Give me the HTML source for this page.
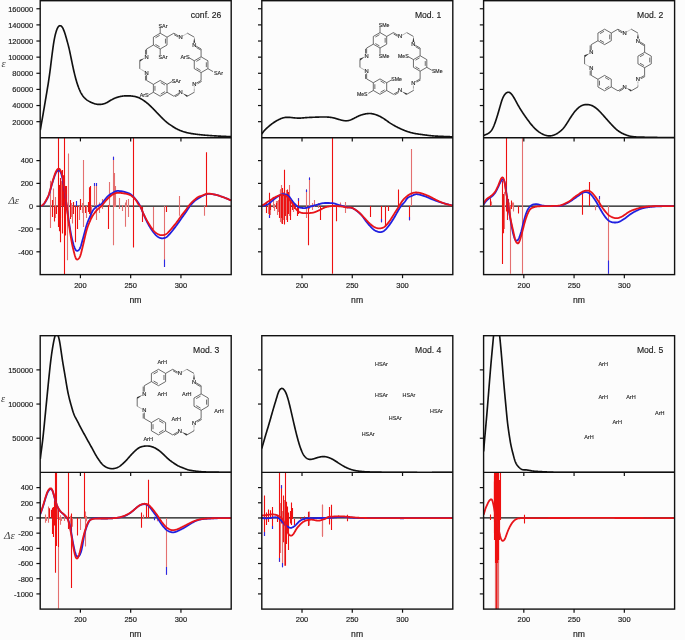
<!DOCTYPE html><html><head><meta charset="utf-8"><style>html,body{margin:0;padding:0;background:#fff;width:685px;height:640px;overflow:hidden}svg{display:block;will-change:transform}</style></head><body><svg width="685" height="640" viewBox="0 0 685 640">
<rect width="685" height="640" fill="#fcfcfc"/>
<style>.tl{font-family:"Liberation Sans", sans-serif;font-size:7.5px;fill:#222;stroke:#222;stroke-width:0.18px} .nm{font-size:8.6px} .ti{font-family:"Liberation Sans", sans-serif;font-size:8.6px;fill:#222;stroke:#222;stroke-width:0.15px} .lab{font-family:"Liberation Sans", sans-serif;font-size:5.6px;fill:#333} .gr{font-family:"Liberation Serif",serif;font-style:italic;fill:#444}</style>
<line x1="40.20" y1="206.20" x2="231.20" y2="206.20" stroke="#111" stroke-width="1.3"/>
<line x1="261.80" y1="206.20" x2="452.80" y2="206.20" stroke="#111" stroke-width="1.3"/>
<line x1="483.60" y1="206.20" x2="674.60" y2="206.20" stroke="#111" stroke-width="1.3"/>
<line x1="40.20" y1="517.97" x2="231.20" y2="517.97" stroke="#111" stroke-width="1.3"/>
<line x1="261.80" y1="517.97" x2="452.80" y2="517.97" stroke="#111" stroke-width="1.3"/>
<line x1="483.60" y1="517.97" x2="674.60" y2="517.97" stroke="#111" stroke-width="1.3"/>
<defs>
<clipPath id="cu00"><rect x="40.20" y="0.70" width="191.00" height="137.10"/></clipPath>
<clipPath id="cl00"><rect x="40.20" y="137.80" width="191.00" height="136.80"/></clipPath>
<clipPath id="cu01"><rect x="261.80" y="0.70" width="191.00" height="137.10"/></clipPath>
<clipPath id="cl01"><rect x="261.80" y="137.80" width="191.00" height="136.80"/></clipPath>
<clipPath id="cu02"><rect x="483.60" y="0.70" width="191.00" height="137.10"/></clipPath>
<clipPath id="cl02"><rect x="483.60" y="137.80" width="191.00" height="136.80"/></clipPath>
<clipPath id="cu10"><rect x="40.20" y="335.70" width="191.00" height="136.70"/></clipPath>
<clipPath id="cl10"><rect x="40.20" y="472.40" width="191.00" height="136.70"/></clipPath>
<clipPath id="cu11"><rect x="261.80" y="335.70" width="191.00" height="136.70"/></clipPath>
<clipPath id="cl11"><rect x="261.80" y="472.40" width="191.00" height="136.70"/></clipPath>
<clipPath id="cu12"><rect x="483.60" y="335.70" width="191.00" height="136.70"/></clipPath>
<clipPath id="cl12"><rect x="483.60" y="472.40" width="191.00" height="136.70"/></clipPath>
</defs>
<g clip-path="url(#cl00)">
<line x1="50.50" y1="180.80" x2="50.50" y2="228.00" stroke="#e47070" stroke-width="1.1"/>
<line x1="52.50" y1="200.00" x2="52.50" y2="217.00" stroke="#ee1010" stroke-width="1.1"/>
<line x1="53.50" y1="188.40" x2="53.50" y2="206.00" stroke="#e47070" stroke-width="1.1"/>
<line x1="54.50" y1="206.00" x2="54.50" y2="221.40" stroke="#ee1010" stroke-width="1.1"/>
<line x1="55.50" y1="197.00" x2="55.50" y2="218.00" stroke="#e47070" stroke-width="1.1"/>
<line x1="56.50" y1="206.00" x2="56.50" y2="214.00" stroke="#ee1010" stroke-width="1.1"/>
<line x1="58.50" y1="138.00" x2="58.50" y2="227.00" stroke="#ee1010" stroke-width="1.1"/>
<line x1="59.50" y1="200.00" x2="59.50" y2="231.30" stroke="#ee1010" stroke-width="1.1"/>
<line x1="60.50" y1="184.00" x2="60.50" y2="242.20" stroke="#ee1010" stroke-width="1.1"/>
<line x1="61.50" y1="180.80" x2="61.50" y2="206.00" stroke="#e47070" stroke-width="1.1"/>
<line x1="62.50" y1="206.00" x2="62.50" y2="233.40" stroke="#ee1010" stroke-width="1.1"/>
<line x1="62.50" y1="200.00" x2="62.50" y2="218.00" stroke="#ee1010" stroke-width="1.1"/>
<line x1="63.50" y1="175.30" x2="63.50" y2="206.00" stroke="#ee1010" stroke-width="1.1"/>
<line x1="64.50" y1="138.00" x2="64.50" y2="275.00" stroke="#ee1010" stroke-width="1.1"/>
<line x1="65.50" y1="190.00" x2="65.50" y2="235.60" stroke="#ee1010" stroke-width="1.1"/>
<line x1="66.50" y1="186.00" x2="66.50" y2="210.00" stroke="#ee1010" stroke-width="1.1"/>
<line x1="67.50" y1="206.00" x2="67.50" y2="260.20" stroke="#e47070" stroke-width="1.1"/>
<line x1="68.50" y1="153.40" x2="68.50" y2="206.00" stroke="#e47070" stroke-width="1.1"/>
<line x1="70.50" y1="200.00" x2="70.50" y2="219.00" stroke="#ee1010" stroke-width="1.1"/>
<line x1="71.50" y1="203.00" x2="71.50" y2="217.00" stroke="#e47070" stroke-width="1.1"/>
<line x1="72.50" y1="206.00" x2="72.50" y2="223.60" stroke="#e47070" stroke-width="1.1"/>
<line x1="73.50" y1="202.00" x2="73.50" y2="214.00" stroke="#ee1010" stroke-width="1.1"/>
<line x1="75.50" y1="206.00" x2="75.50" y2="242.20" stroke="#ee1010" stroke-width="1.1"/>
<line x1="76.50" y1="201.00" x2="76.50" y2="206.00" stroke="#2a2ae6" stroke-width="1.1"/>
<line x1="77.50" y1="206.00" x2="77.50" y2="229.00" stroke="#ee1010" stroke-width="1.1"/>
<line x1="79.50" y1="206.00" x2="79.50" y2="220.00" stroke="#e47070" stroke-width="1.1"/>
<line x1="80.50" y1="199.00" x2="80.50" y2="210.00" stroke="#ee1010" stroke-width="1.1"/>
<line x1="82.50" y1="203.00" x2="82.50" y2="213.00" stroke="#e47070" stroke-width="1.1"/>
<line x1="83.50" y1="160.00" x2="83.50" y2="227.00" stroke="#e47070" stroke-width="1.1"/>
<line x1="85.50" y1="206.00" x2="85.50" y2="213.00" stroke="#ee1010" stroke-width="1.1"/>
<line x1="86.50" y1="206.00" x2="86.50" y2="218.00" stroke="#e47070" stroke-width="1.1"/>
<line x1="88.50" y1="202.00" x2="88.50" y2="212.00" stroke="#ee1010" stroke-width="1.1"/>
<line x1="89.50" y1="187.30" x2="89.50" y2="214.00" stroke="#ee1010" stroke-width="1.1"/>
<line x1="90.50" y1="186.00" x2="90.50" y2="219.20" stroke="#ee1010" stroke-width="1.1"/>
<line x1="91.50" y1="206.00" x2="91.50" y2="219.00" stroke="#e47070" stroke-width="1.1"/>
<line x1="94.50" y1="183.00" x2="94.50" y2="206.00" stroke="#e47070" stroke-width="1.1"/>
<line x1="94.50" y1="183.00" x2="94.50" y2="186.00" stroke="#2a2ae6" stroke-width="1.1"/>
<line x1="59.50" y1="185.00" x2="59.50" y2="206.00" stroke="#ee1010" stroke-width="1.1"/>
<line x1="60.50" y1="178.00" x2="60.50" y2="206.00" stroke="#ee1010" stroke-width="1.1"/>
<line x1="62.50" y1="182.00" x2="62.50" y2="206.00" stroke="#ee1010" stroke-width="1.1"/>
<line x1="62.50" y1="170.00" x2="62.50" y2="206.00" stroke="#ee1010" stroke-width="1.1"/>
<line x1="64.50" y1="176.00" x2="64.50" y2="206.00" stroke="#ee1010" stroke-width="1.1"/>
<line x1="65.50" y1="186.00" x2="65.50" y2="206.00" stroke="#ee1010" stroke-width="1.1"/>
<line x1="66.50" y1="190.00" x2="66.50" y2="206.00" stroke="#ee1010" stroke-width="1.1"/>
<line x1="68.50" y1="206.00" x2="68.50" y2="226.00" stroke="#e47070" stroke-width="1.1"/>
<line x1="96.50" y1="183.00" x2="96.50" y2="220.00" stroke="#e47070" stroke-width="1.1"/>
<line x1="96.50" y1="183.00" x2="96.50" y2="186.00" stroke="#2a2ae6" stroke-width="1.1"/>
<line x1="99.50" y1="202.60" x2="99.50" y2="213.00" stroke="#e47070" stroke-width="1.1"/>
<line x1="102.50" y1="199.00" x2="102.50" y2="209.00" stroke="#e47070" stroke-width="1.1"/>
<line x1="108.50" y1="205.00" x2="108.50" y2="229.00" stroke="#ee1010" stroke-width="1.1"/>
<line x1="109.50" y1="182.00" x2="109.50" y2="207.00" stroke="#e47070" stroke-width="1.1"/>
<line x1="113.50" y1="156.70" x2="113.50" y2="245.30" stroke="#e47070" stroke-width="1.1"/>
<line x1="113.50" y1="156.70" x2="113.50" y2="160.00" stroke="#2a2ae6" stroke-width="1.1"/>
<line x1="114.50" y1="173.00" x2="114.50" y2="207.00" stroke="#e47070" stroke-width="1.1"/>
<line x1="115.50" y1="186.00" x2="115.50" y2="207.00" stroke="#e47070" stroke-width="1.1"/>
<line x1="119.50" y1="198.00" x2="119.50" y2="209.00" stroke="#e47070" stroke-width="1.1"/>
<line x1="122.50" y1="205.00" x2="122.50" y2="211.00" stroke="#e47070" stroke-width="1.1"/>
<line x1="125.50" y1="202.60" x2="125.50" y2="226.70" stroke="#e47070" stroke-width="1.1"/>
<line x1="126.50" y1="200.00" x2="126.50" y2="207.00" stroke="#e47070" stroke-width="1.1"/>
<line x1="128.50" y1="199.00" x2="128.50" y2="217.00" stroke="#e47070" stroke-width="1.1"/>
<line x1="133.50" y1="138.00" x2="133.50" y2="247.50" stroke="#ee1010" stroke-width="1.1"/>
<line x1="142.50" y1="207.00" x2="142.50" y2="222.00" stroke="#ee1010" stroke-width="1.1"/>
<line x1="153.50" y1="207.00" x2="153.50" y2="229.00" stroke="#e47070" stroke-width="1.1"/>
<line x1="164.50" y1="206.00" x2="164.50" y2="267.00" stroke="#e47070" stroke-width="1.1"/>
<line x1="164.50" y1="259.50" x2="164.50" y2="267.00" stroke="#2a2ae6" stroke-width="1.1"/>
<line x1="166.50" y1="206.00" x2="166.50" y2="212.00" stroke="#ee1010" stroke-width="1.1"/>
<line x1="179.50" y1="196.00" x2="179.50" y2="215.80" stroke="#e47070" stroke-width="1.1"/>
<line x1="204.50" y1="206.00" x2="204.50" y2="215.80" stroke="#e47070" stroke-width="1.1"/>
<line x1="206.50" y1="152.30" x2="206.50" y2="207.00" stroke="#ee1010" stroke-width="1.1"/>
<path d="M40.20,206.10 L40.60,206.03 L41.00,205.95 L41.40,205.84 L41.80,205.69 L42.20,205.50 L42.60,205.25 L43.00,204.94 L43.40,204.57 L43.80,204.14 L44.20,203.66 L44.60,203.13 L45.00,202.55 L45.40,201.93 L45.80,201.28 L46.20,200.60 L46.60,199.90 L47.00,199.16 L47.40,198.37 L47.80,197.52 L48.20,196.60 L48.60,195.59 L49.00,194.49 L49.40,193.30 L49.80,192.00 L50.20,190.61 L50.60,189.16 L51.00,187.69 L51.40,186.24 L51.80,184.85 L52.20,183.49 L52.60,182.17 L53.00,180.88 L53.40,179.60 L53.80,178.36 L54.20,177.17 L54.60,176.05 L55.00,175.00 L55.40,174.04 L55.80,173.18 L56.20,172.44 L56.60,171.81 L57.00,171.29 L57.40,170.90 L57.80,170.62 L58.20,170.43 L58.60,170.34 L59.00,170.36 L59.40,170.53 L59.80,170.87 L60.20,171.41 L60.60,172.15 L61.00,173.11 L61.40,174.28 L61.80,175.66 L62.20,177.22 L62.60,178.95 L63.00,180.83 L63.40,182.90 L63.80,185.16 L64.20,187.64 L64.60,190.34 L65.00,193.21 L65.40,196.18 L65.80,199.22 L66.20,202.25 L66.60,205.23 L67.00,208.15 L67.40,211.02 L67.80,213.84 L68.20,216.62 L68.60,219.37 L69.00,222.09 L69.40,224.73 L69.80,227.28 L70.20,229.69 L70.60,231.96 L71.00,234.09 L71.40,236.09 L71.80,237.95 L72.20,239.70 L72.60,241.32 L73.00,242.82 L73.40,244.22 L73.80,245.50 L74.20,246.68 L74.60,247.74 L75.00,248.66 L75.40,249.44 L75.80,250.05 L76.20,250.49 L76.60,250.75 L77.00,250.86 L77.40,250.83 L77.80,250.70 L78.20,250.48 L78.60,250.19 L79.00,249.79 L79.40,249.26 L79.80,248.59 L80.20,247.75 L80.60,246.72 L81.00,245.50 L81.40,244.15 L81.80,242.72 L82.20,241.28 L82.60,239.84 L83.00,238.41 L83.40,236.96 L83.80,235.50 L84.20,234.01 L84.60,232.50 L85.00,231.00 L85.40,229.50 L85.80,228.03 L86.20,226.61 L86.60,225.26 L87.00,224.00 L87.40,222.85 L87.80,221.80 L88.20,220.81 L88.60,219.87 L89.00,218.96 L89.40,218.04 L89.80,217.12 L90.20,216.20 L90.60,215.28 L91.00,214.38 L91.40,213.50 L91.80,212.65 L92.20,211.83 L92.60,211.07 L93.00,210.38 L93.40,209.77 L93.80,209.25 L94.20,208.82 L94.60,208.45 L95.00,208.10 L95.40,207.76 L95.80,207.42 L96.20,207.09 L96.60,206.77 L97.00,206.46 L97.40,206.17 L97.80,205.90 L98.20,205.66 L98.60,205.44 L99.00,205.24 L99.40,205.04 L99.80,204.85 L100.20,204.65 L100.60,204.42 L101.00,204.17 L101.40,203.87 L101.80,203.52 L102.20,203.11 L102.60,202.67 L103.00,202.18 L103.40,201.67 L103.80,201.14 L104.20,200.61 L104.60,200.07 L105.00,199.54 L105.40,199.02 L105.80,198.51 L106.20,198.03 L106.60,197.56 L107.00,197.11 L107.40,196.69 L107.80,196.28 L108.20,195.91 L108.60,195.56 L109.00,195.24 L109.40,194.93 L109.80,194.65 L110.20,194.38 L110.60,194.12 L111.00,193.88 L111.40,193.64 L111.80,193.40 L112.20,193.17 L112.60,192.94 L113.00,192.71 L113.40,192.48 L113.80,192.25 L114.20,192.03 L114.60,191.82 L115.00,191.63 L115.40,191.45 L115.80,191.30 L116.20,191.17 L116.60,191.06 L117.00,190.98 L117.40,190.94 L117.80,190.92 L118.20,190.93 L118.60,190.95 L119.00,190.98 L119.40,191.03 L119.80,191.08 L120.20,191.12 L120.60,191.17 L121.00,191.22 L121.40,191.26 L121.80,191.32 L122.20,191.37 L122.60,191.44 L123.00,191.51 L123.40,191.60 L123.80,191.70 L124.20,191.81 L124.60,191.92 L125.00,192.05 L125.40,192.18 L125.80,192.31 L126.20,192.44 L126.60,192.57 L127.00,192.69 L127.40,192.82 L127.80,192.95 L128.20,193.08 L128.60,193.23 L129.00,193.39 L129.40,193.58 L129.80,193.79 L130.20,194.02 L130.60,194.29 L131.00,194.58 L131.40,194.90 L131.80,195.25 L132.20,195.61 L132.60,195.99 L133.00,196.39 L133.40,196.80 L133.80,197.23 L134.20,197.66 L134.60,198.11 L135.00,198.57 L135.40,199.04 L135.80,199.51 L136.20,200.00 L136.60,200.50 L137.00,201.01 L137.40,201.53 L137.80,202.08 L138.20,202.66 L138.60,203.27 L139.00,203.93 L139.40,204.63 L139.80,205.40 L140.20,206.23 L140.60,207.11 L141.00,208.03 L141.40,208.97 L141.80,209.94 L142.20,210.91 L142.60,211.88 L143.00,212.84 L143.40,213.79 L143.80,214.72 L144.20,215.65 L144.60,216.57 L145.00,217.48 L145.40,218.38 L145.80,219.27 L146.20,220.14 L146.60,220.98 L147.00,221.80 L147.40,222.59 L147.80,223.36 L148.20,224.10 L148.60,224.82 L149.00,225.52 L149.40,226.20 L149.80,226.87 L150.20,227.53 L150.60,228.17 L151.00,228.79 L151.40,229.41 L151.80,230.00 L152.20,230.58 L152.60,231.14 L153.00,231.69 L153.40,232.21 L153.80,232.73 L154.20,233.22 L154.60,233.70 L155.00,234.16 L155.40,234.60 L155.80,235.02 L156.20,235.41 L156.60,235.78 L157.00,236.12 L157.40,236.44 L157.80,236.73 L158.20,237.00 L158.60,237.24 L159.00,237.46 L159.40,237.66 L159.80,237.83 L160.20,237.98 L160.60,238.10 L161.00,238.19 L161.40,238.26 L161.80,238.29 L162.20,238.31 L162.60,238.29 L163.00,238.26 L163.40,238.20 L163.80,238.13 L164.20,238.05 L164.60,237.95 L165.00,237.84 L165.40,237.70 L165.80,237.52 L166.20,237.30 L166.60,237.02 L167.00,236.69 L167.40,236.32 L167.80,235.93 L168.20,235.51 L168.60,235.10 L169.00,234.68 L169.40,234.26 L169.80,233.83 L170.20,233.40 L170.60,232.95 L171.00,232.48 L171.40,232.00 L171.80,231.50 L172.20,230.99 L172.60,230.48 L173.00,229.96 L173.40,229.44 L173.80,228.93 L174.20,228.42 L174.60,227.90 L175.00,227.39 L175.40,226.86 L175.80,226.33 L176.20,225.80 L176.60,225.25 L177.00,224.70 L177.40,224.14 L177.80,223.58 L178.20,223.02 L178.60,222.45 L179.00,221.88 L179.40,221.30 L179.80,220.72 L180.20,220.15 L180.60,219.56 L181.00,218.98 L181.40,218.40 L181.80,217.83 L182.20,217.26 L182.60,216.70 L183.00,216.15 L183.40,215.60 L183.80,215.06 L184.20,214.52 L184.60,213.96 L185.00,213.40 L185.40,212.82 L185.80,212.23 L186.20,211.63 L186.60,211.03 L187.00,210.41 L187.40,209.80 L187.80,209.19 L188.20,208.58 L188.60,207.98 L189.00,207.39 L189.40,206.82 L189.80,206.26 L190.20,205.74 L190.60,205.23 L191.00,204.74 L191.40,204.28 L191.80,203.82 L192.20,203.38 L192.60,202.95 L193.00,202.54 L193.40,202.14 L193.80,201.75 L194.20,201.38 L194.60,201.02 L195.00,200.68 L195.40,200.35 L195.80,200.04 L196.20,199.75 L196.60,199.47 L197.00,199.20 L197.40,198.95 L197.80,198.71 L198.20,198.47 L198.60,198.24 L199.00,198.00 L199.40,197.76 L199.80,197.51 L200.20,197.26 L200.60,197.01 L201.00,196.76 L201.40,196.52 L201.80,196.28 L202.20,196.06 L202.60,195.84 L203.00,195.63 L203.40,195.43 L203.80,195.24 L204.20,195.06 L204.60,194.89 L205.00,194.73 L205.40,194.59 L205.80,194.46 L206.20,194.34 L206.60,194.24 L207.00,194.15 L207.40,194.07 L207.80,194.01 L208.20,193.96 L208.60,193.93 L209.00,193.91 L209.40,193.90 L209.80,193.91 L210.20,193.93 L210.60,193.96 L211.00,193.99 L211.40,194.04 L211.80,194.10 L212.20,194.15 L212.60,194.22 L213.00,194.28 L213.40,194.35 L213.80,194.42 L214.20,194.49 L214.60,194.57 L215.00,194.65 L215.40,194.74 L215.80,194.83 L216.20,194.92 L216.60,195.02 L217.00,195.13 L217.40,195.24 L217.80,195.35 L218.20,195.47 L218.60,195.60 L219.00,195.72 L219.40,195.85 L219.80,195.99 L220.20,196.12 L220.60,196.26 L221.00,196.40 L221.40,196.53 L221.80,196.67 L222.20,196.81 L222.60,196.95 L223.00,197.09 L223.40,197.24 L223.80,197.38 L224.20,197.53 L224.60,197.67 L225.00,197.83 L225.40,197.98 L225.80,198.14 L226.20,198.30 L226.60,198.47 L227.00,198.63 L227.40,198.81 L227.80,198.98 L228.20,199.16 L228.60,199.34 L229.00,199.52 L229.40,199.71 L229.80,199.89 L230.20,200.08 L230.60,200.27 L231.00,200.45 L231.10,200.50" fill="none" stroke="#2020e0" stroke-width="1.8" stroke-linejoin="round"/>
<path d="M40.20,206.10 L40.60,205.99 L41.00,205.86 L41.40,205.71 L41.80,205.53 L42.20,205.30 L42.60,205.01 L43.00,204.66 L43.40,204.26 L43.80,203.79 L44.20,203.27 L44.60,202.69 L45.00,202.06 L45.40,201.40 L45.80,200.71 L46.20,200.00 L46.60,199.29 L47.00,198.55 L47.40,197.77 L47.80,196.92 L48.20,196.00 L48.60,194.98 L49.00,193.86 L49.40,192.63 L49.80,191.30 L50.20,189.87 L50.60,188.39 L51.00,186.90 L51.40,185.44 L51.80,184.05 L52.20,182.70 L52.60,181.38 L53.00,180.07 L53.40,178.76 L53.80,177.46 L54.20,176.21 L54.60,175.01 L55.00,173.90 L55.40,172.88 L55.80,171.95 L56.20,171.13 L56.60,170.43 L57.00,169.85 L57.40,169.40 L57.80,169.06 L58.20,168.84 L58.60,168.73 L59.00,168.75 L59.40,168.93 L59.80,169.29 L60.20,169.84 L60.60,170.57 L61.00,171.48 L61.40,172.56 L61.80,173.83 L62.20,175.28 L62.60,176.93 L63.00,178.79 L63.40,180.86 L63.80,183.19 L64.20,185.77 L64.60,188.62 L65.00,191.69 L65.40,194.93 L65.80,198.29 L66.20,201.73 L66.60,205.20 L67.00,208.67 L67.40,212.08 L67.80,215.42 L68.20,218.64 L68.60,221.72 L69.00,224.64 L69.40,227.45 L69.80,230.16 L70.20,232.83 L70.60,235.43 L71.00,237.94 L71.40,240.32 L71.80,242.54 L72.20,244.57 L72.60,246.44 L73.00,248.20 L73.40,249.88 L73.80,251.50 L74.20,253.09 L74.60,254.61 L75.00,256.01 L75.40,257.24 L75.80,258.23 L76.20,258.95 L76.60,259.36 L77.00,259.53 L77.40,259.50 L77.80,259.32 L78.20,259.06 L78.60,258.73 L79.00,258.29 L79.40,257.72 L79.80,256.98 L80.20,256.05 L80.60,254.89 L81.00,253.50 L81.40,251.96 L81.80,250.33 L82.20,248.67 L82.60,247.03 L83.00,245.38 L83.40,243.71 L83.80,242.00 L84.20,240.25 L84.60,238.48 L85.00,236.72 L85.40,235.00 L85.80,233.34 L86.20,231.76 L86.60,230.27 L87.00,228.90 L87.40,227.65 L87.80,226.51 L88.20,225.45 L88.60,224.45 L89.00,223.48 L89.40,222.52 L89.80,221.57 L90.20,220.62 L90.60,219.71 L91.00,218.83 L91.40,218.00 L91.80,217.23 L92.20,216.51 L92.60,215.83 L93.00,215.20 L93.40,214.59 L93.80,214.01 L94.20,213.46 L94.60,212.92 L95.00,212.40 L95.40,211.89 L95.80,211.40 L96.20,210.92 L96.60,210.46 L97.00,210.01 L97.40,209.59 L97.80,209.19 L98.20,208.82 L98.60,208.47 L99.00,208.13 L99.40,207.81 L99.80,207.49 L100.20,207.17 L100.60,206.83 L101.00,206.48 L101.40,206.10 L101.80,205.69 L102.20,205.25 L102.60,204.78 L103.00,204.29 L103.40,203.79 L103.80,203.28 L104.20,202.76 L104.60,202.25 L105.00,201.75 L105.40,201.26 L105.80,200.79 L106.20,200.33 L106.60,199.88 L107.00,199.44 L107.40,199.02 L107.80,198.60 L108.20,198.20 L108.60,197.81 L109.00,197.43 L109.40,197.07 L109.80,196.71 L110.20,196.37 L110.60,196.04 L111.00,195.73 L111.40,195.43 L111.80,195.14 L112.20,194.86 L112.60,194.60 L113.00,194.35 L113.40,194.12 L113.80,193.91 L114.20,193.72 L114.60,193.54 L115.00,193.39 L115.40,193.25 L115.80,193.13 L116.20,193.04 L116.60,192.96 L117.00,192.89 L117.40,192.84 L117.80,192.81 L118.20,192.79 L118.60,192.79 L119.00,192.80 L119.40,192.81 L119.80,192.84 L120.20,192.87 L120.60,192.92 L121.00,192.96 L121.40,193.01 L121.80,193.07 L122.20,193.12 L122.60,193.18 L123.00,193.24 L123.40,193.30 L123.80,193.37 L124.20,193.43 L124.60,193.50 L125.00,193.57 L125.40,193.64 L125.80,193.72 L126.20,193.80 L126.60,193.88 L127.00,193.96 L127.40,194.06 L127.80,194.16 L128.20,194.28 L128.60,194.41 L129.00,194.56 L129.40,194.72 L129.80,194.90 L130.20,195.10 L130.60,195.33 L131.00,195.57 L131.40,195.83 L131.80,196.11 L132.20,196.40 L132.60,196.70 L133.00,197.02 L133.40,197.36 L133.80,197.72 L134.20,198.10 L134.60,198.51 L135.00,198.95 L135.40,199.44 L135.80,199.97 L136.20,200.55 L136.60,201.20 L137.00,201.91 L137.40,202.64 L137.80,203.35 L138.20,204.01 L138.60,204.57 L139.00,204.99 L139.40,205.32 L139.80,205.67 L140.20,206.18 L140.60,206.88 L141.00,207.72 L141.40,208.67 L141.80,209.68 L142.20,210.70 L142.60,211.69 L143.00,212.62 L143.40,213.51 L143.80,214.37 L144.20,215.19 L144.60,216.00 L145.00,216.80 L145.40,217.58 L145.80,218.35 L146.20,219.12 L146.60,219.87 L147.00,220.60 L147.40,221.32 L147.80,222.02 L148.20,222.72 L148.60,223.39 L149.00,224.05 L149.40,224.70 L149.80,225.33 L150.20,225.95 L150.60,226.56 L151.00,227.15 L151.40,227.73 L151.80,228.30 L152.20,228.85 L152.60,229.39 L153.00,229.91 L153.40,230.40 L153.80,230.87 L154.20,231.31 L154.60,231.71 L155.00,232.09 L155.40,232.43 L155.80,232.76 L156.20,233.06 L156.60,233.34 L157.00,233.60 L157.40,233.84 L157.80,234.06 L158.20,234.27 L158.60,234.46 L159.00,234.62 L159.40,234.77 L159.80,234.90 L160.20,235.01 L160.60,235.10 L161.00,235.16 L161.40,235.21 L161.80,235.22 L162.20,235.22 L162.60,235.19 L163.00,235.14 L163.40,235.06 L163.80,234.97 L164.20,234.86 L164.60,234.74 L165.00,234.59 L165.40,234.43 L165.80,234.23 L166.20,234.00 L166.60,233.72 L167.00,233.41 L167.40,233.06 L167.80,232.69 L168.20,232.30 L168.60,231.90 L169.00,231.49 L169.40,231.07 L169.80,230.64 L170.20,230.20 L170.60,229.75 L171.00,229.28 L171.40,228.81 L171.80,228.32 L172.20,227.83 L172.60,227.34 L173.00,226.84 L173.40,226.36 L173.80,225.88 L174.20,225.40 L174.60,224.92 L175.00,224.44 L175.40,223.95 L175.80,223.45 L176.20,222.94 L176.60,222.41 L177.00,221.88 L177.40,221.34 L177.80,220.78 L178.20,220.22 L178.60,219.64 L179.00,219.07 L179.40,218.49 L179.80,217.91 L180.20,217.34 L180.60,216.78 L181.00,216.22 L181.40,215.68 L181.80,215.14 L182.20,214.61 L182.60,214.10 L183.00,213.60 L183.40,213.10 L183.80,212.60 L184.20,212.11 L184.60,211.61 L185.00,211.10 L185.40,210.58 L185.80,210.04 L186.20,209.49 L186.60,208.93 L187.00,208.35 L187.40,207.77 L187.80,207.18 L188.20,206.60 L188.60,206.04 L189.00,205.51 L189.40,205.00 L189.80,204.53 L190.20,204.07 L190.60,203.63 L191.00,203.20 L191.40,202.77 L191.80,202.36 L192.20,201.95 L192.60,201.55 L193.00,201.17 L193.40,200.80 L193.80,200.45 L194.20,200.11 L194.60,199.78 L195.00,199.46 L195.40,199.13 L195.80,198.80 L196.20,198.46 L196.60,198.12 L197.00,197.79 L197.40,197.48 L197.80,197.19 L198.20,196.94 L198.60,196.74 L199.00,196.56 L199.40,196.42 L199.80,196.30 L200.20,196.19 L200.60,196.09 L201.00,195.98 L201.40,195.86 L201.80,195.73 L202.20,195.58 L202.60,195.42 L203.00,195.24 L203.40,195.06 L203.80,194.88 L204.20,194.69 L204.60,194.52 L205.00,194.35 L205.40,194.20 L205.80,194.06 L206.20,193.95 L206.60,193.85 L207.00,193.78 L207.40,193.73 L207.80,193.70 L208.20,193.68 L208.60,193.68 L209.00,193.69 L209.40,193.71 L209.80,193.73 L210.20,193.77 L210.60,193.81 L211.00,193.86 L211.40,193.92 L211.80,193.98 L212.20,194.05 L212.60,194.12 L213.00,194.19 L213.40,194.27 L213.80,194.35 L214.20,194.43 L214.60,194.52 L215.00,194.61 L215.40,194.71 L215.80,194.81 L216.20,194.91 L216.60,195.02 L217.00,195.13 L217.40,195.24 L217.80,195.36 L218.20,195.48 L218.60,195.61 L219.00,195.73 L219.40,195.86 L219.80,195.99 L220.20,196.13 L220.60,196.26 L221.00,196.40 L221.40,196.53 L221.80,196.67 L222.20,196.81 L222.60,196.95 L223.00,197.09 L223.40,197.23 L223.80,197.38 L224.20,197.52 L224.60,197.67 L225.00,197.82 L225.40,197.98 L225.80,198.14 L226.20,198.30 L226.60,198.47 L227.00,198.64 L227.40,198.81 L227.80,198.98 L228.20,199.16 L228.60,199.34 L229.00,199.52 L229.40,199.71 L229.80,199.89 L230.20,200.08 L230.60,200.27 L231.00,200.45 L231.10,200.50" fill="none" stroke="#e8141a" stroke-width="1.8" stroke-linejoin="round"/>
</g>
<g clip-path="url(#cu00)"><path d="M40.30,130.00 L40.70,127.74 L41.10,125.47 L41.50,123.20 L41.90,120.93 L42.30,118.65 L42.70,116.35 L43.10,114.05 L43.50,111.73 L43.90,109.40 L44.30,107.06 L44.70,104.71 L45.10,102.35 L45.50,99.97 L45.90,97.59 L46.30,95.20 L46.70,92.80 L47.10,90.40 L47.50,87.98 L47.90,85.53 L48.30,83.02 L48.70,80.42 L49.10,77.70 L49.50,74.85 L49.90,71.86 L50.30,68.78 L50.70,65.62 L51.10,62.42 L51.50,59.19 L51.90,55.98 L52.30,52.82 L52.70,49.77 L53.10,46.86 L53.50,44.14 L53.90,41.66 L54.30,39.41 L54.70,37.38 L55.10,35.56 L55.50,33.92 L55.90,32.45 L56.30,31.13 L56.70,29.97 L57.10,28.95 L57.50,28.08 L57.90,27.36 L58.30,26.77 L58.70,26.32 L59.10,25.99 L59.50,25.79 L59.90,25.69 L60.30,25.70 L60.70,25.81 L61.10,26.01 L61.50,26.33 L61.90,26.75 L62.30,27.29 L62.70,27.94 L63.10,28.71 L63.50,29.59 L63.90,30.57 L64.30,31.64 L64.70,32.80 L65.10,34.03 L65.50,35.33 L65.90,36.67 L66.30,38.06 L66.70,39.48 L67.10,40.92 L67.50,42.38 L67.90,43.87 L68.30,45.40 L68.70,47.00 L69.10,48.67 L69.50,50.42 L69.90,52.25 L70.30,54.14 L70.70,56.08 L71.10,58.03 L71.50,59.99 L71.90,61.94 L72.30,63.87 L72.70,65.77 L73.10,67.64 L73.50,69.45 L73.90,71.22 L74.30,72.92 L74.70,74.57 L75.10,76.16 L75.50,77.69 L75.90,79.16 L76.30,80.57 L76.70,81.93 L77.10,83.22 L77.50,84.46 L77.90,85.63 L78.30,86.75 L78.70,87.82 L79.10,88.82 L79.50,89.78 L79.90,90.68 L80.30,91.53 L80.70,92.33 L81.10,93.08 L81.50,93.79 L81.90,94.45 L82.30,95.07 L82.70,95.65 L83.10,96.19 L83.50,96.70 L83.90,97.17 L84.30,97.62 L84.70,98.03 L85.10,98.43 L85.50,98.80 L85.90,99.15 L86.30,99.48 L86.70,99.80 L87.10,100.10 L87.50,100.38 L87.90,100.65 L88.30,100.90 L88.70,101.14 L89.10,101.37 L89.50,101.59 L89.90,101.79 L90.30,101.99 L90.70,102.18 L91.10,102.37 L91.50,102.54 L91.90,102.72 L92.30,102.88 L92.70,103.04 L93.10,103.19 L93.50,103.34 L93.90,103.48 L94.30,103.61 L94.70,103.73 L95.10,103.85 L95.50,103.95 L95.90,104.05 L96.30,104.13 L96.70,104.21 L97.10,104.27 L97.50,104.33 L97.90,104.37 L98.30,104.40 L98.70,104.42 L99.10,104.43 L99.50,104.43 L99.90,104.42 L100.30,104.41 L100.70,104.38 L101.10,104.34 L101.50,104.29 L101.90,104.24 L102.30,104.17 L102.70,104.09 L103.10,104.00 L103.50,103.90 L103.90,103.79 L104.30,103.66 L104.70,103.53 L105.10,103.38 L105.50,103.22 L105.90,103.05 L106.30,102.86 L106.70,102.66 L107.10,102.45 L107.50,102.23 L107.90,102.00 L108.30,101.77 L108.70,101.53 L109.10,101.29 L109.50,101.05 L109.90,100.81 L110.30,100.56 L110.70,100.32 L111.10,100.09 L111.50,99.86 L111.90,99.63 L112.30,99.42 L112.70,99.21 L113.10,99.01 L113.50,98.81 L113.90,98.62 L114.30,98.44 L114.70,98.27 L115.10,98.10 L115.50,97.94 L115.90,97.78 L116.30,97.63 L116.70,97.49 L117.10,97.36 L117.50,97.23 L117.90,97.11 L118.30,96.99 L118.70,96.88 L119.10,96.77 L119.50,96.68 L119.90,96.58 L120.30,96.50 L120.70,96.41 L121.10,96.34 L121.50,96.27 L121.90,96.20 L122.30,96.14 L122.70,96.09 L123.10,96.04 L123.50,95.99 L123.90,95.95 L124.30,95.92 L124.70,95.89 L125.10,95.86 L125.50,95.84 L125.90,95.82 L126.30,95.81 L126.70,95.80 L127.10,95.80 L127.50,95.80 L127.90,95.80 L128.30,95.81 L128.70,95.82 L129.10,95.84 L129.50,95.86 L129.90,95.88 L130.30,95.91 L130.70,95.94 L131.10,95.98 L131.50,96.02 L131.90,96.06 L132.30,96.11 L132.70,96.16 L133.10,96.21 L133.50,96.27 L133.90,96.34 L134.30,96.41 L134.70,96.48 L135.10,96.57 L135.50,96.66 L135.90,96.75 L136.30,96.86 L136.70,96.97 L137.10,97.09 L137.50,97.22 L137.90,97.37 L138.30,97.52 L138.70,97.68 L139.10,97.86 L139.50,98.05 L139.90,98.24 L140.30,98.45 L140.70,98.67 L141.10,98.89 L141.50,99.13 L141.90,99.37 L142.30,99.62 L142.70,99.87 L143.10,100.13 L143.50,100.40 L143.90,100.67 L144.30,100.95 L144.70,101.24 L145.10,101.53 L145.50,101.82 L145.90,102.13 L146.30,102.43 L146.70,102.75 L147.10,103.07 L147.50,103.40 L147.90,103.74 L148.30,104.09 L148.70,104.44 L149.10,104.80 L149.50,105.17 L149.90,105.54 L150.30,105.92 L150.70,106.30 L151.10,106.69 L151.50,107.09 L151.90,107.49 L152.30,107.89 L152.70,108.29 L153.10,108.70 L153.50,109.11 L153.90,109.52 L154.30,109.94 L154.70,110.35 L155.10,110.77 L155.50,111.19 L155.90,111.61 L156.30,112.03 L156.70,112.45 L157.10,112.87 L157.50,113.29 L157.90,113.70 L158.30,114.12 L158.70,114.54 L159.10,114.95 L159.50,115.37 L159.90,115.78 L160.30,116.19 L160.70,116.60 L161.10,117.00 L161.50,117.41 L161.90,117.81 L162.30,118.20 L162.70,118.60 L163.10,118.99 L163.50,119.37 L163.90,119.75 L164.30,120.12 L164.70,120.49 L165.10,120.86 L165.50,121.21 L165.90,121.56 L166.30,121.90 L166.70,122.24 L167.10,122.56 L167.50,122.88 L167.90,123.19 L168.30,123.48 L168.70,123.78 L169.10,124.06 L169.50,124.34 L169.90,124.61 L170.30,124.88 L170.70,125.15 L171.10,125.41 L171.50,125.67 L171.90,125.93 L172.30,126.20 L172.70,126.46 L173.10,126.71 L173.50,126.97 L173.90,127.23 L174.30,127.48 L174.70,127.73 L175.10,127.97 L175.50,128.21 L175.90,128.44 L176.30,128.67 L176.70,128.89 L177.10,129.10 L177.50,129.30 L177.90,129.50 L178.30,129.69 L178.70,129.87 L179.10,130.05 L179.50,130.22 L179.90,130.39 L180.30,130.55 L180.70,130.70 L181.10,130.85 L181.50,131.00 L181.90,131.14 L182.30,131.28 L182.70,131.42 L183.10,131.56 L183.50,131.69 L183.90,131.81 L184.30,131.94 L184.70,132.06 L185.10,132.17 L185.50,132.28 L185.90,132.39 L186.30,132.50 L186.70,132.60 L187.10,132.70 L187.50,132.79 L187.90,132.88 L188.30,132.97 L188.70,133.05 L189.10,133.13 L189.50,133.21 L189.90,133.29 L190.30,133.36 L190.70,133.43 L191.10,133.50 L191.50,133.57 L191.90,133.63 L192.30,133.69 L192.70,133.75 L193.10,133.81 L193.50,133.87 L193.90,133.93 L194.30,133.99 L194.70,134.04 L195.10,134.10 L195.50,134.15 L195.90,134.20 L196.30,134.25 L196.70,134.30 L197.10,134.35 L197.50,134.40 L197.90,134.45 L198.30,134.49 L198.70,134.54 L199.10,134.58 L199.50,134.63 L199.90,134.67 L200.30,134.71 L200.70,134.75 L201.10,134.79 L201.50,134.83 L201.90,134.87 L202.30,134.91 L202.70,134.95 L203.10,134.99 L203.50,135.02 L203.90,135.06 L204.30,135.10 L204.70,135.13 L205.10,135.17 L205.50,135.20 L205.90,135.23 L206.30,135.27 L206.70,135.30 L207.10,135.33 L207.50,135.36 L207.90,135.39 L208.30,135.42 L208.70,135.45 L209.10,135.48 L209.50,135.51 L209.90,135.54 L210.30,135.56 L210.70,135.59 L211.10,135.62 L211.50,135.65 L211.90,135.67 L212.30,135.70 L212.70,135.72 L213.10,135.75 L213.50,135.77 L213.90,135.80 L214.30,135.82 L214.70,135.85 L215.10,135.87 L215.50,135.89 L215.90,135.92 L216.30,135.94 L216.70,135.97 L217.10,135.99 L217.50,136.01 L217.90,136.03 L218.30,136.06 L218.70,136.08 L219.10,136.10 L219.50,136.12 L219.90,136.15 L220.30,136.17 L220.70,136.19 L221.10,136.21 L221.50,136.23 L221.90,136.25 L222.30,136.27 L222.70,136.29 L223.10,136.30 L223.50,136.32 L223.90,136.34 L224.30,136.36 L224.70,136.37 L225.10,136.39 L225.50,136.41 L225.90,136.42 L226.30,136.44 L226.70,136.45 L227.10,136.47 L227.50,136.48 L227.90,136.49 L228.30,136.51 L228.70,136.52 L229.10,136.54 L229.50,136.55 L229.90,136.56 L230.30,136.58 L230.70,136.59 L231.00,136.60" fill="none" stroke="#111" stroke-width="1.65" stroke-linejoin="round"/></g>
<g clip-path="url(#cl01)">
<line x1="269.50" y1="192.80" x2="269.50" y2="218.00" stroke="#ee1010" stroke-width="1.1"/>
<line x1="269.50" y1="215.00" x2="269.50" y2="218.00" stroke="#2a2ae6" stroke-width="1.1"/>
<line x1="270.50" y1="200.00" x2="270.50" y2="215.00" stroke="#e47070" stroke-width="1.1"/>
<line x1="273.50" y1="199.00" x2="273.50" y2="208.00" stroke="#e47070" stroke-width="1.1"/>
<line x1="276.50" y1="201.00" x2="276.50" y2="206.00" stroke="#e47070" stroke-width="1.1"/>
<line x1="278.50" y1="200.00" x2="278.50" y2="212.00" stroke="#e47070" stroke-width="1.1"/>
<line x1="280.50" y1="189.50" x2="280.50" y2="215.80" stroke="#ee1010" stroke-width="1.1"/>
<line x1="281.50" y1="185.00" x2="281.50" y2="223.40" stroke="#e47070" stroke-width="1.1"/>
<line x1="283.50" y1="193.00" x2="283.50" y2="217.00" stroke="#ee1010" stroke-width="1.1"/>
<line x1="284.50" y1="169.80" x2="284.50" y2="224.50" stroke="#ee1010" stroke-width="1.1"/>
<line x1="285.50" y1="195.00" x2="285.50" y2="216.00" stroke="#ee1010" stroke-width="1.1"/>
<line x1="287.50" y1="189.50" x2="287.50" y2="220.00" stroke="#ee1010" stroke-width="1.1"/>
<line x1="289.50" y1="185.00" x2="289.50" y2="207.00" stroke="#e47070" stroke-width="1.1"/>
<line x1="290.50" y1="202.00" x2="290.50" y2="220.00" stroke="#ee1010" stroke-width="1.1"/>
<line x1="292.50" y1="200.00" x2="292.50" y2="210.00" stroke="#ee1010" stroke-width="1.1"/>
<line x1="297.50" y1="206.00" x2="297.50" y2="216.00" stroke="#ee1010" stroke-width="1.1"/>
<line x1="298.50" y1="198.30" x2="298.50" y2="214.00" stroke="#ee1010" stroke-width="1.1"/>
<line x1="298.50" y1="198.30" x2="298.50" y2="201.00" stroke="#2a2ae6" stroke-width="1.1"/>
<line x1="306.50" y1="189.50" x2="306.50" y2="218.00" stroke="#e47070" stroke-width="1.1"/>
<line x1="306.50" y1="189.50" x2="306.50" y2="192.00" stroke="#2a2ae6" stroke-width="1.1"/>
<line x1="308.50" y1="206.00" x2="308.50" y2="245.30" stroke="#ee1010" stroke-width="1.1"/>
<line x1="309.50" y1="177.50" x2="309.50" y2="209.00" stroke="#e47070" stroke-width="1.1"/>
<line x1="309.50" y1="177.50" x2="309.50" y2="180.00" stroke="#2a2ae6" stroke-width="1.1"/>
<line x1="312.50" y1="203.00" x2="312.50" y2="210.00" stroke="#e47070" stroke-width="1.1"/>
<line x1="314.50" y1="200.00" x2="314.50" y2="207.00" stroke="#e47070" stroke-width="1.1"/>
<line x1="318.50" y1="203.00" x2="318.50" y2="208.00" stroke="#e47070" stroke-width="1.1"/>
<line x1="320.50" y1="206.00" x2="320.50" y2="220.00" stroke="#ee1010" stroke-width="1.1"/>
<line x1="266.50" y1="203.00" x2="266.50" y2="213.00" stroke="#ee1010" stroke-width="1.1"/>
<line x1="268.50" y1="204.00" x2="268.50" y2="214.00" stroke="#e47070" stroke-width="1.1"/>
<line x1="270.50" y1="202.00" x2="270.50" y2="210.00" stroke="#ee1010" stroke-width="1.1"/>
<line x1="274.50" y1="204.00" x2="274.50" y2="211.00" stroke="#e47070" stroke-width="1.1"/>
<line x1="276.50" y1="203.00" x2="276.50" y2="209.00" stroke="#ee1010" stroke-width="1.1"/>
<line x1="277.50" y1="201.00" x2="277.50" y2="215.00" stroke="#e47070" stroke-width="1.1"/>
<line x1="290.50" y1="201.00" x2="290.50" y2="216.00" stroke="#ee1010" stroke-width="1.1"/>
<line x1="293.50" y1="203.00" x2="293.50" y2="212.00" stroke="#e47070" stroke-width="1.1"/>
<line x1="294.50" y1="204.00" x2="294.50" y2="209.00" stroke="#ee1010" stroke-width="1.1"/>
<line x1="279.50" y1="196.00" x2="279.50" y2="218.00" stroke="#ee1010" stroke-width="1.1"/>
<line x1="280.50" y1="190.00" x2="280.50" y2="222.00" stroke="#e47070" stroke-width="1.1"/>
<line x1="281.50" y1="194.00" x2="281.50" y2="218.00" stroke="#ee1010" stroke-width="1.1"/>
<line x1="282.50" y1="188.00" x2="282.50" y2="224.00" stroke="#ee1010" stroke-width="1.1"/>
<line x1="283.50" y1="192.00" x2="283.50" y2="220.00" stroke="#e47070" stroke-width="1.1"/>
<line x1="285.50" y1="196.00" x2="285.50" y2="216.00" stroke="#ee1010" stroke-width="1.1"/>
<line x1="286.50" y1="190.00" x2="286.50" y2="220.00" stroke="#e47070" stroke-width="1.1"/>
<line x1="287.50" y1="194.00" x2="287.50" y2="222.00" stroke="#ee1010" stroke-width="1.1"/>
<line x1="288.50" y1="192.00" x2="288.50" y2="214.00" stroke="#ee1010" stroke-width="1.1"/>
<line x1="289.50" y1="198.00" x2="289.50" y2="216.00" stroke="#e47070" stroke-width="1.1"/>
<line x1="290.50" y1="200.00" x2="290.50" y2="212.00" stroke="#ee1010" stroke-width="1.1"/>
<line x1="332.50" y1="138.00" x2="332.50" y2="273.80" stroke="#ee1010" stroke-width="1.1"/>
<line x1="336.50" y1="206.00" x2="336.50" y2="221.20" stroke="#ee1010" stroke-width="1.1"/>
<line x1="340.50" y1="202.50" x2="340.50" y2="206.00" stroke="#e47070" stroke-width="1.1"/>
<line x1="345.50" y1="202.00" x2="345.50" y2="213.00" stroke="#e47070" stroke-width="1.1"/>
<line x1="370.50" y1="206.00" x2="370.50" y2="216.90" stroke="#ee1010" stroke-width="1.1"/>
<line x1="381.50" y1="206.00" x2="381.50" y2="222.30" stroke="#ee1010" stroke-width="1.1"/>
<line x1="381.50" y1="219.00" x2="381.50" y2="222.30" stroke="#2a2ae6" stroke-width="1.1"/>
<line x1="385.50" y1="206.00" x2="385.50" y2="227.00" stroke="#ee1010" stroke-width="1.1"/>
<line x1="388.50" y1="206.00" x2="388.50" y2="211.00" stroke="#ee1010" stroke-width="1.1"/>
<line x1="398.50" y1="189.50" x2="398.50" y2="206.00" stroke="#ee1010" stroke-width="1.1"/>
<line x1="409.50" y1="206.00" x2="409.50" y2="220.20" stroke="#ee1010" stroke-width="1.1"/>
<line x1="409.50" y1="217.00" x2="409.50" y2="220.20" stroke="#2a2ae6" stroke-width="1.1"/>
<line x1="411.50" y1="149.00" x2="411.50" y2="206.00" stroke="#e47070" stroke-width="1.1"/>
<path d="M261.80,206.10 L262.20,206.00 L262.60,205.91 L263.00,205.81 L263.40,205.71 L263.80,205.61 L264.20,205.50 L264.60,205.40 L265.00,205.29 L265.40,205.17 L265.80,205.05 L266.20,204.93 L266.60,204.79 L267.00,204.64 L267.40,204.47 L267.80,204.28 L268.20,204.07 L268.60,203.83 L269.00,203.56 L269.40,203.27 L269.80,202.95 L270.20,202.61 L270.60,202.26 L271.00,201.91 L271.40,201.54 L271.80,201.18 L272.20,200.82 L272.60,200.47 L273.00,200.13 L273.40,199.79 L273.80,199.47 L274.20,199.15 L274.60,198.83 L275.00,198.53 L275.40,198.23 L275.80,197.93 L276.20,197.64 L276.60,197.36 L277.00,197.08 L277.40,196.81 L277.80,196.54 L278.20,196.27 L278.60,196.00 L279.00,195.73 L279.40,195.48 L279.80,195.23 L280.20,194.99 L280.60,194.78 L281.00,194.60 L281.40,194.44 L281.80,194.32 L282.20,194.24 L282.60,194.20 L283.00,194.19 L283.40,194.20 L283.80,194.23 L284.20,194.26 L284.60,194.30 L285.00,194.34 L285.40,194.38 L285.80,194.43 L286.20,194.51 L286.60,194.63 L287.00,194.79 L287.40,195.00 L287.80,195.27 L288.20,195.61 L288.60,195.99 L289.00,196.42 L289.40,196.89 L289.80,197.40 L290.20,197.94 L290.60,198.50 L291.00,199.07 L291.40,199.65 L291.80,200.22 L292.20,200.79 L292.60,201.34 L293.00,201.86 L293.40,202.34 L293.80,202.81 L294.20,203.25 L294.60,203.68 L295.00,204.09 L295.40,204.50 L295.80,204.90 L296.20,205.30 L296.60,205.68 L297.00,206.04 L297.40,206.38 L297.80,206.68 L298.20,206.94 L298.60,207.16 L299.00,207.33 L299.40,207.47 L299.80,207.58 L300.20,207.66 L300.60,207.74 L301.00,207.80 L301.40,207.86 L301.80,207.92 L302.20,207.98 L302.60,208.02 L303.00,208.06 L303.40,208.09 L303.80,208.10 L304.20,208.10 L304.60,208.08 L305.00,208.05 L305.40,208.00 L305.80,207.94 L306.20,207.86 L306.60,207.78 L307.00,207.68 L307.40,207.57 L307.80,207.45 L308.20,207.33 L308.60,207.20 L309.00,207.07 L309.40,206.93 L309.80,206.80 L310.20,206.67 L310.60,206.54 L311.00,206.40 L311.40,206.28 L311.80,206.15 L312.20,206.03 L312.60,205.91 L313.00,205.80 L313.40,205.69 L313.80,205.59 L314.20,205.49 L314.60,205.39 L315.00,205.29 L315.40,205.19 L315.80,205.09 L316.20,204.99 L316.60,204.88 L317.00,204.77 L317.40,204.66 L317.80,204.53 L318.20,204.41 L318.60,204.29 L319.00,204.16 L319.40,204.04 L319.80,203.92 L320.20,203.80 L320.60,203.69 L321.00,203.58 L321.40,203.48 L321.80,203.39 L322.20,203.30 L322.60,203.23 L323.00,203.17 L323.40,203.11 L323.80,203.07 L324.20,203.04 L324.60,203.02 L325.00,203.00 L325.40,203.00 L325.80,202.99 L326.20,202.99 L326.60,203.00 L327.00,203.00 L327.40,203.00 L327.80,203.00 L328.20,203.01 L328.60,203.01 L329.00,203.01 L329.40,203.02 L329.80,203.03 L330.20,203.04 L330.60,203.05 L331.00,203.07 L331.40,203.09 L331.80,203.11 L332.20,203.15 L332.60,203.19 L333.00,203.23 L333.40,203.29 L333.80,203.36 L334.20,203.45 L334.60,203.54 L335.00,203.66 L335.40,203.79 L335.80,203.93 L336.20,204.08 L336.60,204.24 L337.00,204.39 L337.40,204.55 L337.80,204.69 L338.20,204.83 L338.60,204.96 L339.00,205.08 L339.40,205.19 L339.80,205.30 L340.20,205.40 L340.60,205.50 L341.00,205.60 L341.40,205.70 L341.80,205.80 L342.20,205.91 L342.60,206.03 L343.00,206.16 L343.40,206.29 L343.80,206.42 L344.20,206.56 L344.60,206.69 L345.00,206.82 L345.40,206.94 L345.80,207.05 L346.20,207.16 L346.60,207.24 L347.00,207.32 L347.40,207.37 L347.80,207.41 L348.20,207.45 L348.60,207.47 L349.00,207.50 L349.40,207.52 L349.80,207.56 L350.20,207.60 L350.60,207.66 L351.00,207.73 L351.40,207.83 L351.80,207.95 L352.20,208.09 L352.60,208.25 L353.00,208.43 L353.40,208.63 L353.80,208.85 L354.20,209.09 L354.60,209.34 L355.00,209.60 L355.40,209.87 L355.80,210.16 L356.20,210.46 L356.60,210.76 L357.00,211.07 L357.40,211.40 L357.80,211.73 L358.20,212.06 L358.60,212.40 L359.00,212.75 L359.40,213.10 L359.80,213.46 L360.20,213.83 L360.60,214.22 L361.00,214.63 L361.40,215.06 L361.80,215.50 L362.20,215.98 L362.60,216.48 L363.00,217.00 L363.40,217.55 L363.80,218.11 L364.20,218.67 L364.60,219.24 L365.00,219.81 L365.40,220.38 L365.80,220.93 L366.20,221.47 L366.60,221.98 L367.00,222.48 L367.40,222.97 L367.80,223.45 L368.20,223.91 L368.60,224.37 L369.00,224.83 L369.40,225.28 L369.80,225.72 L370.20,226.17 L370.60,226.61 L371.00,227.05 L371.40,227.48 L371.80,227.89 L372.20,228.29 L372.60,228.67 L373.00,229.03 L373.40,229.36 L373.80,229.68 L374.20,229.96 L374.60,230.23 L375.00,230.48 L375.40,230.70 L375.80,230.91 L376.20,231.10 L376.60,231.28 L377.00,231.44 L377.40,231.59 L377.80,231.72 L378.20,231.83 L378.60,231.93 L379.00,232.01 L379.40,232.06 L379.80,232.10 L380.20,232.11 L380.60,232.09 L381.00,232.05 L381.40,231.99 L381.80,231.89 L382.20,231.77 L382.60,231.62 L383.00,231.43 L383.40,231.22 L383.80,230.98 L384.20,230.70 L384.60,230.39 L385.00,230.05 L385.40,229.68 L385.80,229.29 L386.20,228.87 L386.60,228.43 L387.00,227.97 L387.40,227.49 L387.80,227.00 L388.20,226.49 L388.60,225.98 L389.00,225.45 L389.40,224.91 L389.80,224.36 L390.20,223.79 L390.60,223.22 L391.00,222.64 L391.40,222.05 L391.80,221.45 L392.20,220.84 L392.60,220.22 L393.00,219.59 L393.40,218.95 L393.80,218.30 L394.20,217.64 L394.60,216.96 L395.00,216.27 L395.40,215.57 L395.80,214.86 L396.20,214.13 L396.60,213.41 L397.00,212.68 L397.40,211.95 L397.80,211.24 L398.20,210.53 L398.60,209.84 L399.00,209.17 L399.40,208.51 L399.80,207.88 L400.20,207.27 L400.60,206.69 L401.00,206.13 L401.40,205.60 L401.80,205.10 L402.20,204.63 L402.60,204.18 L403.00,203.76 L403.40,203.35 L403.80,202.93 L404.20,202.50 L404.60,202.02 L405.00,201.50 L405.40,200.92 L405.80,200.31 L406.20,199.69 L406.60,199.10 L407.00,198.58 L407.40,198.13 L407.80,197.75 L408.20,197.43 L408.60,197.17 L409.00,196.95 L409.40,196.77 L409.80,196.61 L410.20,196.46 L410.60,196.32 L411.00,196.18 L411.40,196.02 L411.80,195.85 L412.20,195.66 L412.60,195.47 L413.00,195.28 L413.40,195.09 L413.80,194.91 L414.20,194.73 L414.60,194.58 L415.00,194.45 L415.40,194.34 L415.80,194.27 L416.20,194.22 L416.60,194.21 L417.00,194.21 L417.40,194.25 L417.80,194.30 L418.20,194.37 L418.60,194.45 L419.00,194.54 L419.40,194.64 L419.80,194.75 L420.20,194.85 L420.60,194.96 L421.00,195.07 L421.40,195.18 L421.80,195.29 L422.20,195.40 L422.60,195.52 L423.00,195.64 L423.40,195.77 L423.80,195.90 L424.20,196.03 L424.60,196.17 L425.00,196.32 L425.40,196.47 L425.80,196.62 L426.20,196.78 L426.60,196.94 L427.00,197.11 L427.40,197.27 L427.80,197.44 L428.20,197.61 L428.60,197.79 L429.00,197.96 L429.40,198.13 L429.80,198.30 L430.20,198.47 L430.60,198.64 L431.00,198.80 L431.40,198.97 L431.80,199.13 L432.20,199.30 L432.60,199.46 L433.00,199.62 L433.40,199.77 L433.80,199.93 L434.20,200.09 L434.60,200.24 L435.00,200.39 L435.40,200.54 L435.80,200.68 L436.20,200.83 L436.60,200.97 L437.00,201.11 L437.40,201.25 L437.80,201.39 L438.20,201.53 L438.60,201.66 L439.00,201.79 L439.40,201.92 L439.80,202.05 L440.20,202.18 L440.60,202.31 L441.00,202.43 L441.40,202.55 L441.80,202.67 L442.20,202.79 L442.60,202.91 L443.00,203.03 L443.40,203.14 L443.80,203.26 L444.20,203.37 L444.60,203.48 L445.00,203.59 L445.40,203.70 L445.80,203.81 L446.20,203.92 L446.60,204.03 L447.00,204.13 L447.40,204.24 L447.80,204.34 L448.20,204.44 L448.60,204.55 L449.00,204.65 L449.40,204.75 L449.80,204.85 L450.20,204.95 L450.60,205.05 L451.00,205.15 L451.40,205.25 L451.80,205.35 L452.20,205.45 L452.60,205.55 L452.80,205.60" fill="none" stroke="#2020e0" stroke-width="1.8" stroke-linejoin="round"/>
<path d="M261.80,205.60 L262.20,205.38 L262.60,205.15 L263.00,204.92 L263.40,204.69 L263.80,204.45 L264.20,204.20 L264.60,203.94 L265.00,203.68 L265.40,203.41 L265.80,203.14 L266.20,202.87 L266.60,202.60 L267.00,202.34 L267.40,202.09 L267.80,201.84 L268.20,201.59 L268.60,201.34 L269.00,201.09 L269.40,200.83 L269.80,200.57 L270.20,200.30 L270.60,200.02 L271.00,199.73 L271.40,199.45 L271.80,199.17 L272.20,198.89 L272.60,198.62 L273.00,198.36 L273.40,198.12 L273.80,197.88 L274.20,197.66 L274.60,197.45 L275.00,197.24 L275.40,197.05 L275.80,196.86 L276.20,196.67 L276.60,196.48 L277.00,196.30 L277.40,196.12 L277.80,195.94 L278.20,195.76 L278.60,195.60 L279.00,195.44 L279.40,195.31 L279.80,195.19 L280.20,195.09 L280.60,195.02 L281.00,194.98 L281.40,194.97 L281.80,194.98 L282.20,195.02 L282.60,195.06 L283.00,195.12 L283.40,195.18 L283.80,195.25 L284.20,195.32 L284.60,195.41 L285.00,195.51 L285.40,195.65 L285.80,195.82 L286.20,196.04 L286.60,196.30 L287.00,196.62 L287.40,196.98 L287.80,197.39 L288.20,197.83 L288.60,198.30 L289.00,198.80 L289.40,199.33 L289.80,199.87 L290.20,200.43 L290.60,201.00 L291.00,201.58 L291.40,202.16 L291.80,202.74 L292.20,203.32 L292.60,203.90 L293.00,204.48 L293.40,205.08 L293.80,205.69 L294.20,206.32 L294.60,206.96 L295.00,207.60 L295.40,208.22 L295.80,208.80 L296.20,209.32 L296.60,209.78 L297.00,210.17 L297.40,210.52 L297.80,210.84 L298.20,211.13 L298.60,211.41 L299.00,211.68 L299.40,211.93 L299.80,212.16 L300.20,212.37 L300.60,212.54 L301.00,212.68 L301.40,212.80 L301.80,212.89 L302.20,212.96 L302.60,213.01 L303.00,213.05 L303.40,213.08 L303.80,213.10 L304.20,213.12 L304.60,213.14 L305.00,213.16 L305.40,213.18 L305.80,213.19 L306.20,213.20 L306.60,213.20 L307.00,213.20 L307.40,213.19 L307.80,213.18 L308.20,213.16 L308.60,213.13 L309.00,213.11 L309.40,213.08 L309.80,213.04 L310.20,213.01 L310.60,212.97 L311.00,212.93 L311.40,212.89 L311.80,212.84 L312.20,212.78 L312.60,212.72 L313.00,212.64 L313.40,212.55 L313.80,212.45 L314.20,212.33 L314.60,212.20 L315.00,212.05 L315.40,211.90 L315.80,211.75 L316.20,211.58 L316.60,211.42 L317.00,211.25 L317.40,211.08 L317.80,210.90 L318.20,210.72 L318.60,210.54 L319.00,210.35 L319.40,210.15 L319.80,209.95 L320.20,209.75 L320.60,209.54 L321.00,209.33 L321.40,209.12 L321.80,208.91 L322.20,208.70 L322.60,208.50 L323.00,208.30 L323.40,208.11 L323.80,207.92 L324.20,207.74 L324.60,207.57 L325.00,207.42 L325.40,207.27 L325.80,207.13 L326.20,207.01 L326.60,206.90 L327.00,206.80 L327.40,206.72 L327.80,206.63 L328.20,206.56 L328.60,206.50 L329.00,206.43 L329.40,206.38 L329.80,206.33 L330.20,206.28 L330.60,206.23 L331.00,206.18 L331.40,206.14 L331.80,206.10 L332.20,206.07 L332.60,206.04 L333.00,206.02 L333.40,206.01 L333.80,206.00 L334.20,206.00 L334.60,206.01 L335.00,206.02 L335.40,206.04 L335.80,206.06 L336.20,206.08 L336.60,206.11 L337.00,206.14 L337.40,206.16 L337.80,206.19 L338.20,206.21 L338.60,206.23 L339.00,206.25 L339.40,206.27 L339.80,206.30 L340.20,206.32 L340.60,206.35 L341.00,206.39 L341.40,206.43 L341.80,206.49 L342.20,206.55 L342.60,206.62 L343.00,206.70 L343.40,206.79 L343.80,206.89 L344.20,206.99 L344.60,207.09 L345.00,207.18 L345.40,207.27 L345.80,207.35 L346.20,207.42 L346.60,207.47 L347.00,207.50 L347.40,207.51 L347.80,207.51 L348.20,207.49 L348.60,207.47 L349.00,207.45 L349.40,207.44 L349.80,207.43 L350.20,207.44 L350.60,207.48 L351.00,207.54 L351.40,207.63 L351.80,207.75 L352.20,207.90 L352.60,208.09 L353.00,208.29 L353.40,208.51 L353.80,208.75 L354.20,208.99 L354.60,209.25 L355.00,209.50 L355.40,209.75 L355.80,210.01 L356.20,210.26 L356.60,210.52 L357.00,210.79 L357.40,211.07 L357.80,211.37 L358.20,211.67 L358.60,212.00 L359.00,212.35 L359.40,212.71 L359.80,213.09 L360.20,213.49 L360.60,213.89 L361.00,214.31 L361.40,214.73 L361.80,215.16 L362.20,215.59 L362.60,216.02 L363.00,216.46 L363.40,216.89 L363.80,217.32 L364.20,217.76 L364.60,218.19 L365.00,218.62 L365.40,219.05 L365.80,219.48 L366.20,219.92 L366.60,220.34 L367.00,220.77 L367.40,221.19 L367.80,221.61 L368.20,222.02 L368.60,222.43 L369.00,222.82 L369.40,223.21 L369.80,223.59 L370.20,223.95 L370.60,224.30 L371.00,224.64 L371.40,224.97 L371.80,225.29 L372.20,225.59 L372.60,225.88 L373.00,226.16 L373.40,226.43 L373.80,226.69 L374.20,226.93 L374.60,227.15 L375.00,227.36 L375.40,227.55 L375.80,227.73 L376.20,227.88 L376.60,228.01 L377.00,228.13 L377.40,228.22 L377.80,228.29 L378.20,228.34 L378.60,228.37 L379.00,228.38 L379.40,228.38 L379.80,228.36 L380.20,228.33 L380.60,228.29 L381.00,228.23 L381.40,228.16 L381.80,228.07 L382.20,227.95 L382.60,227.82 L383.00,227.66 L383.40,227.47 L383.80,227.25 L384.20,227.00 L384.60,226.71 L385.00,226.39 L385.40,226.04 L385.80,225.66 L386.20,225.25 L386.60,224.82 L387.00,224.36 L387.40,223.89 L387.80,223.40 L388.20,222.89 L388.60,222.37 L389.00,221.84 L389.40,221.29 L389.80,220.73 L390.20,220.16 L390.60,219.57 L391.00,218.97 L391.40,218.36 L391.80,217.73 L392.20,217.09 L392.60,216.45 L393.00,215.80 L393.40,215.15 L393.80,214.50 L394.20,213.85 L394.60,213.20 L395.00,212.56 L395.40,211.93 L395.80,211.30 L396.20,210.68 L396.60,210.07 L397.00,209.45 L397.40,208.83 L397.80,208.21 L398.20,207.57 L398.60,206.93 L399.00,206.27 L399.40,205.60 L399.80,204.92 L400.20,204.25 L400.60,203.58 L401.00,202.93 L401.40,202.30 L401.80,201.69 L402.20,201.12 L402.60,200.58 L403.00,200.07 L403.40,199.59 L403.80,199.14 L404.20,198.72 L404.60,198.31 L405.00,197.93 L405.40,197.56 L405.80,197.20 L406.20,196.86 L406.60,196.52 L407.00,196.20 L407.40,195.89 L407.80,195.59 L408.20,195.30 L408.60,195.03 L409.00,194.77 L409.40,194.52 L409.80,194.28 L410.20,194.06 L410.60,193.85 L411.00,193.66 L411.40,193.47 L411.80,193.31 L412.20,193.16 L412.60,193.02 L413.00,192.90 L413.40,192.80 L413.80,192.71 L414.20,192.64 L414.60,192.59 L415.00,192.55 L415.40,192.52 L415.80,192.50 L416.20,192.49 L416.60,192.50 L417.00,192.51 L417.40,192.53 L417.80,192.56 L418.20,192.60 L418.60,192.65 L419.00,192.71 L419.40,192.78 L419.80,192.86 L420.20,192.95 L420.60,193.04 L421.00,193.15 L421.40,193.27 L421.80,193.39 L422.20,193.52 L422.60,193.65 L423.00,193.79 L423.40,193.93 L423.80,194.08 L424.20,194.23 L424.60,194.37 L425.00,194.53 L425.40,194.68 L425.80,194.83 L426.20,194.99 L426.60,195.15 L427.00,195.31 L427.40,195.48 L427.80,195.65 L428.20,195.83 L428.60,196.01 L429.00,196.19 L429.40,196.39 L429.80,196.58 L430.20,196.78 L430.60,196.99 L431.00,197.19 L431.40,197.40 L431.80,197.62 L432.20,197.83 L432.60,198.04 L433.00,198.26 L433.40,198.47 L433.80,198.69 L434.20,198.90 L434.60,199.11 L435.00,199.32 L435.40,199.53 L435.80,199.73 L436.20,199.93 L436.60,200.13 L437.00,200.33 L437.40,200.53 L437.80,200.72 L438.20,200.91 L438.60,201.10 L439.00,201.28 L439.40,201.47 L439.80,201.64 L440.20,201.82 L440.60,201.99 L441.00,202.17 L441.40,202.33 L441.80,202.50 L442.20,202.66 L442.60,202.81 L443.00,202.97 L443.40,203.11 L443.80,203.26 L444.20,203.40 L444.60,203.54 L445.00,203.67 L445.40,203.79 L445.80,203.92 L446.20,204.04 L446.60,204.15 L447.00,204.26 L447.40,204.37 L447.80,204.47 L448.20,204.57 L448.60,204.67 L449.00,204.77 L449.40,204.86 L449.80,204.95 L450.20,205.04 L450.60,205.13 L451.00,205.22 L451.40,205.30 L451.80,205.39 L452.20,205.47 L452.60,205.56 L452.80,205.60" fill="none" stroke="#e8141a" stroke-width="1.8" stroke-linejoin="round"/>
</g>
<g clip-path="url(#cu01)"><path d="M261.80,134.20 L262.20,133.50 L262.60,132.85 L263.00,132.26 L263.40,131.71 L263.80,131.21 L264.20,130.74 L264.60,130.30 L265.00,129.89 L265.40,129.49 L265.80,129.10 L266.20,128.72 L266.60,128.34 L267.00,127.97 L267.40,127.60 L267.80,127.24 L268.20,126.88 L268.60,126.53 L269.00,126.18 L269.40,125.84 L269.80,125.50 L270.20,125.17 L270.60,124.85 L271.00,124.54 L271.40,124.23 L271.80,123.93 L272.20,123.63 L272.60,123.34 L273.00,123.06 L273.40,122.79 L273.80,122.52 L274.20,122.26 L274.60,122.00 L275.00,121.75 L275.40,121.51 L275.80,121.27 L276.20,121.03 L276.60,120.80 L277.00,120.58 L277.40,120.35 L277.80,120.14 L278.20,119.92 L278.60,119.72 L279.00,119.51 L279.40,119.32 L279.80,119.13 L280.20,118.95 L280.60,118.77 L281.00,118.60 L281.40,118.45 L281.80,118.30 L282.20,118.16 L282.60,118.03 L283.00,117.91 L283.40,117.80 L283.80,117.70 L284.20,117.62 L284.60,117.54 L285.00,117.48 L285.40,117.43 L285.80,117.38 L286.20,117.35 L286.60,117.33 L287.00,117.31 L287.40,117.30 L287.80,117.30 L288.20,117.31 L288.60,117.32 L289.00,117.34 L289.40,117.37 L289.80,117.40 L290.20,117.43 L290.60,117.47 L291.00,117.51 L291.40,117.55 L291.80,117.60 L292.20,117.64 L292.60,117.69 L293.00,117.73 L293.40,117.78 L293.80,117.82 L294.20,117.86 L294.60,117.90 L295.00,117.93 L295.40,117.97 L295.80,118.00 L296.20,118.02 L296.60,118.05 L297.00,118.07 L297.40,118.08 L297.80,118.09 L298.20,118.10 L298.60,118.11 L299.00,118.11 L299.40,118.10 L299.80,118.09 L300.20,118.08 L300.60,118.06 L301.00,118.04 L301.40,118.01 L301.80,117.98 L302.20,117.96 L302.60,117.92 L303.00,117.89 L303.40,117.86 L303.80,117.82 L304.20,117.79 L304.60,117.76 L305.00,117.72 L305.40,117.69 L305.80,117.66 L306.20,117.63 L306.60,117.61 L307.00,117.58 L307.40,117.55 L307.80,117.53 L308.20,117.51 L308.60,117.49 L309.00,117.46 L309.40,117.44 L309.80,117.43 L310.20,117.41 L310.60,117.39 L311.00,117.37 L311.40,117.35 L311.80,117.33 L312.20,117.32 L312.60,117.30 L313.00,117.28 L313.40,117.27 L313.80,117.25 L314.20,117.23 L314.60,117.22 L315.00,117.20 L315.40,117.18 L315.80,117.17 L316.20,117.15 L316.60,117.14 L317.00,117.12 L317.40,117.11 L317.80,117.09 L318.20,117.08 L318.60,117.07 L319.00,117.06 L319.40,117.04 L319.80,117.03 L320.20,117.02 L320.60,117.01 L321.00,117.01 L321.40,117.00 L321.80,116.99 L322.20,116.99 L322.60,116.98 L323.00,116.98 L323.40,116.98 L323.80,116.98 L324.20,116.98 L324.60,116.98 L325.00,116.99 L325.40,117.00 L325.80,117.01 L326.20,117.02 L326.60,117.03 L327.00,117.05 L327.40,117.07 L327.80,117.10 L328.20,117.13 L328.60,117.16 L329.00,117.19 L329.40,117.23 L329.80,117.28 L330.20,117.32 L330.60,117.38 L331.00,117.43 L331.40,117.49 L331.80,117.56 L332.20,117.63 L332.60,117.70 L333.00,117.78 L333.40,117.86 L333.80,117.95 L334.20,118.05 L334.60,118.15 L335.00,118.26 L335.40,118.37 L335.80,118.48 L336.20,118.60 L336.60,118.72 L337.00,118.84 L337.40,118.97 L337.80,119.09 L338.20,119.22 L338.60,119.34 L339.00,119.46 L339.40,119.58 L339.80,119.70 L340.20,119.81 L340.60,119.92 L341.00,120.02 L341.40,120.13 L341.80,120.22 L342.20,120.31 L342.60,120.40 L343.00,120.48 L343.40,120.55 L343.80,120.62 L344.20,120.68 L344.60,120.73 L345.00,120.77 L345.40,120.79 L345.80,120.81 L346.20,120.81 L346.60,120.80 L347.00,120.77 L347.40,120.73 L347.80,120.68 L348.20,120.61 L348.60,120.52 L349.00,120.43 L349.40,120.32 L349.80,120.20 L350.20,120.07 L350.60,119.92 L351.00,119.77 L351.40,119.60 L351.80,119.43 L352.20,119.25 L352.60,119.06 L353.00,118.86 L353.40,118.67 L353.80,118.46 L354.20,118.26 L354.60,118.05 L355.00,117.84 L355.40,117.63 L355.80,117.42 L356.20,117.21 L356.60,117.00 L357.00,116.80 L357.40,116.60 L357.80,116.41 L358.20,116.22 L358.60,116.03 L359.00,115.86 L359.40,115.69 L359.80,115.53 L360.20,115.37 L360.60,115.23 L361.00,115.09 L361.40,114.95 L361.80,114.83 L362.20,114.71 L362.60,114.59 L363.00,114.48 L363.40,114.37 L363.80,114.27 L364.20,114.18 L364.60,114.09 L365.00,114.01 L365.40,113.93 L365.80,113.85 L366.20,113.79 L366.60,113.73 L367.00,113.68 L367.40,113.63 L367.80,113.59 L368.20,113.56 L368.60,113.53 L369.00,113.52 L369.40,113.51 L369.80,113.51 L370.20,113.53 L370.60,113.55 L371.00,113.58 L371.40,113.62 L371.80,113.68 L372.20,113.74 L372.60,113.82 L373.00,113.90 L373.40,113.99 L373.80,114.09 L374.20,114.20 L374.60,114.32 L375.00,114.44 L375.40,114.57 L375.80,114.70 L376.20,114.84 L376.60,114.98 L377.00,115.13 L377.40,115.29 L377.80,115.45 L378.20,115.61 L378.60,115.79 L379.00,115.97 L379.40,116.16 L379.80,116.35 L380.20,116.55 L380.60,116.76 L381.00,116.98 L381.40,117.20 L381.80,117.43 L382.20,117.66 L382.60,117.91 L383.00,118.16 L383.40,118.41 L383.80,118.67 L384.20,118.93 L384.60,119.20 L385.00,119.48 L385.40,119.76 L385.80,120.04 L386.20,120.32 L386.60,120.61 L387.00,120.89 L387.40,121.18 L387.80,121.47 L388.20,121.75 L388.60,122.03 L389.00,122.32 L389.40,122.59 L389.80,122.87 L390.20,123.13 L390.60,123.40 L391.00,123.65 L391.40,123.91 L391.80,124.16 L392.20,124.40 L392.60,124.64 L393.00,124.88 L393.40,125.11 L393.80,125.34 L394.20,125.56 L394.60,125.78 L395.00,126.00 L395.40,126.21 L395.80,126.43 L396.20,126.64 L396.60,126.84 L397.00,127.05 L397.40,127.25 L397.80,127.45 L398.20,127.65 L398.60,127.85 L399.00,128.04 L399.40,128.23 L399.80,128.42 L400.20,128.61 L400.60,128.79 L401.00,128.98 L401.40,129.16 L401.80,129.33 L402.20,129.51 L402.60,129.68 L403.00,129.85 L403.40,130.02 L403.80,130.18 L404.20,130.34 L404.60,130.50 L405.00,130.66 L405.40,130.81 L405.80,130.96 L406.20,131.10 L406.60,131.25 L407.00,131.39 L407.40,131.52 L407.80,131.66 L408.20,131.79 L408.60,131.92 L409.00,132.04 L409.40,132.16 L409.80,132.28 L410.20,132.40 L410.60,132.51 L411.00,132.62 L411.40,132.72 L411.80,132.82 L412.20,132.92 L412.60,133.02 L413.00,133.11 L413.40,133.20 L413.80,133.29 L414.20,133.37 L414.60,133.45 L415.00,133.52 L415.40,133.60 L415.80,133.67 L416.20,133.74 L416.60,133.80 L417.00,133.87 L417.40,133.93 L417.80,133.99 L418.20,134.05 L418.60,134.11 L419.00,134.17 L419.40,134.22 L419.80,134.28 L420.20,134.33 L420.60,134.39 L421.00,134.44 L421.40,134.49 L421.80,134.55 L422.20,134.60 L422.60,134.65 L423.00,134.71 L423.40,134.76 L423.80,134.82 L424.20,134.87 L424.60,134.93 L425.00,134.98 L425.40,135.03 L425.80,135.09 L426.20,135.14 L426.60,135.19 L427.00,135.25 L427.40,135.30 L427.80,135.35 L428.20,135.40 L428.60,135.45 L429.00,135.49 L429.40,135.54 L429.80,135.58 L430.20,135.63 L430.60,135.67 L431.00,135.71 L431.40,135.75 L431.80,135.79 L432.20,135.82 L432.60,135.86 L433.00,135.89 L433.40,135.92 L433.80,135.95 L434.20,135.98 L434.60,136.01 L435.00,136.03 L435.40,136.06 L435.80,136.08 L436.20,136.11 L436.60,136.13 L437.00,136.15 L437.40,136.17 L437.80,136.19 L438.20,136.21 L438.60,136.23 L439.00,136.25 L439.40,136.27 L439.80,136.29 L440.20,136.30 L440.60,136.32 L441.00,136.34 L441.40,136.35 L441.80,136.37 L442.20,136.38 L442.60,136.40 L443.00,136.42 L443.40,136.43 L443.80,136.45 L444.20,136.46 L444.60,136.48 L445.00,136.49 L445.40,136.51 L445.80,136.53 L446.20,136.54 L446.60,136.56 L447.00,136.57 L447.40,136.59 L447.80,136.60 L448.20,136.62 L448.60,136.64 L449.00,136.65 L449.40,136.67 L449.80,136.68 L450.20,136.70 L450.60,136.71 L451.00,136.73 L451.40,136.75 L451.80,136.76 L452.20,136.78 L452.60,136.79 L452.80,136.80" fill="none" stroke="#111" stroke-width="1.65" stroke-linejoin="round"/></g>
<g clip-path="url(#cl02)">
<line x1="490.50" y1="198.30" x2="490.50" y2="206.00" stroke="#ee1010" stroke-width="1.1"/>
<line x1="491.50" y1="201.50" x2="491.50" y2="206.00" stroke="#e47070" stroke-width="1.1"/>
<line x1="502.50" y1="180.80" x2="502.50" y2="264.00" stroke="#ee1010" stroke-width="1.1"/>
<line x1="503.50" y1="193.90" x2="503.50" y2="233.30" stroke="#ee1010" stroke-width="1.1"/>
<line x1="504.50" y1="191.70" x2="504.50" y2="229.00" stroke="#e47070" stroke-width="1.1"/>
<line x1="506.50" y1="138.00" x2="506.50" y2="211.40" stroke="#ee1010" stroke-width="1.1"/>
<line x1="507.50" y1="196.00" x2="507.50" y2="220.00" stroke="#ee1010" stroke-width="1.1"/>
<line x1="508.50" y1="199.00" x2="508.50" y2="212.50" stroke="#ee1010" stroke-width="1.1"/>
<line x1="509.50" y1="202.60" x2="509.50" y2="211.40" stroke="#e47070" stroke-width="1.1"/>
<line x1="510.50" y1="206.00" x2="510.50" y2="273.80" stroke="#e47070" stroke-width="1.1"/>
<line x1="511.50" y1="200.50" x2="511.50" y2="209.00" stroke="#ee1010" stroke-width="1.1"/>
<line x1="512.50" y1="202.60" x2="512.50" y2="207.00" stroke="#e47070" stroke-width="1.1"/>
<line x1="513.50" y1="202.60" x2="513.50" y2="211.40" stroke="#e47070" stroke-width="1.1"/>
<line x1="518.50" y1="206.00" x2="518.50" y2="213.60" stroke="#ee1010" stroke-width="1.1"/>
<line x1="522.50" y1="138.00" x2="522.50" y2="273.80" stroke="#e47070" stroke-width="1.1"/>
<line x1="582.50" y1="191.70" x2="582.50" y2="214.70" stroke="#ee1010" stroke-width="1.1"/>
<line x1="589.50" y1="181.90" x2="589.50" y2="206.00" stroke="#ee1010" stroke-width="1.1"/>
<line x1="595.50" y1="206.00" x2="595.50" y2="210.30" stroke="#e47070" stroke-width="1.1"/>
<line x1="599.50" y1="196.00" x2="599.50" y2="206.00" stroke="#e47070" stroke-width="1.1"/>
<line x1="599.50" y1="196.00" x2="599.50" y2="199.00" stroke="#2a2ae6" stroke-width="1.1"/>
<line x1="608.50" y1="206.00" x2="608.50" y2="273.80" stroke="#e47070" stroke-width="1.1"/>
<line x1="608.50" y1="260.60" x2="608.50" y2="273.80" stroke="#2a2ae6" stroke-width="1.1"/>
<path d="M483.60,204.50 L484.00,203.93 L484.40,203.37 L484.80,202.81 L485.20,202.27 L485.60,201.75 L486.00,201.26 L486.40,200.80 L486.80,200.37 L487.20,199.98 L487.60,199.61 L488.00,199.27 L488.40,198.94 L488.80,198.64 L489.20,198.34 L489.60,198.05 L490.00,197.77 L490.40,197.49 L490.80,197.20 L491.20,196.90 L491.60,196.60 L492.00,196.27 L492.40,195.93 L492.80,195.56 L493.20,195.17 L493.60,194.74 L494.00,194.28 L494.40,193.78 L494.80,193.24 L495.20,192.65 L495.60,192.01 L496.00,191.33 L496.40,190.60 L496.80,189.84 L497.20,189.05 L497.60,188.22 L498.00,187.37 L498.40,186.50 L498.80,185.61 L499.20,184.72 L499.60,183.85 L500.00,183.00 L500.40,182.19 L500.80,181.45 L501.20,180.78 L501.60,180.21 L502.00,179.77 L502.40,179.47 L502.80,179.35 L503.20,179.45 L503.60,179.82 L504.00,180.50 L504.40,181.55 L504.80,183.03 L505.20,185.00 L505.60,187.48 L506.00,190.28 L506.40,193.18 L506.80,195.98 L507.20,198.66 L507.60,201.31 L508.00,204.00 L508.40,206.79 L508.80,209.60 L509.20,212.31 L509.60,214.83 L510.00,217.12 L510.40,219.29 L510.80,221.42 L511.20,223.60 L511.60,225.82 L512.00,228.02 L512.40,230.12 L512.80,232.03 L513.20,233.73 L513.60,235.24 L514.00,236.60 L514.40,237.81 L514.80,238.84 L515.20,239.64 L515.60,240.17 L516.00,240.47 L516.40,240.59 L516.80,240.59 L517.20,240.52 L517.60,240.31 L518.00,239.93 L518.40,239.33 L518.80,238.53 L519.20,237.58 L519.60,236.54 L520.00,235.46 L520.40,234.34 L520.80,233.14 L521.20,231.82 L521.60,230.33 L522.00,228.70 L522.40,226.98 L522.80,225.25 L523.20,223.57 L523.60,221.99 L524.00,220.48 L524.40,219.04 L524.80,217.66 L525.20,216.32 L525.60,215.05 L526.00,213.85 L526.40,212.73 L526.80,211.71 L527.20,210.78 L527.60,209.94 L528.00,209.20 L528.40,208.55 L528.80,207.98 L529.20,207.47 L529.60,207.02 L530.00,206.60 L530.40,206.21 L530.80,205.84 L531.20,205.51 L531.60,205.21 L532.00,204.96 L532.40,204.75 L532.80,204.60 L533.20,204.49 L533.60,204.41 L534.00,204.35 L534.40,204.31 L534.80,204.27 L535.20,204.24 L535.60,204.21 L536.00,204.19 L536.40,204.19 L536.80,204.21 L537.20,204.24 L537.60,204.30 L538.00,204.37 L538.40,204.46 L538.80,204.57 L539.20,204.69 L539.60,204.82 L540.00,204.96 L540.40,205.09 L540.80,205.21 L541.20,205.33 L541.60,205.42 L542.00,205.50 L542.40,205.57 L542.80,205.63 L543.20,205.67 L543.60,205.72 L544.00,205.76 L544.40,205.80 L544.80,205.84 L545.20,205.88 L545.60,205.93 L546.00,205.97 L546.40,206.01 L546.80,206.04 L547.20,206.07 L547.60,206.10 L548.00,206.12 L548.40,206.13 L548.80,206.14 L549.20,206.15 L549.60,206.15 L550.00,206.14 L550.40,206.14 L550.80,206.13 L551.20,206.12 L551.60,206.10 L552.00,206.09 L552.40,206.07 L552.80,206.06 L553.20,206.04 L553.60,206.03 L554.00,206.02 L554.40,206.01 L554.80,206.00 L555.20,206.00 L555.60,206.00 L556.00,206.00 L556.40,206.00 L556.80,206.00 L557.20,205.99 L557.60,205.99 L558.00,205.98 L558.40,205.96 L558.80,205.94 L559.20,205.90 L559.60,205.86 L560.00,205.81 L560.40,205.75 L560.80,205.67 L561.20,205.58 L561.60,205.47 L562.00,205.35 L562.40,205.21 L562.80,205.07 L563.20,204.91 L563.60,204.75 L564.00,204.58 L564.40,204.40 L564.80,204.22 L565.20,204.04 L565.60,203.85 L566.00,203.67 L566.40,203.48 L566.80,203.29 L567.20,203.09 L567.60,202.89 L568.00,202.68 L568.40,202.47 L568.80,202.25 L569.20,202.02 L569.60,201.78 L570.00,201.54 L570.40,201.28 L570.80,201.01 L571.20,200.74 L571.60,200.46 L572.00,200.17 L572.40,199.89 L572.80,199.60 L573.20,199.31 L573.60,199.02 L574.00,198.74 L574.40,198.46 L574.80,198.19 L575.20,197.92 L575.60,197.65 L576.00,197.38 L576.40,197.12 L576.80,196.85 L577.20,196.58 L577.60,196.31 L578.00,196.03 L578.40,195.74 L578.80,195.45 L579.20,195.16 L579.60,194.86 L580.00,194.56 L580.40,194.27 L580.80,193.98 L581.20,193.71 L581.60,193.44 L582.00,193.20 L582.40,192.98 L582.80,192.77 L583.20,192.60 L583.60,192.44 L584.00,192.31 L584.40,192.21 L584.80,192.14 L585.20,192.10 L585.60,192.09 L586.00,192.11 L586.40,192.16 L586.80,192.23 L587.20,192.33 L587.60,192.46 L588.00,192.60 L588.40,192.77 L588.80,192.95 L589.20,193.17 L589.60,193.42 L590.00,193.70 L590.40,194.03 L590.80,194.40 L591.20,194.81 L591.60,195.26 L592.00,195.74 L592.40,196.25 L592.80,196.78 L593.20,197.32 L593.60,197.88 L594.00,198.44 L594.40,199.01 L594.80,199.59 L595.20,200.18 L595.60,200.80 L596.00,201.44 L596.40,202.10 L596.80,202.78 L597.20,203.49 L597.60,204.20 L598.00,204.93 L598.40,205.66 L598.80,206.40 L599.20,207.14 L599.60,207.87 L600.00,208.59 L600.40,209.31 L600.80,210.02 L601.20,210.72 L601.60,211.40 L602.00,212.07 L602.40,212.72 L602.80,213.36 L603.20,213.98 L603.60,214.58 L604.00,215.17 L604.40,215.74 L604.80,216.30 L605.20,216.84 L605.60,217.35 L606.00,217.85 L606.40,218.33 L606.80,218.78 L607.20,219.20 L607.60,219.60 L608.00,219.98 L608.40,220.32 L608.80,220.64 L609.20,220.92 L609.60,221.18 L610.00,221.41 L610.40,221.61 L610.80,221.78 L611.20,221.93 L611.60,222.06 L612.00,222.17 L612.40,222.26 L612.80,222.34 L613.20,222.40 L613.60,222.45 L614.00,222.48 L614.40,222.51 L614.80,222.52 L615.20,222.52 L615.60,222.51 L616.00,222.49 L616.40,222.45 L616.80,222.41 L617.20,222.35 L617.60,222.27 L618.00,222.18 L618.40,222.07 L618.80,221.94 L619.20,221.79 L619.60,221.62 L620.00,221.43 L620.40,221.23 L620.80,221.02 L621.20,220.79 L621.60,220.56 L622.00,220.32 L622.40,220.08 L622.80,219.83 L623.20,219.58 L623.60,219.32 L624.00,219.06 L624.40,218.79 L624.80,218.51 L625.20,218.22 L625.60,217.93 L626.00,217.62 L626.40,217.31 L626.80,216.99 L627.20,216.67 L627.60,216.35 L628.00,216.03 L628.40,215.71 L628.80,215.40 L629.20,215.09 L629.60,214.79 L630.00,214.50 L630.40,214.22 L630.80,213.94 L631.20,213.67 L631.60,213.41 L632.00,213.16 L632.40,212.92 L632.80,212.68 L633.20,212.46 L633.60,212.24 L634.00,212.02 L634.40,211.81 L634.80,211.60 L635.20,211.40 L635.60,211.20 L636.00,211.00 L636.40,210.80 L636.80,210.60 L637.20,210.40 L637.60,210.20 L638.00,210.01 L638.40,209.82 L638.80,209.63 L639.20,209.45 L639.60,209.27 L640.00,209.11 L640.40,208.95 L640.80,208.80 L641.20,208.66 L641.60,208.53 L642.00,208.42 L642.40,208.31 L642.80,208.20 L643.20,208.11 L643.60,208.02 L644.00,207.93 L644.40,207.85 L644.80,207.78 L645.20,207.70 L645.60,207.63 L646.00,207.55 L646.40,207.48 L646.80,207.42 L647.20,207.35 L647.60,207.29 L648.00,207.22 L648.40,207.16 L648.80,207.11 L649.20,207.05 L649.60,207.00 L650.00,206.95 L650.40,206.90 L650.80,206.86 L651.20,206.82 L651.60,206.77 L652.00,206.74 L652.40,206.70 L652.80,206.67 L653.20,206.63 L653.60,206.60 L654.00,206.57 L654.40,206.55 L654.80,206.52 L655.20,206.50 L655.60,206.47 L656.00,206.45 L656.40,206.43 L656.80,206.41 L657.20,206.39 L657.60,206.37 L658.00,206.35 L658.40,206.34 L658.80,206.32 L659.20,206.31 L659.60,206.29 L660.00,206.28 L660.40,206.27 L660.80,206.25 L661.20,206.24 L661.60,206.23 L662.00,206.22 L662.40,206.21 L662.80,206.20 L663.20,206.19 L663.60,206.18 L664.00,206.18 L664.40,206.17 L664.80,206.16 L665.20,206.16 L665.60,206.15 L666.00,206.15 L666.40,206.14 L666.80,206.14 L667.20,206.13 L667.60,206.13 L668.00,206.12 L668.40,206.12 L668.80,206.12 L669.20,206.12 L669.60,206.11 L670.00,206.11 L670.40,206.11 L670.80,206.11 L671.20,206.11 L671.60,206.11 L672.00,206.11 L672.40,206.10 L672.80,206.10 L673.20,206.10 L673.60,206.10 L674.00,206.10 L674.40,206.10 L674.60,206.10" fill="none" stroke="#2020e0" stroke-width="1.8" stroke-linejoin="round"/>
<path d="M483.60,203.60 L484.00,202.88 L484.40,202.18 L484.80,201.51 L485.20,200.90 L485.60,200.35 L486.00,199.85 L486.40,199.40 L486.80,199.00 L487.20,198.64 L487.60,198.32 L488.00,198.02 L488.40,197.74 L488.80,197.47 L489.20,197.20 L489.60,196.94 L490.00,196.67 L490.40,196.39 L490.80,196.10 L491.20,195.79 L491.60,195.47 L492.00,195.12 L492.40,194.77 L492.80,194.39 L493.20,194.00 L493.60,193.60 L494.00,193.16 L494.40,192.68 L494.80,192.14 L495.20,191.54 L495.60,190.88 L496.00,190.16 L496.40,189.39 L496.80,188.60 L497.20,187.78 L497.60,186.94 L498.00,186.05 L498.40,185.10 L498.80,184.09 L499.20,183.05 L499.60,182.01 L500.00,181.00 L500.40,180.06 L500.80,179.21 L501.20,178.48 L501.60,177.91 L502.00,177.53 L502.40,177.38 L502.80,177.50 L503.20,177.94 L503.60,178.71 L504.00,179.80 L504.40,181.31 L504.80,183.50 L505.20,186.46 L505.60,189.50 L506.00,191.94 L506.40,194.01 L506.80,196.18 L507.20,198.68 L507.60,201.31 L508.00,203.83 L508.40,206.18 L508.80,208.46 L509.20,210.80 L509.60,213.23 L510.00,215.67 L510.40,218.00 L510.80,220.13 L511.20,222.09 L511.60,223.92 L512.00,225.70 L512.40,227.46 L512.80,229.23 L513.20,231.02 L513.60,232.84 L514.00,234.70 L514.40,236.52 L514.80,238.20 L515.20,239.63 L515.60,240.80 L516.00,241.70 L516.40,242.36 L516.80,242.83 L517.20,243.14 L517.60,243.32 L518.00,243.33 L518.40,243.12 L518.80,242.69 L519.20,242.00 L519.60,241.07 L520.00,239.94 L520.40,238.67 L520.80,237.32 L521.20,235.91 L521.60,234.43 L522.00,232.92 L522.40,231.38 L522.80,229.82 L523.20,228.26 L523.60,226.70 L524.00,225.15 L524.40,223.64 L524.80,222.18 L525.20,220.80 L525.60,219.51 L526.00,218.30 L526.40,217.15 L526.80,216.06 L527.20,215.02 L527.60,214.02 L528.00,213.08 L528.40,212.21 L528.80,211.41 L529.20,210.69 L529.60,210.06 L530.00,209.52 L530.40,209.07 L530.80,208.70 L531.20,208.40 L531.60,208.15 L532.00,207.94 L532.40,207.76 L532.80,207.58 L533.20,207.43 L533.60,207.28 L534.00,207.15 L534.40,207.03 L534.80,206.92 L535.20,206.82 L535.60,206.73 L536.00,206.65 L536.40,206.59 L536.80,206.52 L537.20,206.47 L537.60,206.42 L538.00,206.38 L538.40,206.34 L538.80,206.31 L539.20,206.28 L539.60,206.26 L540.00,206.24 L540.40,206.22 L540.80,206.21 L541.20,206.20 L541.60,206.19 L542.00,206.18 L542.40,206.17 L542.80,206.16 L543.20,206.15 L543.60,206.15 L544.00,206.14 L544.40,206.14 L544.80,206.14 L545.20,206.13 L545.60,206.13 L546.00,206.13 L546.40,206.12 L546.80,206.12 L547.20,206.11 L547.60,206.11 L548.00,206.10 L548.40,206.09 L548.80,206.08 L549.20,206.07 L549.60,206.06 L550.00,206.05 L550.40,206.04 L550.80,206.03 L551.20,206.02 L551.60,206.00 L552.00,205.99 L552.40,205.98 L552.80,205.97 L553.20,205.95 L553.60,205.94 L554.00,205.93 L554.40,205.92 L554.80,205.91 L555.20,205.89 L555.60,205.88 L556.00,205.87 L556.40,205.86 L556.80,205.84 L557.20,205.82 L557.60,205.80 L558.00,205.76 L558.40,205.73 L558.80,205.68 L559.20,205.62 L559.60,205.56 L560.00,205.48 L560.40,205.39 L560.80,205.29 L561.20,205.17 L561.60,205.04 L562.00,204.89 L562.40,204.74 L562.80,204.57 L563.20,204.39 L563.60,204.21 L564.00,204.02 L564.40,203.83 L564.80,203.64 L565.20,203.44 L565.60,203.25 L566.00,203.06 L566.40,202.87 L566.80,202.67 L567.20,202.48 L567.60,202.27 L568.00,202.06 L568.40,201.84 L568.80,201.61 L569.20,201.37 L569.60,201.11 L570.00,200.83 L570.40,200.54 L570.80,200.23 L571.20,199.91 L571.60,199.58 L572.00,199.24 L572.40,198.90 L572.80,198.56 L573.20,198.22 L573.60,197.89 L574.00,197.56 L574.40,197.24 L574.80,196.94 L575.20,196.64 L575.60,196.35 L576.00,196.07 L576.40,195.80 L576.80,195.52 L577.20,195.25 L577.60,194.98 L578.00,194.71 L578.40,194.44 L578.80,194.16 L579.20,193.88 L579.60,193.60 L580.00,193.32 L580.40,193.04 L580.80,192.77 L581.20,192.51 L581.60,192.26 L582.00,192.02 L582.40,191.80 L582.80,191.60 L583.20,191.41 L583.60,191.24 L584.00,191.09 L584.40,190.96 L584.80,190.85 L585.20,190.76 L585.60,190.69 L586.00,190.63 L586.40,190.59 L586.80,190.58 L587.20,190.58 L587.60,190.60 L588.00,190.66 L588.40,190.73 L588.80,190.84 L589.20,190.97 L589.60,191.14 L590.00,191.33 L590.40,191.56 L590.80,191.82 L591.20,192.11 L591.60,192.43 L592.00,192.78 L592.40,193.17 L592.80,193.58 L593.20,194.02 L593.60,194.48 L594.00,194.97 L594.40,195.47 L594.80,195.99 L595.20,196.53 L595.60,197.08 L596.00,197.64 L596.40,198.22 L596.80,198.80 L597.20,199.40 L597.60,200.00 L598.00,200.62 L598.40,201.24 L598.80,201.87 L599.20,202.51 L599.60,203.15 L600.00,203.80 L600.40,204.46 L600.80,205.11 L601.20,205.77 L601.60,206.41 L602.00,207.04 L602.40,207.66 L602.80,208.24 L603.20,208.81 L603.60,209.34 L604.00,209.86 L604.40,210.36 L604.80,210.86 L605.20,211.34 L605.60,211.82 L606.00,212.30 L606.40,212.77 L606.80,213.23 L607.20,213.68 L607.60,214.11 L608.00,214.51 L608.40,214.88 L608.80,215.23 L609.20,215.54 L609.60,215.83 L610.00,216.10 L610.40,216.34 L610.80,216.56 L611.20,216.77 L611.60,216.96 L612.00,217.13 L612.40,217.30 L612.80,217.46 L613.20,217.60 L613.60,217.73 L614.00,217.85 L614.40,217.96 L614.80,218.05 L615.20,218.12 L615.60,218.17 L616.00,218.20 L616.40,218.21 L616.80,218.20 L617.20,218.16 L617.60,218.10 L618.00,218.03 L618.40,217.93 L618.80,217.81 L619.20,217.69 L619.60,217.55 L620.00,217.40 L620.40,217.24 L620.80,217.08 L621.20,216.90 L621.60,216.72 L622.00,216.52 L622.40,216.32 L622.80,216.10 L623.20,215.86 L623.60,215.61 L624.00,215.35 L624.40,215.08 L624.80,214.80 L625.20,214.51 L625.60,214.22 L626.00,213.93 L626.40,213.64 L626.80,213.36 L627.20,213.08 L627.60,212.80 L628.00,212.54 L628.40,212.28 L628.80,212.03 L629.20,211.79 L629.60,211.56 L630.00,211.35 L630.40,211.14 L630.80,210.95 L631.20,210.76 L631.60,210.59 L632.00,210.42 L632.40,210.26 L632.80,210.11 L633.20,209.96 L633.60,209.81 L634.00,209.67 L634.40,209.53 L634.80,209.39 L635.20,209.26 L635.60,209.12 L636.00,208.99 L636.40,208.86 L636.80,208.73 L637.20,208.61 L637.60,208.49 L638.00,208.37 L638.40,208.26 L638.80,208.15 L639.20,208.04 L639.60,207.93 L640.00,207.83 L640.40,207.74 L640.80,207.65 L641.20,207.56 L641.60,207.47 L642.00,207.39 L642.40,207.31 L642.80,207.24 L643.20,207.16 L643.60,207.10 L644.00,207.03 L644.40,206.97 L644.80,206.91 L645.20,206.85 L645.60,206.80 L646.00,206.75 L646.40,206.71 L646.80,206.66 L647.20,206.62 L647.60,206.58 L648.00,206.54 L648.40,206.51 L648.80,206.48 L649.20,206.45 L649.60,206.42 L650.00,206.40 L650.40,206.37 L650.80,206.35 L651.20,206.33 L651.60,206.31 L652.00,206.30 L652.40,206.28 L652.80,206.26 L653.20,206.25 L653.60,206.24 L654.00,206.23 L654.40,206.22 L654.80,206.20 L655.20,206.20 L655.60,206.19 L656.00,206.18 L656.40,206.17 L656.80,206.16 L657.20,206.15 L657.60,206.15 L658.00,206.14 L658.40,206.13 L658.80,206.13 L659.20,206.12 L659.60,206.12 L660.00,206.11 L660.40,206.11 L660.80,206.10 L661.20,206.10 L661.60,206.10 L662.00,206.09 L662.40,206.09 L662.80,206.09 L663.20,206.08 L663.60,206.08 L664.00,206.08 L664.40,206.08 L664.80,206.08 L665.20,206.08 L665.60,206.08 L666.00,206.08 L666.40,206.08 L666.80,206.08 L667.20,206.08 L667.60,206.08 L668.00,206.08 L668.40,206.08 L668.80,206.08 L669.20,206.08 L669.60,206.08 L670.00,206.08 L670.40,206.08 L670.80,206.08 L671.20,206.09 L671.60,206.09 L672.00,206.09 L672.40,206.09 L672.80,206.09 L673.20,206.09 L673.60,206.10 L674.00,206.10 L674.40,206.10 L674.60,206.10" fill="none" stroke="#e8141a" stroke-width="1.8" stroke-linejoin="round"/>
</g>
<g clip-path="url(#cu02)"><path d="M483.60,135.50 L484.00,135.33 L484.40,135.16 L484.80,134.99 L485.20,134.83 L485.60,134.67 L486.00,134.50 L486.40,134.33 L486.80,134.15 L487.20,133.96 L487.60,133.76 L488.00,133.54 L488.40,133.30 L488.80,133.04 L489.20,132.76 L489.60,132.44 L490.00,132.10 L490.40,131.72 L490.80,131.28 L491.20,130.80 L491.60,130.26 L492.00,129.66 L492.40,128.98 L492.80,128.23 L493.20,127.41 L493.60,126.51 L494.00,125.56 L494.40,124.54 L494.80,123.47 L495.20,122.36 L495.60,121.20 L496.00,120.00 L496.40,118.77 L496.80,117.51 L497.20,116.22 L497.60,114.91 L498.00,113.57 L498.40,112.22 L498.80,110.84 L499.20,109.45 L499.60,108.05 L500.00,106.64 L500.40,105.24 L500.80,103.87 L501.20,102.54 L501.60,101.28 L502.00,100.09 L502.40,99.00 L502.80,98.02 L503.20,97.14 L503.60,96.35 L504.00,95.66 L504.40,95.04 L504.80,94.50 L505.20,94.02 L505.60,93.59 L506.00,93.22 L506.40,92.91 L506.80,92.64 L507.20,92.44 L507.60,92.30 L508.00,92.22 L508.40,92.20 L508.80,92.25 L509.20,92.36 L509.60,92.54 L510.00,92.77 L510.40,93.06 L510.80,93.40 L511.20,93.80 L511.60,94.25 L512.00,94.74 L512.40,95.28 L512.80,95.86 L513.20,96.47 L513.60,97.11 L514.00,97.78 L514.40,98.47 L514.80,99.18 L515.20,99.90 L515.60,100.63 L516.00,101.37 L516.40,102.11 L516.80,102.85 L517.20,103.59 L517.60,104.32 L518.00,105.04 L518.40,105.75 L518.80,106.45 L519.20,107.14 L519.60,107.81 L520.00,108.47 L520.40,109.12 L520.80,109.76 L521.20,110.39 L521.60,111.02 L522.00,111.63 L522.40,112.25 L522.80,112.85 L523.20,113.45 L523.60,114.04 L524.00,114.63 L524.40,115.22 L524.80,115.80 L525.20,116.38 L525.60,116.95 L526.00,117.51 L526.40,118.07 L526.80,118.63 L527.20,119.18 L527.60,119.73 L528.00,120.27 L528.40,120.80 L528.80,121.33 L529.20,121.86 L529.60,122.38 L530.00,122.89 L530.40,123.40 L530.80,123.90 L531.20,124.39 L531.60,124.87 L532.00,125.35 L532.40,125.81 L532.80,126.27 L533.20,126.72 L533.60,127.15 L534.00,127.58 L534.40,128.00 L534.80,128.40 L535.20,128.79 L535.60,129.17 L536.00,129.54 L536.40,129.90 L536.80,130.25 L537.20,130.58 L537.60,130.91 L538.00,131.22 L538.40,131.53 L538.80,131.82 L539.20,132.11 L539.60,132.38 L540.00,132.64 L540.40,132.90 L540.80,133.15 L541.20,133.38 L541.60,133.61 L542.00,133.83 L542.40,134.03 L542.80,134.23 L543.20,134.42 L543.60,134.59 L544.00,134.76 L544.40,134.91 L544.80,135.06 L545.20,135.19 L545.60,135.31 L546.00,135.42 L546.40,135.52 L546.80,135.61 L547.20,135.69 L547.60,135.75 L548.00,135.81 L548.40,135.85 L548.80,135.87 L549.20,135.89 L549.60,135.89 L550.00,135.88 L550.40,135.85 L550.80,135.81 L551.20,135.76 L551.60,135.69 L552.00,135.61 L552.40,135.52 L552.80,135.41 L553.20,135.29 L553.60,135.16 L554.00,135.01 L554.40,134.86 L554.80,134.69 L555.20,134.51 L555.60,134.32 L556.00,134.11 L556.40,133.90 L556.80,133.67 L557.20,133.43 L557.60,133.19 L558.00,132.93 L558.40,132.66 L558.80,132.37 L559.20,132.08 L559.60,131.78 L560.00,131.46 L560.40,131.14 L560.80,130.80 L561.20,130.45 L561.60,130.08 L562.00,129.69 L562.40,129.29 L562.80,128.87 L563.20,128.43 L563.60,127.96 L564.00,127.48 L564.40,126.97 L564.80,126.44 L565.20,125.88 L565.60,125.31 L566.00,124.72 L566.40,124.11 L566.80,123.50 L567.20,122.87 L567.60,122.24 L568.00,121.60 L568.40,120.96 L568.80,120.32 L569.20,119.68 L569.60,119.05 L570.00,118.42 L570.40,117.80 L570.80,117.18 L571.20,116.57 L571.60,115.97 L572.00,115.38 L572.40,114.80 L572.80,114.23 L573.20,113.68 L573.60,113.13 L574.00,112.60 L574.40,112.09 L574.80,111.59 L575.20,111.10 L575.60,110.63 L576.00,110.17 L576.40,109.73 L576.80,109.31 L577.20,108.91 L577.60,108.52 L578.00,108.15 L578.40,107.80 L578.80,107.47 L579.20,107.16 L579.60,106.86 L580.00,106.59 L580.40,106.33 L580.80,106.09 L581.20,105.87 L581.60,105.67 L582.00,105.48 L582.40,105.32 L582.80,105.17 L583.20,105.04 L583.60,104.92 L584.00,104.83 L584.40,104.74 L584.80,104.68 L585.20,104.63 L585.60,104.59 L586.00,104.57 L586.40,104.56 L586.80,104.56 L587.20,104.57 L587.60,104.59 L588.00,104.63 L588.40,104.67 L588.80,104.72 L589.20,104.79 L589.60,104.87 L590.00,104.96 L590.40,105.06 L590.80,105.18 L591.20,105.31 L591.60,105.46 L592.00,105.62 L592.40,105.80 L592.80,105.99 L593.20,106.20 L593.60,106.43 L594.00,106.67 L594.40,106.93 L594.80,107.20 L595.20,107.48 L595.60,107.78 L596.00,108.09 L596.40,108.41 L596.80,108.74 L597.20,109.09 L597.60,109.44 L598.00,109.81 L598.40,110.19 L598.80,110.58 L599.20,110.97 L599.60,111.37 L600.00,111.78 L600.40,112.20 L600.80,112.63 L601.20,113.06 L601.60,113.49 L602.00,113.93 L602.40,114.37 L602.80,114.82 L603.20,115.27 L603.60,115.72 L604.00,116.17 L604.40,116.63 L604.80,117.08 L605.20,117.54 L605.60,117.99 L606.00,118.45 L606.40,118.90 L606.80,119.35 L607.20,119.80 L607.60,120.25 L608.00,120.69 L608.40,121.14 L608.80,121.58 L609.20,122.02 L609.60,122.46 L610.00,122.90 L610.40,123.34 L610.80,123.77 L611.20,124.21 L611.60,124.64 L612.00,125.07 L612.40,125.50 L612.80,125.93 L613.20,126.35 L613.60,126.76 L614.00,127.17 L614.40,127.57 L614.80,127.96 L615.20,128.34 L615.60,128.71 L616.00,129.07 L616.40,129.41 L616.80,129.75 L617.20,130.07 L617.60,130.39 L618.00,130.69 L618.40,130.98 L618.80,131.27 L619.20,131.54 L619.60,131.80 L620.00,132.06 L620.40,132.30 L620.80,132.54 L621.20,132.76 L621.60,132.98 L622.00,133.19 L622.40,133.40 L622.80,133.59 L623.20,133.78 L623.60,133.96 L624.00,134.14 L624.40,134.31 L624.80,134.48 L625.20,134.64 L625.60,134.80 L626.00,134.95 L626.40,135.09 L626.80,135.23 L627.20,135.37 L627.60,135.50 L628.00,135.62 L628.40,135.74 L628.80,135.85 L629.20,135.95 L629.60,136.05 L630.00,136.15 L630.40,136.23 L630.80,136.31 L631.20,136.38 L631.60,136.45 L632.00,136.51 L632.40,136.57 L632.80,136.62 L633.20,136.67 L633.60,136.72 L634.00,136.76 L634.40,136.80 L634.80,136.84 L635.20,136.87 L635.60,136.90 L636.00,136.93 L636.40,136.96 L636.80,136.98 L637.20,137.00 L637.60,137.02 L638.00,137.04 L638.40,137.06 L638.80,137.08 L639.20,137.09 L639.60,137.10 L640.00,137.11 L640.40,137.12 L640.80,137.13 L641.20,137.14 L641.60,137.15 L642.00,137.16 L642.40,137.16 L642.80,137.17 L643.20,137.18 L643.60,137.18 L644.00,137.19 L644.40,137.19 L644.80,137.20 L645.20,137.20 L645.60,137.21 L646.00,137.21 L646.40,137.22 L646.80,137.23 L647.20,137.23 L647.60,137.24 L648.00,137.25 L648.40,137.26 L648.80,137.26 L649.20,137.27 L649.60,137.28 L650.00,137.29 L650.40,137.30 L650.80,137.30 L651.20,137.31 L651.60,137.32 L652.00,137.33 L652.40,137.34 L652.80,137.35 L653.20,137.36 L653.60,137.37 L654.00,137.37 L654.40,137.38 L654.80,137.39 L655.20,137.40 L655.60,137.41 L656.00,137.42 L656.40,137.43 L656.80,137.43 L657.20,137.44 L657.60,137.45 L658.00,137.46 L658.40,137.47 L658.80,137.48 L659.20,137.48 L659.60,137.49 L660.00,137.50 L660.40,137.51 L660.80,137.51 L661.20,137.52 L661.60,137.53 L662.00,137.54 L662.40,137.54 L662.80,137.55 L663.20,137.56 L663.60,137.56 L664.00,137.57 L664.40,137.57 L664.80,137.58 L665.20,137.59 L665.60,137.59 L666.00,137.60 L666.40,137.60 L666.80,137.61 L667.20,137.61 L667.60,137.62 L668.00,137.62 L668.40,137.63 L668.80,137.63 L669.20,137.64 L669.60,137.64 L670.00,137.65 L670.40,137.65 L670.80,137.66 L671.20,137.66 L671.60,137.67 L672.00,137.67 L672.40,137.68 L672.80,137.68 L673.20,137.68 L673.60,137.69 L674.00,137.69 L674.40,137.70 L674.60,137.70" fill="none" stroke="#111" stroke-width="1.65" stroke-linejoin="round"/></g>
<g clip-path="url(#cl10)">
<line x1="45.50" y1="514.40" x2="45.50" y2="522.80" stroke="#e47070" stroke-width="1.1"/>
<line x1="46.50" y1="517.00" x2="46.50" y2="521.00" stroke="#e47070" stroke-width="1.1"/>
<line x1="48.50" y1="506.40" x2="48.50" y2="522.80" stroke="#e47070" stroke-width="1.1"/>
<line x1="49.50" y1="508.30" x2="49.50" y2="518.00" stroke="#ee1010" stroke-width="1.1"/>
<line x1="51.50" y1="509.70" x2="51.50" y2="518.00" stroke="#ee1010" stroke-width="1.1"/>
<line x1="52.50" y1="507.80" x2="52.50" y2="534.00" stroke="#ee1010" stroke-width="1.1"/>
<line x1="53.50" y1="506.90" x2="53.50" y2="536.90" stroke="#ee1010" stroke-width="1.1"/>
<line x1="54.50" y1="500.30" x2="54.50" y2="525.60" stroke="#ee1010" stroke-width="1.1"/>
<line x1="55.50" y1="473.00" x2="55.50" y2="572.70" stroke="#ee1010" stroke-width="1.1"/>
<line x1="56.50" y1="473.00" x2="56.50" y2="546.00" stroke="#ee1010" stroke-width="1.1"/>
<line x1="57.50" y1="506.00" x2="57.50" y2="518.00" stroke="#e47070" stroke-width="1.1"/>
<line x1="58.50" y1="508.70" x2="58.50" y2="547.00" stroke="#ee1010" stroke-width="1.1"/>
<line x1="59.50" y1="517.00" x2="59.50" y2="520.00" stroke="#e47070" stroke-width="1.1"/>
<line x1="60.50" y1="515.30" x2="60.50" y2="524.70" stroke="#e47070" stroke-width="1.1"/>
<line x1="61.50" y1="517.00" x2="61.50" y2="521.00" stroke="#e47070" stroke-width="1.1"/>
<line x1="64.50" y1="516.20" x2="64.50" y2="521.00" stroke="#e47070" stroke-width="1.1"/>
<line x1="58.50" y1="547.00" x2="58.50" y2="608.80" stroke="#e47070" stroke-width="1.1"/>
<line x1="68.50" y1="473.00" x2="68.50" y2="518.00" stroke="#ee1010" stroke-width="1.1"/>
<line x1="68.50" y1="511.40" x2="68.50" y2="528.90" stroke="#ee1010" stroke-width="1.1"/>
<line x1="70.50" y1="515.80" x2="70.50" y2="526.70" stroke="#e47070" stroke-width="1.1"/>
<line x1="71.50" y1="513.60" x2="71.50" y2="588.00" stroke="#ee1010" stroke-width="1.1"/>
<line x1="72.50" y1="518.00" x2="72.50" y2="526.70" stroke="#e47070" stroke-width="1.1"/>
<line x1="77.50" y1="518.00" x2="77.50" y2="535.50" stroke="#ee1010" stroke-width="1.1"/>
<line x1="80.50" y1="518.00" x2="80.50" y2="530.00" stroke="#e47070" stroke-width="1.1"/>
<line x1="84.50" y1="473.00" x2="84.50" y2="518.00" stroke="#ee1010" stroke-width="1.1"/>
<line x1="85.50" y1="511.40" x2="85.50" y2="546.40" stroke="#e47070" stroke-width="1.1"/>
<line x1="86.50" y1="516.00" x2="86.50" y2="521.20" stroke="#e47070" stroke-width="1.1"/>
<line x1="141.50" y1="512.50" x2="141.50" y2="527.80" stroke="#ee1010" stroke-width="1.1"/>
<line x1="143.50" y1="514.70" x2="143.50" y2="519.00" stroke="#e47070" stroke-width="1.1"/>
<line x1="146.50" y1="503.70" x2="146.50" y2="518.00" stroke="#ee1010" stroke-width="1.1"/>
<line x1="148.50" y1="479.70" x2="148.50" y2="518.00" stroke="#ee1010" stroke-width="1.1"/>
<line x1="154.50" y1="516.80" x2="154.50" y2="520.20" stroke="#2a2ae6" stroke-width="1.1"/>
<line x1="157.50" y1="515.80" x2="157.50" y2="521.20" stroke="#e47070" stroke-width="1.1"/>
<line x1="166.50" y1="518.00" x2="166.50" y2="574.80" stroke="#e47070" stroke-width="1.1"/>
<line x1="166.50" y1="567.00" x2="166.50" y2="574.80" stroke="#2a2ae6" stroke-width="1.1"/>
<path d="M40.20,514.50 L40.60,513.39 L41.00,512.28 L41.40,511.16 L41.80,510.02 L42.20,508.85 L42.60,507.67 L43.00,506.44 L43.40,505.18 L43.80,503.88 L44.20,502.56 L44.60,501.23 L45.00,499.91 L45.40,498.61 L45.80,497.35 L46.20,496.14 L46.60,495.00 L47.00,493.95 L47.40,492.98 L47.80,492.11 L48.20,491.35 L48.60,490.69 L49.00,490.14 L49.40,489.71 L49.80,489.40 L50.20,489.22 L50.60,489.16 L51.00,489.20 L51.40,489.35 L51.80,489.67 L52.20,490.21 L52.60,491.04 L53.00,492.17 L53.40,493.52 L53.80,494.99 L54.20,496.50 L54.60,497.96 L55.00,499.36 L55.40,500.69 L55.80,501.95 L56.20,503.13 L56.60,504.25 L57.00,505.29 L57.40,506.25 L57.80,507.15 L58.20,507.98 L58.60,508.74 L59.00,509.43 L59.40,510.07 L59.80,510.64 L60.20,511.15 L60.60,511.61 L61.00,512.03 L61.40,512.42 L61.80,512.78 L62.20,513.13 L62.60,513.46 L63.00,513.80 L63.40,514.14 L63.80,514.49 L64.20,514.85 L64.60,515.23 L65.00,515.62 L65.40,516.02 L65.80,516.44 L66.20,516.89 L66.60,517.35 L67.00,517.86 L67.40,518.46 L67.80,519.16 L68.20,520.01 L68.60,521.04 L69.00,522.26 L69.40,523.67 L69.80,525.26 L70.20,527.04 L70.60,529.00 L71.00,531.13 L71.40,533.38 L71.80,535.70 L72.20,538.05 L72.60,540.37 L73.00,542.61 L73.40,544.73 L73.80,546.72 L74.20,548.58 L74.60,550.27 L75.00,551.80 L75.40,553.14 L75.80,554.29 L76.20,555.22 L76.60,555.93 L77.00,556.41 L77.40,556.65 L77.80,556.69 L78.20,556.58 L78.60,556.33 L79.00,555.96 L79.40,555.47 L79.80,554.83 L80.20,554.02 L80.60,553.03 L81.00,551.84 L81.40,550.42 L81.80,548.75 L82.20,546.80 L82.60,544.57 L83.00,542.18 L83.40,539.78 L83.80,537.50 L84.20,535.46 L84.60,533.66 L85.00,532.07 L85.40,530.64 L85.80,529.34 L86.20,528.15 L86.60,527.02 L87.00,525.94 L87.40,524.91 L87.80,523.95 L88.20,523.05 L88.60,522.24 L89.00,521.52 L89.40,520.90 L89.80,520.38 L90.20,519.96 L90.60,519.61 L91.00,519.33 L91.40,519.10 L91.80,518.93 L92.20,518.79 L92.60,518.67 L93.00,518.58 L93.40,518.50 L93.80,518.43 L94.20,518.38 L94.60,518.34 L95.00,518.31 L95.40,518.29 L95.80,518.28 L96.20,518.28 L96.60,518.29 L97.00,518.30 L97.40,518.31 L97.80,518.33 L98.20,518.35 L98.60,518.37 L99.00,518.39 L99.40,518.41 L99.80,518.43 L100.20,518.45 L100.60,518.47 L101.00,518.48 L101.40,518.49 L101.80,518.50 L102.20,518.51 L102.60,518.52 L103.00,518.52 L103.40,518.53 L103.80,518.53 L104.20,518.53 L104.60,518.53 L105.00,518.53 L105.40,518.53 L105.80,518.52 L106.20,518.52 L106.60,518.51 L107.00,518.50 L107.40,518.49 L107.80,518.48 L108.20,518.46 L108.60,518.45 L109.00,518.43 L109.40,518.42 L109.80,518.40 L110.20,518.38 L110.60,518.36 L111.00,518.34 L111.40,518.31 L111.80,518.29 L112.20,518.26 L112.60,518.24 L113.00,518.21 L113.40,518.18 L113.80,518.15 L114.20,518.11 L114.60,518.08 L115.00,518.04 L115.40,518.01 L115.80,517.97 L116.20,517.92 L116.60,517.88 L117.00,517.83 L117.40,517.78 L117.80,517.72 L118.20,517.66 L118.60,517.60 L119.00,517.53 L119.40,517.46 L119.80,517.38 L120.20,517.30 L120.60,517.22 L121.00,517.12 L121.40,517.03 L121.80,516.93 L122.20,516.82 L122.60,516.71 L123.00,516.59 L123.40,516.46 L123.80,516.32 L124.20,516.18 L124.60,516.04 L125.00,515.88 L125.40,515.71 L125.80,515.54 L126.20,515.36 L126.60,515.17 L127.00,514.97 L127.40,514.76 L127.80,514.54 L128.20,514.31 L128.60,514.07 L129.00,513.82 L129.40,513.56 L129.80,513.28 L130.20,513.00 L130.60,512.70 L131.00,512.39 L131.40,512.07 L131.80,511.74 L132.20,511.40 L132.60,511.06 L133.00,510.71 L133.40,510.36 L133.80,510.00 L134.20,509.64 L134.60,509.29 L135.00,508.94 L135.40,508.59 L135.80,508.24 L136.20,507.91 L136.60,507.58 L137.00,507.26 L137.40,506.95 L137.80,506.65 L138.20,506.37 L138.60,506.10 L139.00,505.85 L139.40,505.61 L139.80,505.39 L140.20,505.19 L140.60,505.01 L141.00,504.84 L141.40,504.69 L141.80,504.56 L142.20,504.45 L142.60,504.36 L143.00,504.29 L143.40,504.23 L143.80,504.20 L144.20,504.19 L144.60,504.20 L145.00,504.23 L145.40,504.28 L145.80,504.35 L146.20,504.45 L146.60,504.58 L147.00,504.74 L147.40,504.93 L147.80,505.18 L148.20,505.48 L148.60,505.84 L149.00,506.24 L149.40,506.69 L149.80,507.17 L150.20,507.67 L150.60,508.19 L151.00,508.73 L151.40,509.28 L151.80,509.83 L152.20,510.38 L152.60,510.94 L153.00,511.49 L153.40,512.04 L153.80,512.58 L154.20,513.12 L154.60,513.66 L155.00,514.21 L155.40,514.75 L155.80,515.30 L156.20,515.86 L156.60,516.45 L157.00,517.05 L157.40,517.69 L157.80,518.34 L158.20,519.00 L158.60,519.67 L159.00,520.33 L159.40,520.99 L159.80,521.64 L160.20,522.27 L160.60,522.88 L161.00,523.47 L161.40,524.04 L161.80,524.58 L162.20,525.10 L162.60,525.60 L163.00,526.09 L163.40,526.58 L163.80,527.06 L164.20,527.55 L164.60,528.02 L165.00,528.47 L165.40,528.90 L165.80,529.29 L166.20,529.65 L166.60,529.98 L167.00,530.28 L167.40,530.55 L167.80,530.80 L168.20,531.02 L168.60,531.23 L169.00,531.41 L169.40,531.58 L169.80,531.73 L170.20,531.87 L170.60,531.99 L171.00,532.09 L171.40,532.18 L171.80,532.25 L172.20,532.30 L172.60,532.33 L173.00,532.34 L173.40,532.33 L173.80,532.29 L174.20,532.24 L174.60,532.16 L175.00,532.06 L175.40,531.94 L175.80,531.81 L176.20,531.66 L176.60,531.50 L177.00,531.33 L177.40,531.16 L177.80,530.98 L178.20,530.79 L178.60,530.60 L179.00,530.40 L179.40,530.20 L179.80,530.00 L180.20,529.80 L180.60,529.60 L181.00,529.40 L181.40,529.20 L181.80,529.01 L182.20,528.81 L182.60,528.61 L183.00,528.41 L183.40,528.19 L183.80,527.97 L184.20,527.74 L184.60,527.50 L185.00,527.26 L185.40,527.00 L185.80,526.74 L186.20,526.47 L186.60,526.19 L187.00,525.93 L187.40,525.66 L187.80,525.41 L188.20,525.17 L188.60,524.93 L189.00,524.70 L189.40,524.47 L189.80,524.24 L190.20,524.01 L190.60,523.77 L191.00,523.53 L191.40,523.30 L191.80,523.06 L192.20,522.82 L192.60,522.59 L193.00,522.36 L193.40,522.14 L193.80,521.92 L194.20,521.70 L194.60,521.50 L195.00,521.30 L195.40,521.11 L195.80,520.93 L196.20,520.76 L196.60,520.60 L197.00,520.45 L197.40,520.31 L197.80,520.17 L198.20,520.04 L198.60,519.92 L199.00,519.81 L199.40,519.71 L199.80,519.61 L200.20,519.52 L200.60,519.44 L201.00,519.36 L201.40,519.29 L201.80,519.23 L202.20,519.17 L202.60,519.11 L203.00,519.06 L203.40,519.02 L203.80,518.98 L204.20,518.94 L204.60,518.90 L205.00,518.86 L205.40,518.83 L205.80,518.80 L206.20,518.77 L206.60,518.74 L207.00,518.71 L207.40,518.68 L207.80,518.66 L208.20,518.63 L208.60,518.60 L209.00,518.58 L209.40,518.56 L209.80,518.53 L210.20,518.51 L210.60,518.49 L211.00,518.47 L211.40,518.45 L211.80,518.43 L212.20,518.41 L212.60,518.39 L213.00,518.38 L213.40,518.36 L213.80,518.34 L214.20,518.33 L214.60,518.31 L215.00,518.30 L215.40,518.29 L215.80,518.27 L216.20,518.26 L216.60,518.25 L217.00,518.24 L217.40,518.23 L217.80,518.22 L218.20,518.21 L218.60,518.20 L219.00,518.19 L219.40,518.19 L219.80,518.18 L220.20,518.17 L220.60,518.17 L221.00,518.16 L221.40,518.16 L221.80,518.15 L222.20,518.15 L222.60,518.14 L223.00,518.14 L223.40,518.13 L223.80,518.13 L224.20,518.13 L224.60,518.12 L225.00,518.12 L225.40,518.12 L225.80,518.12 L226.20,518.11 L226.60,518.11 L227.00,518.11 L227.40,518.11 L227.80,518.11 L228.20,518.11 L228.60,518.11 L229.00,518.10 L229.40,518.10 L229.80,518.10 L230.20,518.10 L230.60,518.10 L231.00,518.10" fill="none" stroke="#2020e0" stroke-width="1.8" stroke-linejoin="round"/>
<path d="M40.20,513.80 L40.60,512.77 L41.00,511.72 L41.40,510.64 L41.80,509.50 L42.20,508.30 L42.60,507.05 L43.00,505.77 L43.40,504.48 L43.80,503.17 L44.20,501.86 L44.60,500.54 L45.00,499.20 L45.40,497.84 L45.80,496.50 L46.20,495.20 L46.60,494.00 L47.00,492.92 L47.40,491.96 L47.80,491.12 L48.20,490.40 L48.60,489.79 L49.00,489.29 L49.40,488.89 L49.80,488.60 L50.20,488.41 L50.60,488.34 L51.00,488.40 L51.40,488.62 L51.80,489.07 L52.20,489.82 L52.60,490.86 L53.00,492.08 L53.40,493.38 L53.80,494.72 L54.20,496.10 L54.60,497.52 L55.00,498.95 L55.40,500.34 L55.80,501.67 L56.20,502.91 L56.60,504.06 L57.00,505.12 L57.40,506.09 L57.80,506.98 L58.20,507.80 L58.60,508.56 L59.00,509.25 L59.40,509.87 L59.80,510.44 L60.20,510.94 L60.60,511.40 L61.00,511.81 L61.40,512.20 L61.80,512.57 L62.20,512.92 L62.60,513.26 L63.00,513.60 L63.40,513.93 L63.80,514.27 L64.20,514.62 L64.60,515.00 L65.00,515.41 L65.40,515.85 L65.80,516.31 L66.20,516.78 L66.60,517.26 L67.00,517.81 L67.40,518.50 L67.80,519.41 L68.20,520.55 L68.60,521.90 L69.00,523.44 L69.40,525.15 L69.80,527.00 L70.20,528.98 L70.60,531.10 L71.00,533.34 L71.40,535.69 L71.80,538.11 L72.20,540.57 L72.60,543.01 L73.00,545.36 L73.40,547.60 L73.80,549.70 L74.20,551.65 L74.60,553.42 L75.00,555.00 L75.40,556.35 L75.80,557.39 L76.20,558.08 L76.60,558.43 L77.00,558.52 L77.40,558.38 L77.80,557.95 L78.20,557.22 L78.60,556.20 L79.00,554.98 L79.40,553.62 L79.80,552.12 L80.20,550.50 L80.60,548.76 L81.00,546.96 L81.40,545.12 L81.80,543.29 L82.20,541.51 L82.60,539.78 L83.00,538.11 L83.40,536.51 L83.80,534.98 L84.20,533.52 L84.60,532.11 L85.00,530.77 L85.40,529.48 L85.80,528.24 L86.20,527.05 L86.60,525.92 L87.00,524.85 L87.40,523.87 L87.80,522.98 L88.20,522.22 L88.60,521.60 L89.00,521.08 L89.40,520.67 L89.80,520.34 L90.20,520.06 L90.60,519.83 L91.00,519.63 L91.40,519.46 L91.80,519.31 L92.20,519.18 L92.60,519.07 L93.00,518.98 L93.40,518.90 L93.80,518.82 L94.20,518.76 L94.60,518.71 L95.00,518.67 L95.40,518.63 L95.80,518.60 L96.20,518.57 L96.60,518.55 L97.00,518.54 L97.40,518.53 L97.80,518.52 L98.20,518.51 L98.60,518.50 L99.00,518.50 L99.40,518.50 L99.80,518.50 L100.20,518.50 L100.60,518.50 L101.00,518.50 L101.40,518.50 L101.80,518.50 L102.20,518.50 L102.60,518.50 L103.00,518.51 L103.40,518.51 L103.80,518.51 L104.20,518.51 L104.60,518.51 L105.00,518.51 L105.40,518.50 L105.80,518.50 L106.20,518.50 L106.60,518.49 L107.00,518.49 L107.40,518.48 L107.80,518.47 L108.20,518.46 L108.60,518.45 L109.00,518.43 L109.40,518.42 L109.80,518.40 L110.20,518.38 L110.60,518.36 L111.00,518.34 L111.40,518.32 L111.80,518.29 L112.20,518.27 L112.60,518.24 L113.00,518.21 L113.40,518.18 L113.80,518.14 L114.20,518.11 L114.60,518.07 L115.00,518.03 L115.40,517.98 L115.80,517.94 L116.20,517.89 L116.60,517.83 L117.00,517.78 L117.40,517.72 L117.80,517.65 L118.20,517.58 L118.60,517.51 L119.00,517.43 L119.40,517.35 L119.80,517.26 L120.20,517.17 L120.60,517.07 L121.00,516.96 L121.40,516.85 L121.80,516.73 L122.20,516.61 L122.60,516.47 L123.00,516.33 L123.40,516.19 L123.80,516.04 L124.20,515.88 L124.60,515.71 L125.00,515.54 L125.40,515.37 L125.80,515.19 L126.20,515.00 L126.60,514.81 L127.00,514.61 L127.40,514.41 L127.80,514.20 L128.20,513.98 L128.60,513.75 L129.00,513.52 L129.40,513.28 L129.80,513.03 L130.20,512.77 L130.60,512.50 L131.00,512.22 L131.40,511.93 L131.80,511.63 L132.20,511.33 L132.60,511.01 L133.00,510.69 L133.40,510.36 L133.80,510.03 L134.20,509.69 L134.60,509.35 L135.00,509.00 L135.40,508.65 L135.80,508.30 L136.20,507.95 L136.60,507.60 L137.00,507.27 L137.40,506.94 L137.80,506.62 L138.20,506.32 L138.60,506.03 L139.00,505.76 L139.40,505.50 L139.80,505.26 L140.20,505.04 L140.60,504.84 L141.00,504.65 L141.40,504.48 L141.80,504.32 L142.20,504.18 L142.60,504.05 L143.00,503.94 L143.40,503.86 L143.80,503.80 L144.20,503.77 L144.60,503.76 L145.00,503.78 L145.40,503.82 L145.80,503.87 L146.20,503.93 L146.60,504.02 L147.00,504.12 L147.40,504.26 L147.80,504.44 L148.20,504.66 L148.60,504.93 L149.00,505.25 L149.40,505.61 L149.80,505.99 L150.20,506.40 L150.60,506.82 L151.00,507.25 L151.40,507.70 L151.80,508.16 L152.20,508.64 L152.60,509.12 L153.00,509.62 L153.40,510.13 L153.80,510.64 L154.20,511.16 L154.60,511.67 L155.00,512.19 L155.40,512.70 L155.80,513.22 L156.20,513.74 L156.60,514.28 L157.00,514.84 L157.40,515.42 L157.80,516.01 L158.20,516.61 L158.60,517.23 L159.00,517.84 L159.40,518.47 L159.80,519.08 L160.20,519.70 L160.60,520.29 L161.00,520.88 L161.40,521.44 L161.80,521.98 L162.20,522.49 L162.60,523.00 L163.00,523.49 L163.40,523.98 L163.80,524.46 L164.20,524.95 L164.60,525.42 L165.00,525.87 L165.40,526.30 L165.80,526.69 L166.20,527.06 L166.60,527.40 L167.00,527.72 L167.40,528.01 L167.80,528.30 L168.20,528.58 L168.60,528.84 L169.00,529.09 L169.40,529.31 L169.80,529.51 L170.20,529.68 L170.60,529.82 L171.00,529.92 L171.40,530.01 L171.80,530.06 L172.20,530.10 L172.60,530.12 L173.00,530.12 L173.40,530.10 L173.80,530.07 L174.20,530.03 L174.60,529.97 L175.00,529.90 L175.40,529.81 L175.80,529.72 L176.20,529.61 L176.60,529.50 L177.00,529.38 L177.40,529.25 L177.80,529.10 L178.20,528.95 L178.60,528.79 L179.00,528.61 L179.40,528.42 L179.80,528.22 L180.20,528.02 L180.60,527.81 L181.00,527.60 L181.40,527.40 L181.80,527.19 L182.20,526.99 L182.60,526.80 L183.00,526.60 L183.40,526.40 L183.80,526.20 L184.20,526.01 L184.60,525.81 L185.00,525.60 L185.40,525.40 L185.80,525.19 L186.20,524.98 L186.60,524.77 L187.00,524.56 L187.40,524.35 L187.80,524.15 L188.20,523.95 L188.60,523.75 L189.00,523.55 L189.40,523.35 L189.80,523.15 L190.20,522.95 L190.60,522.74 L191.00,522.54 L191.40,522.34 L191.80,522.15 L192.20,521.96 L192.60,521.78 L193.00,521.60 L193.40,521.43 L193.80,521.26 L194.20,521.10 L194.60,520.95 L195.00,520.80 L195.40,520.66 L195.80,520.52 L196.20,520.38 L196.60,520.25 L197.00,520.13 L197.40,520.01 L197.80,519.90 L198.20,519.79 L198.60,519.68 L199.00,519.58 L199.40,519.49 L199.80,519.40 L200.20,519.32 L200.60,519.24 L201.00,519.17 L201.40,519.10 L201.80,519.04 L202.20,518.98 L202.60,518.93 L203.00,518.87 L203.40,518.83 L203.80,518.78 L204.20,518.74 L204.60,518.70 L205.00,518.67 L205.40,518.63 L205.80,518.60 L206.20,518.57 L206.60,518.54 L207.00,518.51 L207.40,518.49 L207.80,518.46 L208.20,518.44 L208.60,518.42 L209.00,518.40 L209.40,518.38 L209.80,518.36 L210.20,518.34 L210.60,518.32 L211.00,518.31 L211.40,518.30 L211.80,518.28 L212.20,518.27 L212.60,518.26 L213.00,518.25 L213.40,518.24 L213.80,518.23 L214.20,518.22 L214.60,518.21 L215.00,518.20 L215.40,518.19 L215.80,518.18 L216.20,518.18 L216.60,518.17 L217.00,518.16 L217.40,518.16 L217.80,518.15 L218.20,518.15 L218.60,518.14 L219.00,518.14 L219.40,518.13 L219.80,518.13 L220.20,518.13 L220.60,518.12 L221.00,518.12 L221.40,518.12 L221.80,518.11 L222.20,518.11 L222.60,518.11 L223.00,518.11 L223.40,518.11 L223.80,518.11 L224.20,518.10 L224.60,518.10 L225.00,518.10 L225.40,518.10 L225.80,518.10 L226.20,518.10 L226.60,518.10 L227.00,518.10 L227.40,518.10 L227.80,518.10 L228.20,518.10 L228.60,518.10 L229.00,518.10 L229.40,518.10 L229.80,518.10 L230.20,518.10 L230.60,518.10 L231.00,518.10" fill="none" stroke="#e8141a" stroke-width="1.8" stroke-linejoin="round"/>
</g>
<g clip-path="url(#cu10)"><path d="M40.30,459.00 L40.70,455.68 L41.10,452.51 L41.50,449.43 L41.90,446.35 L42.30,443.19 L42.70,439.87 L43.10,436.31 L43.50,432.53 L43.90,428.59 L44.30,424.56 L44.70,420.48 L45.10,416.41 L45.50,412.34 L45.90,408.27 L46.30,404.20 L46.70,400.11 L47.10,396.02 L47.50,391.92 L47.90,387.84 L48.30,383.79 L48.70,379.78 L49.10,375.84 L49.50,371.98 L49.90,368.24 L50.30,364.64 L50.70,361.22 L51.10,358.00 L51.50,355.01 L51.90,352.24 L52.30,349.64 L52.70,347.21 L53.10,344.91 L53.50,342.72 L53.90,340.65 L54.30,338.76 L54.70,337.12 L55.10,335.78 L55.50,334.80 L55.90,334.16 L56.30,333.85 L56.70,333.82 L57.10,334.04 L57.50,334.53 L57.90,335.27 L58.30,336.28 L58.70,337.55 L59.10,339.12 L59.50,341.00 L59.90,343.20 L60.30,345.65 L60.70,348.30 L61.10,351.06 L61.50,353.87 L61.90,356.64 L62.30,359.32 L62.70,361.88 L63.10,364.34 L63.50,366.73 L63.90,369.07 L64.30,371.38 L64.70,373.69 L65.10,376.02 L65.50,378.40 L65.90,380.83 L66.30,383.27 L66.70,385.67 L67.10,388.00 L67.50,390.20 L67.90,392.24 L68.30,394.14 L68.70,395.92 L69.10,397.59 L69.50,399.19 L69.90,400.74 L70.30,402.24 L70.70,403.70 L71.10,405.14 L71.50,406.55 L71.90,407.95 L72.30,409.32 L72.70,410.64 L73.10,411.89 L73.50,413.06 L73.90,414.14 L74.30,415.12 L74.70,416.02 L75.10,416.85 L75.50,417.63 L75.90,418.37 L76.30,419.10 L76.70,419.83 L77.10,420.57 L77.50,421.34 L77.90,422.12 L78.30,422.91 L78.70,423.71 L79.10,424.52 L79.50,425.31 L79.90,426.10 L80.30,426.88 L80.70,427.65 L81.10,428.40 L81.50,429.14 L81.90,429.88 L82.30,430.61 L82.70,431.33 L83.10,432.05 L83.50,432.78 L83.90,433.50 L84.30,434.23 L84.70,434.96 L85.10,435.69 L85.50,436.42 L85.90,437.15 L86.30,437.88 L86.70,438.61 L87.10,439.34 L87.50,440.06 L87.90,440.78 L88.30,441.50 L88.70,442.21 L89.10,442.92 L89.50,443.63 L89.90,444.35 L90.30,445.06 L90.70,445.78 L91.10,446.50 L91.50,447.23 L91.90,447.97 L92.30,448.71 L92.70,449.46 L93.10,450.21 L93.50,450.95 L93.90,451.70 L94.30,452.43 L94.70,453.16 L95.10,453.88 L95.50,454.58 L95.90,455.27 L96.30,455.94 L96.70,456.59 L97.10,457.23 L97.50,457.86 L97.90,458.47 L98.30,459.07 L98.70,459.65 L99.10,460.23 L99.50,460.80 L99.90,461.35 L100.30,461.89 L100.70,462.40 L101.10,462.90 L101.50,463.37 L101.90,463.82 L102.30,464.24 L102.70,464.64 L103.10,465.01 L103.50,465.36 L103.90,465.68 L104.30,465.99 L104.70,466.27 L105.10,466.53 L105.50,466.78 L105.90,467.00 L106.30,467.21 L106.70,467.40 L107.10,467.58 L107.50,467.74 L107.90,467.89 L108.30,468.03 L108.70,468.16 L109.10,468.28 L109.50,468.38 L109.90,468.47 L110.30,468.54 L110.70,468.61 L111.10,468.65 L111.50,468.68 L111.90,468.70 L112.30,468.70 L112.70,468.68 L113.10,468.65 L113.50,468.61 L113.90,468.55 L114.30,468.48 L114.70,468.40 L115.10,468.30 L115.50,468.20 L115.90,468.09 L116.30,467.96 L116.70,467.82 L117.10,467.67 L117.50,467.50 L117.90,467.32 L118.30,467.12 L118.70,466.90 L119.10,466.66 L119.50,466.40 L119.90,466.12 L120.30,465.83 L120.70,465.52 L121.10,465.19 L121.50,464.85 L121.90,464.50 L122.30,464.15 L122.70,463.79 L123.10,463.43 L123.50,463.06 L123.90,462.69 L124.30,462.31 L124.70,461.93 L125.10,461.54 L125.50,461.14 L125.90,460.73 L126.30,460.31 L126.70,459.88 L127.10,459.44 L127.50,458.99 L127.90,458.54 L128.30,458.07 L128.70,457.61 L129.10,457.15 L129.50,456.68 L129.90,456.23 L130.30,455.78 L130.70,455.33 L131.10,454.89 L131.50,454.46 L131.90,454.04 L132.30,453.62 L132.70,453.21 L133.10,452.80 L133.50,452.40 L133.90,452.00 L134.30,451.61 L134.70,451.23 L135.10,450.85 L135.50,450.48 L135.90,450.13 L136.30,449.78 L136.70,449.45 L137.10,449.13 L137.50,448.83 L137.90,448.54 L138.30,448.27 L138.70,448.02 L139.10,447.78 L139.50,447.56 L139.90,447.36 L140.30,447.18 L140.70,447.02 L141.10,446.88 L141.50,446.75 L141.90,446.64 L142.30,446.54 L142.70,446.45 L143.10,446.37 L143.50,446.30 L143.90,446.24 L144.30,446.18 L144.70,446.13 L145.10,446.09 L145.50,446.05 L145.90,446.03 L146.30,446.01 L146.70,446.00 L147.10,446.00 L147.50,446.00 L147.90,446.02 L148.30,446.04 L148.70,446.08 L149.10,446.12 L149.50,446.18 L149.90,446.24 L150.30,446.31 L150.70,446.40 L151.10,446.49 L151.50,446.60 L151.90,446.72 L152.30,446.84 L152.70,446.98 L153.10,447.13 L153.50,447.29 L153.90,447.46 L154.30,447.64 L154.70,447.83 L155.10,448.03 L155.50,448.25 L155.90,448.47 L156.30,448.70 L156.70,448.94 L157.10,449.19 L157.50,449.45 L157.90,449.72 L158.30,450.00 L158.70,450.29 L159.10,450.59 L159.50,450.90 L159.90,451.22 L160.30,451.55 L160.70,451.89 L161.10,452.23 L161.50,452.59 L161.90,452.95 L162.30,453.31 L162.70,453.69 L163.10,454.06 L163.50,454.44 L163.90,454.83 L164.30,455.21 L164.70,455.60 L165.10,455.99 L165.50,456.38 L165.90,456.76 L166.30,457.15 L166.70,457.53 L167.10,457.90 L167.50,458.27 L167.90,458.64 L168.30,459.00 L168.70,459.34 L169.10,459.68 L169.50,460.01 L169.90,460.34 L170.30,460.65 L170.70,460.95 L171.10,461.25 L171.50,461.54 L171.90,461.83 L172.30,462.11 L172.70,462.39 L173.10,462.66 L173.50,462.93 L173.90,463.20 L174.30,463.47 L174.70,463.73 L175.10,463.99 L175.50,464.25 L175.90,464.51 L176.30,464.76 L176.70,465.00 L177.10,465.24 L177.50,465.46 L177.90,465.69 L178.30,465.90 L178.70,466.10 L179.10,466.29 L179.50,466.48 L179.90,466.65 L180.30,466.83 L180.70,466.99 L181.10,467.15 L181.50,467.31 L181.90,467.47 L182.30,467.62 L182.70,467.78 L183.10,467.94 L183.50,468.10 L183.90,468.26 L184.30,468.42 L184.70,468.58 L185.10,468.74 L185.50,468.90 L185.90,469.05 L186.30,469.20 L186.70,469.34 L187.10,469.47 L187.50,469.60 L187.90,469.72 L188.30,469.83 L188.70,469.93 L189.10,470.03 L189.50,470.12 L189.90,470.20 L190.30,470.28 L190.70,470.36 L191.10,470.43 L191.50,470.50 L191.90,470.57 L192.30,470.63 L192.70,470.70 L193.10,470.76 L193.50,470.82 L193.90,470.88 L194.30,470.94 L194.70,470.99 L195.10,471.05 L195.50,471.10 L195.90,471.15 L196.30,471.20 L196.70,471.25 L197.10,471.30 L197.50,471.35 L197.90,471.39 L198.30,471.43 L198.70,471.47 L199.10,471.51 L199.50,471.55 L199.90,471.58 L200.30,471.61 L200.70,471.65 L201.10,471.68 L201.50,471.71 L201.90,471.73 L202.30,471.76 L202.70,471.78 L203.10,471.81 L203.50,471.83 L203.90,471.85 L204.30,471.87 L204.70,471.89 L205.10,471.91 L205.50,471.93 L205.90,471.94 L206.30,471.96 L206.70,471.97 L207.10,471.98 L207.50,472.00 L207.90,472.01 L208.30,472.02 L208.70,472.03 L209.10,472.04 L209.50,472.05 L209.90,472.06 L210.30,472.07 L210.70,472.08 L211.10,472.08 L211.50,472.09 L211.90,472.10 L212.30,472.11 L212.70,472.11 L213.10,472.12 L213.50,472.12 L213.90,472.13 L214.30,472.14 L214.70,472.14 L215.10,472.15 L215.50,472.15 L215.90,472.16 L216.30,472.16 L216.70,472.17 L217.10,472.17 L217.50,472.18 L217.90,472.18 L218.30,472.19 L218.70,472.19 L219.10,472.20 L219.50,472.20 L219.90,472.20 L220.30,472.21 L220.70,472.21 L221.10,472.22 L221.50,472.22 L221.90,472.22 L222.30,472.23 L222.70,472.23 L223.10,472.23 L223.50,472.24 L223.90,472.24 L224.30,472.25 L224.70,472.25 L225.10,472.25 L225.50,472.26 L225.90,472.26 L226.30,472.26 L226.70,472.27 L227.10,472.27 L227.50,472.27 L227.90,472.28 L228.30,472.28 L228.70,472.28 L229.10,472.29 L229.50,472.29 L229.90,472.29 L230.30,472.29 L230.70,472.30 L231.00,472.30" fill="none" stroke="#111" stroke-width="1.65" stroke-linejoin="round"/></g>
<g clip-path="url(#cl11)">
<line x1="264.50" y1="495.40" x2="264.50" y2="536.00" stroke="#ee1010" stroke-width="1.1"/>
<line x1="264.50" y1="532.00" x2="264.50" y2="536.00" stroke="#2a2ae6" stroke-width="1.1"/>
<line x1="266.50" y1="512.60" x2="266.50" y2="525.10" stroke="#ee1010" stroke-width="1.1"/>
<line x1="268.50" y1="509.50" x2="268.50" y2="522.00" stroke="#ee1010" stroke-width="1.1"/>
<line x1="270.50" y1="510.30" x2="270.50" y2="518.90" stroke="#ee1010" stroke-width="1.1"/>
<line x1="272.50" y1="507.00" x2="272.50" y2="529.00" stroke="#ee1010" stroke-width="1.1"/>
<line x1="272.50" y1="526.00" x2="272.50" y2="529.00" stroke="#2a2ae6" stroke-width="1.1"/>
<line x1="277.50" y1="515.80" x2="277.50" y2="522.00" stroke="#ee1010" stroke-width="1.1"/>
<line x1="279.50" y1="473.00" x2="279.50" y2="561.80" stroke="#ee1010" stroke-width="1.1"/>
<line x1="279.50" y1="558.00" x2="279.50" y2="561.80" stroke="#2a2ae6" stroke-width="1.1"/>
<line x1="280.50" y1="503.00" x2="280.50" y2="553.00" stroke="#e47070" stroke-width="1.1"/>
<line x1="281.50" y1="485.30" x2="281.50" y2="523.60" stroke="#ee1010" stroke-width="1.1"/>
<line x1="281.50" y1="485.30" x2="281.50" y2="488.50" stroke="#2a2ae6" stroke-width="1.1"/>
<line x1="282.50" y1="511.00" x2="282.50" y2="567.30" stroke="#e47070" stroke-width="1.1"/>
<line x1="282.50" y1="563.00" x2="282.50" y2="567.30" stroke="#2a2ae6" stroke-width="1.1"/>
<line x1="283.50" y1="495.40" x2="283.50" y2="542.30" stroke="#ee1010" stroke-width="1.1"/>
<line x1="284.50" y1="500.00" x2="284.50" y2="565.80" stroke="#e47070" stroke-width="1.1"/>
<line x1="285.50" y1="473.00" x2="285.50" y2="565.80" stroke="#ee1010" stroke-width="1.1"/>
<line x1="286.50" y1="501.70" x2="286.50" y2="543.90" stroke="#ee1010" stroke-width="1.1"/>
<line x1="287.50" y1="506.40" x2="287.50" y2="531.40" stroke="#ee1010" stroke-width="1.1"/>
<line x1="288.50" y1="512.60" x2="288.50" y2="550.10" stroke="#ee1010" stroke-width="1.1"/>
<line x1="290.50" y1="511.00" x2="290.50" y2="523.60" stroke="#ee1010" stroke-width="1.1"/>
<line x1="291.50" y1="502.50" x2="291.50" y2="525.10" stroke="#ee1010" stroke-width="1.1"/>
<line x1="292.50" y1="508.00" x2="292.50" y2="518.90" stroke="#ee1010" stroke-width="1.1"/>
<line x1="294.50" y1="518.90" x2="294.50" y2="525.10" stroke="#ee1010" stroke-width="1.1"/>
<line x1="300.50" y1="517.30" x2="300.50" y2="518.90" stroke="#ee1010" stroke-width="1.1"/>
<line x1="304.50" y1="516.60" x2="304.50" y2="519.70" stroke="#ee1010" stroke-width="1.1"/>
<line x1="308.50" y1="511.80" x2="308.50" y2="526.00" stroke="#ee1010" stroke-width="1.1"/>
<line x1="309.50" y1="511.40" x2="309.50" y2="525.60" stroke="#e47070" stroke-width="1.1"/>
<line x1="322.50" y1="504.80" x2="322.50" y2="536.60" stroke="#ee1010" stroke-width="1.1"/>
<line x1="322.50" y1="504.80" x2="322.50" y2="536.60" stroke="#e47070" stroke-width="1.1"/>
<line x1="329.50" y1="507.00" x2="329.50" y2="524.50" stroke="#ee1010" stroke-width="1.1"/>
<line x1="331.50" y1="504.80" x2="331.50" y2="530.00" stroke="#ee1010" stroke-width="1.1"/>
<line x1="347.50" y1="514.70" x2="347.50" y2="521.20" stroke="#ee1010" stroke-width="1.1"/>
<path d="M261.80,518.10 L262.20,518.13 L262.60,518.15 L263.00,518.18 L263.40,518.20 L263.80,518.23 L264.20,518.25 L264.60,518.27 L265.00,518.28 L265.40,518.29 L265.80,518.30 L266.20,518.30 L266.60,518.30 L267.00,518.29 L267.40,518.28 L267.80,518.26 L268.20,518.24 L268.60,518.21 L269.00,518.17 L269.40,518.13 L269.80,518.08 L270.20,518.03 L270.60,517.97 L271.00,517.90 L271.40,517.83 L271.80,517.75 L272.20,517.67 L272.60,517.59 L273.00,517.51 L273.40,517.44 L273.80,517.38 L274.20,517.33 L274.60,517.29 L275.00,517.27 L275.40,517.27 L275.80,517.28 L276.20,517.32 L276.60,517.39 L277.00,517.48 L277.40,517.61 L277.80,517.76 L278.20,517.96 L278.60,518.18 L279.00,518.45 L279.40,518.76 L279.80,519.11 L280.20,519.49 L280.60,519.90 L281.00,520.33 L281.40,520.77 L281.80,521.23 L282.20,521.69 L282.60,522.15 L283.00,522.60 L283.40,523.05 L283.80,523.49 L284.20,523.92 L284.60,524.33 L285.00,524.71 L285.40,525.07 L285.80,525.40 L286.20,525.70 L286.60,525.97 L287.00,526.22 L287.40,526.46 L287.80,526.70 L288.20,526.94 L288.60,527.18 L289.00,527.41 L289.40,527.60 L289.80,527.75 L290.20,527.86 L290.60,527.91 L291.00,527.89 L291.40,527.81 L291.80,527.68 L292.20,527.51 L292.60,527.31 L293.00,527.09 L293.40,526.86 L293.80,526.62 L294.20,526.36 L294.60,526.06 L295.00,525.73 L295.40,525.37 L295.80,524.98 L296.20,524.57 L296.60,524.14 L297.00,523.71 L297.40,523.27 L297.80,522.85 L298.20,522.43 L298.60,522.02 L299.00,521.64 L299.40,521.28 L299.80,520.96 L300.20,520.66 L300.60,520.40 L301.00,520.16 L301.40,519.94 L301.80,519.75 L302.20,519.57 L302.60,519.41 L303.00,519.27 L303.40,519.13 L303.80,519.01 L304.20,518.90 L304.60,518.80 L305.00,518.70 L305.40,518.61 L305.80,518.52 L306.20,518.45 L306.60,518.38 L307.00,518.32 L307.40,518.27 L307.80,518.22 L308.20,518.18 L308.60,518.15 L309.00,518.13 L309.40,518.11 L309.80,518.10 L310.20,518.09 L310.60,518.09 L311.00,518.09 L311.40,518.09 L311.80,518.09 L312.20,518.09 L312.60,518.10 L313.00,518.10 L313.40,518.10 L313.80,518.10 L314.20,518.10 L314.60,518.09 L315.00,518.09 L315.40,518.08 L315.80,518.08 L316.20,518.07 L316.60,518.06 L317.00,518.06 L317.40,518.05 L317.80,518.04 L318.20,518.03 L318.60,518.02 L319.00,518.02 L319.40,518.01 L319.80,518.00 L320.20,518.00 L320.60,517.99 L321.00,517.99 L321.40,517.99 L321.80,517.98 L322.20,517.98 L322.60,517.98 L323.00,517.97 L323.40,517.97 L323.80,517.97 L324.20,517.96 L324.60,517.96 L325.00,517.95 L325.40,517.95 L325.80,517.94 L326.20,517.93 L326.60,517.93 L327.00,517.92 L327.40,517.90 L327.80,517.89 L328.20,517.87 L328.60,517.86 L329.00,517.84 L329.40,517.82 L329.80,517.80 L330.20,517.77 L330.60,517.75 L331.00,517.72 L331.40,517.70 L331.80,517.67 L332.20,517.64 L332.60,517.61 L333.00,517.58 L333.40,517.54 L333.80,517.51 L334.20,517.47 L334.60,517.44 L335.00,517.40 L335.40,517.36 L335.80,517.32 L336.20,517.28 L336.60,517.25 L337.00,517.21 L337.40,517.17 L337.80,517.13 L338.20,517.10 L338.60,517.06 L339.00,517.03 L339.40,517.00 L339.80,516.98 L340.20,516.95 L340.60,516.93 L341.00,516.92 L341.40,516.91 L341.80,516.90 L342.20,516.89 L342.60,516.90 L343.00,516.90 L343.40,516.92 L343.80,516.94 L344.20,516.96 L344.60,516.98 L345.00,517.01 L345.40,517.05 L345.80,517.08 L346.20,517.12 L346.60,517.16 L347.00,517.20 L347.40,517.24 L347.80,517.28 L348.20,517.32 L348.60,517.36 L349.00,517.40 L349.40,517.44 L349.80,517.48 L350.20,517.51 L350.60,517.55 L351.00,517.59 L351.40,517.62 L351.80,517.65 L352.20,517.69 L352.60,517.72 L353.00,517.75 L353.40,517.77 L353.80,517.80 L354.20,517.82 L354.60,517.85 L355.00,517.87 L355.40,517.89 L355.80,517.91 L356.20,517.93 L356.60,517.94 L357.00,517.96 L357.40,517.97 L357.80,517.99 L358.20,518.00 L358.60,518.01 L359.00,518.02 L359.40,518.03 L359.80,518.04 L360.20,518.05 L360.60,518.05 L361.00,518.06 L361.40,518.06 L361.80,518.07 L362.20,518.08 L362.60,518.08 L363.00,518.08 L363.40,518.09 L363.80,518.09 L364.20,518.09 L364.60,518.10 L365.00,518.10 L365.40,518.10 L365.80,518.11 L366.20,518.11 L366.60,518.11 L367.00,518.11 L367.40,518.12 L367.80,518.12 L368.20,518.12 L368.60,518.13 L369.00,518.13 L369.40,518.13 L369.80,518.13 L370.20,518.14 L370.60,518.14 L371.00,518.14 L371.40,518.14 L371.80,518.14 L372.20,518.15 L372.60,518.15 L373.00,518.15 L373.40,518.15 L373.80,518.16 L374.20,518.16 L374.60,518.16 L375.00,518.16 L375.40,518.16 L375.80,518.17 L376.20,518.17 L376.60,518.17 L377.00,518.17 L377.40,518.17 L377.80,518.18 L378.20,518.18 L378.60,518.18 L379.00,518.18 L379.40,518.18 L379.80,518.18 L380.20,518.19 L380.60,518.19 L381.00,518.19 L381.40,518.19 L381.80,518.19 L382.20,518.19 L382.60,518.19 L383.00,518.20 L383.40,518.20 L383.80,518.20 L384.20,518.20 L384.60,518.20 L385.00,518.20 L385.40,518.20 L385.80,518.20 L386.20,518.20 L386.60,518.21 L387.00,518.21 L387.40,518.21 L387.80,518.21 L388.20,518.21 L388.60,518.21 L389.00,518.21 L389.40,518.21 L389.80,518.21 L390.20,518.21 L390.60,518.21 L391.00,518.22 L391.40,518.22 L391.80,518.22 L392.20,518.22 L392.60,518.22 L393.00,518.22 L393.40,518.22 L393.80,518.22 L394.20,518.22 L394.60,518.22 L395.00,518.22 L395.40,518.22 L395.80,518.22 L396.20,518.22 L396.60,518.22 L397.00,518.22 L397.40,518.22 L397.80,518.22 L398.20,518.22 L398.60,518.22 L399.00,518.22 L399.40,518.22 L399.80,518.22 L400.20,518.23 L400.60,518.23 L401.00,518.23 L401.40,518.23 L401.80,518.23 L402.20,518.23 L402.60,518.23 L403.00,518.23 L403.40,518.23 L403.80,518.23 L404.20,518.22 L404.60,518.22 L405.00,518.22 L405.40,518.22 L405.80,518.22 L406.20,518.22 L406.60,518.22 L407.00,518.22 L407.40,518.22 L407.80,518.22 L408.20,518.22 L408.60,518.22 L409.00,518.22 L409.40,518.22 L409.80,518.22 L410.20,518.22 L410.60,518.22 L411.00,518.22 L411.40,518.22 L411.80,518.22 L412.20,518.22 L412.60,518.22 L413.00,518.22 L413.40,518.22 L413.80,518.22 L414.20,518.22 L414.60,518.21 L415.00,518.21 L415.40,518.21 L415.80,518.21 L416.20,518.21 L416.60,518.21 L417.00,518.21 L417.40,518.21 L417.80,518.21 L418.20,518.21 L418.60,518.21 L419.00,518.21 L419.40,518.21 L419.80,518.21 L420.20,518.20 L420.60,518.20 L421.00,518.20 L421.40,518.20 L421.80,518.20 L422.20,518.20 L422.60,518.20 L423.00,518.20 L423.40,518.20 L423.80,518.20 L424.20,518.19 L424.60,518.19 L425.00,518.19 L425.40,518.19 L425.80,518.19 L426.20,518.19 L426.60,518.19 L427.00,518.19 L427.40,518.19 L427.80,518.19 L428.20,518.18 L428.60,518.18 L429.00,518.18 L429.40,518.18 L429.80,518.18 L430.20,518.18 L430.60,518.18 L431.00,518.18 L431.40,518.17 L431.80,518.17 L432.20,518.17 L432.60,518.17 L433.00,518.17 L433.40,518.17 L433.80,518.17 L434.20,518.17 L434.60,518.16 L435.00,518.16 L435.40,518.16 L435.80,518.16 L436.20,518.16 L436.60,518.16 L437.00,518.16 L437.40,518.16 L437.80,518.15 L438.20,518.15 L438.60,518.15 L439.00,518.15 L439.40,518.15 L439.80,518.15 L440.20,518.15 L440.60,518.14 L441.00,518.14 L441.40,518.14 L441.80,518.14 L442.20,518.14 L442.60,518.14 L443.00,518.14 L443.40,518.13 L443.80,518.13 L444.20,518.13 L444.60,518.13 L445.00,518.13 L445.40,518.13 L445.80,518.13 L446.20,518.12 L446.60,518.12 L447.00,518.12 L447.40,518.12 L447.80,518.12 L448.20,518.12 L448.60,518.12 L449.00,518.11 L449.40,518.11 L449.80,518.11 L450.20,518.11 L450.60,518.11 L451.00,518.11 L451.40,518.11 L451.80,518.10 L452.20,518.10 L452.60,518.10 L452.80,518.10" fill="none" stroke="#2020e0" stroke-width="1.8" stroke-linejoin="round"/>
<path d="M261.80,515.50 L262.20,515.48 L262.60,515.46 L263.00,515.44 L263.40,515.41 L263.80,515.39 L264.20,515.36 L264.60,515.33 L265.00,515.29 L265.40,515.25 L265.80,515.21 L266.20,515.16 L266.60,515.10 L267.00,515.04 L267.40,514.97 L267.80,514.90 L268.20,514.83 L268.60,514.75 L269.00,514.68 L269.40,514.62 L269.80,514.56 L270.20,514.50 L270.60,514.46 L271.00,514.42 L271.40,514.40 L271.80,514.39 L272.20,514.39 L272.60,514.41 L273.00,514.43 L273.40,514.47 L273.80,514.51 L274.20,514.56 L274.60,514.61 L275.00,514.67 L275.40,514.74 L275.80,514.82 L276.20,514.92 L276.60,515.03 L277.00,515.16 L277.40,515.31 L277.80,515.49 L278.20,515.70 L278.60,515.92 L279.00,516.16 L279.40,516.41 L279.80,516.67 L280.20,516.93 L280.60,517.20 L281.00,517.49 L281.40,517.84 L281.80,518.25 L282.20,518.76 L282.60,519.37 L283.00,520.07 L283.40,520.83 L283.80,521.61 L284.20,522.38 L284.60,523.18 L285.00,524.07 L285.40,525.10 L285.80,526.31 L286.20,527.63 L286.60,529.00 L287.00,530.33 L287.40,531.55 L287.80,532.60 L288.20,533.44 L288.60,534.09 L289.00,534.60 L289.40,535.01 L289.80,535.33 L290.20,535.55 L290.60,535.67 L291.00,535.69 L291.40,535.62 L291.80,535.45 L292.20,535.19 L292.60,534.85 L293.00,534.44 L293.40,533.95 L293.80,533.40 L294.20,532.80 L294.60,532.14 L295.00,531.45 L295.40,530.73 L295.80,530.01 L296.20,529.33 L296.60,528.69 L297.00,528.12 L297.40,527.59 L297.80,527.11 L298.20,526.65 L298.60,526.21 L299.00,525.77 L299.40,525.34 L299.80,524.91 L300.20,524.49 L300.60,524.08 L301.00,523.69 L301.40,523.33 L301.80,522.98 L302.20,522.66 L302.60,522.35 L303.00,522.07 L303.40,521.80 L303.80,521.55 L304.20,521.32 L304.60,521.12 L305.00,520.92 L305.40,520.75 L305.80,520.60 L306.20,520.47 L306.60,520.35 L307.00,520.25 L307.40,520.16 L307.80,520.08 L308.20,520.01 L308.60,519.94 L309.00,519.89 L309.40,519.83 L309.80,519.78 L310.20,519.74 L310.60,519.71 L311.00,519.69 L311.40,519.68 L311.80,519.69 L312.20,519.71 L312.60,519.75 L313.00,519.81 L313.40,519.87 L313.80,519.95 L314.20,520.03 L314.60,520.11 L315.00,520.20 L315.40,520.28 L315.80,520.36 L316.20,520.43 L316.60,520.49 L317.00,520.55 L317.40,520.59 L317.80,520.62 L318.20,520.63 L318.60,520.63 L319.00,520.61 L319.40,520.57 L319.80,520.50 L320.20,520.42 L320.60,520.32 L321.00,520.20 L321.40,520.06 L321.80,519.92 L322.20,519.77 L322.60,519.63 L323.00,519.50 L323.40,519.39 L323.80,519.28 L324.20,519.17 L324.60,519.05 L325.00,518.90 L325.40,518.71 L325.80,518.48 L326.20,518.20 L326.60,517.91 L327.00,517.62 L327.40,517.36 L327.80,517.15 L328.20,516.99 L328.60,516.87 L329.00,516.80 L329.40,516.75 L329.80,516.72 L330.20,516.71 L330.60,516.71 L331.00,516.70 L331.40,516.69 L331.80,516.67 L332.20,516.64 L332.60,516.61 L333.00,516.58 L333.40,516.54 L333.80,516.50 L334.20,516.47 L334.60,516.43 L335.00,516.40 L335.40,516.37 L335.80,516.35 L336.20,516.33 L336.60,516.31 L337.00,516.29 L337.40,516.28 L337.80,516.28 L338.20,516.27 L338.60,516.27 L339.00,516.27 L339.40,516.28 L339.80,516.28 L340.20,516.29 L340.60,516.30 L341.00,516.32 L341.40,516.33 L341.80,516.35 L342.20,516.37 L342.60,516.39 L343.00,516.41 L343.40,516.43 L343.80,516.46 L344.20,516.49 L344.60,516.51 L345.00,516.54 L345.40,516.57 L345.80,516.60 L346.20,516.64 L346.60,516.67 L347.00,516.71 L347.40,516.74 L347.80,516.78 L348.20,516.82 L348.60,516.86 L349.00,516.90 L349.40,516.94 L349.80,516.99 L350.20,517.03 L350.60,517.07 L351.00,517.11 L351.40,517.16 L351.80,517.20 L352.20,517.24 L352.60,517.28 L353.00,517.32 L353.40,517.36 L353.80,517.40 L354.20,517.44 L354.60,517.47 L355.00,517.50 L355.40,517.54 L355.80,517.57 L356.20,517.60 L356.60,517.63 L357.00,517.65 L357.40,517.68 L357.80,517.70 L358.20,517.73 L358.60,517.75 L359.00,517.77 L359.40,517.79 L359.80,517.81 L360.20,517.83 L360.60,517.85 L361.00,517.86 L361.40,517.88 L361.80,517.89 L362.20,517.91 L362.60,517.92 L363.00,517.93 L363.40,517.95 L363.80,517.96 L364.20,517.97 L364.60,517.98 L365.00,517.99 L365.40,518.00 L365.80,518.01 L366.20,518.01 L366.60,518.02 L367.00,518.03 L367.40,518.03 L367.80,518.04 L368.20,518.05 L368.60,518.05 L369.00,518.06 L369.40,518.06 L369.80,518.07 L370.20,518.07 L370.60,518.07 L371.00,518.08 L371.40,518.08 L371.80,518.08 L372.20,518.09 L372.60,518.09 L373.00,518.09 L373.40,518.09 L373.80,518.09 L374.20,518.10 L374.60,518.10 L375.00,518.10 L375.40,518.10 L375.80,518.10 L376.20,518.11 L376.60,518.11 L377.00,518.11 L377.40,518.11 L377.80,518.11 L378.20,518.11 L378.60,518.12 L379.00,518.12 L379.40,518.12 L379.80,518.12 L380.20,518.12 L380.60,518.12 L381.00,518.12 L381.40,518.13 L381.80,518.13 L382.20,518.13 L382.60,518.13 L383.00,518.13 L383.40,518.13 L383.80,518.13 L384.20,518.14 L384.60,518.14 L385.00,518.14 L385.40,518.14 L385.80,518.14 L386.20,518.14 L386.60,518.14 L387.00,518.14 L387.40,518.14 L387.80,518.15 L388.20,518.15 L388.60,518.15 L389.00,518.15 L389.40,518.15 L389.80,518.15 L390.20,518.15 L390.60,518.15 L391.00,518.15 L391.40,518.15 L391.80,518.15 L392.20,518.16 L392.60,518.16 L393.00,518.16 L393.40,518.16 L393.80,518.16 L394.20,518.16 L394.60,518.16 L395.00,518.16 L395.40,518.16 L395.80,518.16 L396.20,518.16 L396.60,518.16 L397.00,518.16 L397.40,518.16 L397.80,518.16 L398.20,518.16 L398.60,518.16 L399.00,518.17 L399.40,518.17 L399.80,518.17 L400.20,518.17 L400.60,518.17 L401.00,518.17 L401.40,518.17 L401.80,518.17 L402.20,518.17 L402.60,518.17 L403.00,518.17 L403.40,518.17 L403.80,518.17 L404.20,518.17 L404.60,518.17 L405.00,518.17 L405.40,518.17 L405.80,518.17 L406.20,518.17 L406.60,518.17 L407.00,518.17 L407.40,518.17 L407.80,518.17 L408.20,518.17 L408.60,518.17 L409.00,518.17 L409.40,518.17 L409.80,518.17 L410.20,518.17 L410.60,518.17 L411.00,518.17 L411.40,518.17 L411.80,518.17 L412.20,518.17 L412.60,518.17 L413.00,518.17 L413.40,518.17 L413.80,518.17 L414.20,518.17 L414.60,518.17 L415.00,518.17 L415.40,518.17 L415.80,518.17 L416.20,518.17 L416.60,518.17 L417.00,518.17 L417.40,518.17 L417.80,518.17 L418.20,518.16 L418.60,518.16 L419.00,518.16 L419.40,518.16 L419.80,518.16 L420.20,518.16 L420.60,518.16 L421.00,518.16 L421.40,518.16 L421.80,518.16 L422.20,518.16 L422.60,518.16 L423.00,518.16 L423.40,518.16 L423.80,518.16 L424.20,518.16 L424.60,518.16 L425.00,518.16 L425.40,518.16 L425.80,518.16 L426.20,518.15 L426.60,518.15 L427.00,518.15 L427.40,518.15 L427.80,518.15 L428.20,518.15 L428.60,518.15 L429.00,518.15 L429.40,518.15 L429.80,518.15 L430.20,518.15 L430.60,518.15 L431.00,518.15 L431.40,518.15 L431.80,518.15 L432.20,518.14 L432.60,518.14 L433.00,518.14 L433.40,518.14 L433.80,518.14 L434.20,518.14 L434.60,518.14 L435.00,518.14 L435.40,518.14 L435.80,518.14 L436.20,518.14 L436.60,518.14 L437.00,518.14 L437.40,518.13 L437.80,518.13 L438.20,518.13 L438.60,518.13 L439.00,518.13 L439.40,518.13 L439.80,518.13 L440.20,518.13 L440.60,518.13 L441.00,518.13 L441.40,518.13 L441.80,518.13 L442.20,518.12 L442.60,518.12 L443.00,518.12 L443.40,518.12 L443.80,518.12 L444.20,518.12 L444.60,518.12 L445.00,518.12 L445.40,518.12 L445.80,518.12 L446.20,518.12 L446.60,518.11 L447.00,518.11 L447.40,518.11 L447.80,518.11 L448.20,518.11 L448.60,518.11 L449.00,518.11 L449.40,518.11 L449.80,518.11 L450.20,518.11 L450.60,518.11 L451.00,518.10 L451.40,518.10 L451.80,518.10 L452.20,518.10 L452.60,518.10 L452.80,518.10" fill="none" stroke="#e8141a" stroke-width="1.8" stroke-linejoin="round"/>
</g>
<g clip-path="url(#cu11)"><path d="M261.80,448.40 L262.20,447.00 L262.60,445.60 L263.00,444.20 L263.40,442.81 L263.80,441.42 L264.20,440.03 L264.60,438.66 L265.00,437.29 L265.40,435.94 L265.80,434.59 L266.20,433.26 L266.60,431.94 L267.00,430.61 L267.40,429.29 L267.80,427.97 L268.20,426.64 L268.60,425.30 L269.00,423.95 L269.40,422.59 L269.80,421.20 L270.20,419.81 L270.60,418.41 L271.00,417.00 L271.40,415.59 L271.80,414.18 L272.20,412.77 L272.60,411.38 L273.00,410.00 L273.40,408.63 L273.80,407.28 L274.20,405.94 L274.60,404.61 L275.00,403.29 L275.40,401.97 L275.80,400.65 L276.20,399.32 L276.60,398.00 L277.00,396.67 L277.40,395.36 L277.80,394.10 L278.20,392.93 L278.60,391.90 L279.00,391.03 L279.40,390.31 L279.80,389.73 L280.20,389.27 L280.60,388.92 L281.00,388.66 L281.40,388.50 L281.80,388.43 L282.20,388.45 L282.60,388.57 L283.00,388.78 L283.40,389.08 L283.80,389.47 L284.20,389.94 L284.60,390.49 L285.00,391.12 L285.40,391.85 L285.80,392.67 L286.20,393.58 L286.60,394.59 L287.00,395.71 L287.40,396.93 L287.80,398.24 L288.20,399.63 L288.60,401.09 L289.00,402.62 L289.40,404.20 L289.80,405.82 L290.20,407.49 L290.60,409.17 L291.00,410.88 L291.40,412.61 L291.80,414.34 L292.20,416.08 L292.60,417.83 L293.00,419.58 L293.40,421.32 L293.80,423.06 L294.20,424.79 L294.60,426.50 L295.00,428.19 L295.40,429.86 L295.80,431.51 L296.20,433.13 L296.60,434.72 L297.00,436.28 L297.40,437.80 L297.80,439.28 L298.20,440.71 L298.60,442.10 L299.00,443.45 L299.40,444.74 L299.80,445.99 L300.20,447.18 L300.60,448.31 L301.00,449.39 L301.40,450.41 L301.80,451.37 L302.20,452.26 L302.60,453.10 L303.00,453.87 L303.40,454.57 L303.80,455.22 L304.20,455.80 L304.60,456.32 L305.00,456.78 L305.40,457.19 L305.80,457.55 L306.20,457.88 L306.60,458.17 L307.00,458.43 L307.40,458.66 L307.80,458.87 L308.20,459.05 L308.60,459.19 L309.00,459.30 L309.40,459.37 L309.80,459.41 L310.20,459.42 L310.60,459.41 L311.00,459.37 L311.40,459.31 L311.80,459.24 L312.20,459.16 L312.60,459.06 L313.00,458.96 L313.40,458.85 L313.80,458.73 L314.20,458.62 L314.60,458.49 L315.00,458.37 L315.40,458.24 L315.80,458.12 L316.20,458.00 L316.60,457.87 L317.00,457.75 L317.40,457.63 L317.80,457.52 L318.20,457.41 L318.60,457.30 L319.00,457.20 L319.40,457.10 L319.80,457.02 L320.20,456.93 L320.60,456.86 L321.00,456.79 L321.40,456.73 L321.80,456.69 L322.20,456.65 L322.60,456.62 L323.00,456.60 L323.40,456.59 L323.80,456.60 L324.20,456.62 L324.60,456.65 L325.00,456.69 L325.40,456.74 L325.80,456.81 L326.20,456.89 L326.60,456.97 L327.00,457.07 L327.40,457.17 L327.80,457.29 L328.20,457.41 L328.60,457.54 L329.00,457.68 L329.40,457.83 L329.80,457.99 L330.20,458.15 L330.60,458.33 L331.00,458.51 L331.40,458.69 L331.80,458.89 L332.20,459.09 L332.60,459.30 L333.00,459.52 L333.40,459.74 L333.80,459.97 L334.20,460.21 L334.60,460.45 L335.00,460.70 L335.40,460.96 L335.80,461.22 L336.20,461.48 L336.60,461.75 L337.00,462.02 L337.40,462.29 L337.80,462.56 L338.20,462.83 L338.60,463.10 L339.00,463.37 L339.40,463.63 L339.80,463.89 L340.20,464.15 L340.60,464.40 L341.00,464.65 L341.40,464.90 L341.80,465.14 L342.20,465.38 L342.60,465.62 L343.00,465.85 L343.40,466.08 L343.80,466.30 L344.20,466.52 L344.60,466.74 L345.00,466.95 L345.40,467.15 L345.80,467.35 L346.20,467.55 L346.60,467.74 L347.00,467.92 L347.40,468.10 L347.80,468.27 L348.20,468.44 L348.60,468.60 L349.00,468.76 L349.40,468.91 L349.80,469.06 L350.20,469.20 L350.60,469.33 L351.00,469.46 L351.40,469.59 L351.80,469.71 L352.20,469.82 L352.60,469.93 L353.00,470.04 L353.40,470.14 L353.80,470.23 L354.20,470.33 L354.60,470.42 L355.00,470.50 L355.40,470.58 L355.80,470.66 L356.20,470.73 L356.60,470.81 L357.00,470.87 L357.40,470.94 L357.80,471.00 L358.20,471.06 L358.60,471.12 L359.00,471.17 L359.40,471.22 L359.80,471.27 L360.20,471.32 L360.60,471.36 L361.00,471.40 L361.40,471.44 L361.80,471.48 L362.20,471.52 L362.60,471.55 L363.00,471.58 L363.40,471.62 L363.80,471.65 L364.20,471.67 L364.60,471.70 L365.00,471.72 L365.40,471.75 L365.80,471.77 L366.20,471.79 L366.60,471.81 L367.00,471.83 L367.40,471.85 L367.80,471.86 L368.20,471.88 L368.60,471.90 L369.00,471.91 L369.40,471.92 L369.80,471.94 L370.20,471.95 L370.60,471.96 L371.00,471.97 L371.40,471.98 L371.80,471.99 L372.20,472.01 L372.60,472.02 L373.00,472.03 L373.40,472.04 L373.80,472.05 L374.20,472.05 L374.60,472.06 L375.00,472.07 L375.40,472.08 L375.80,472.09 L376.20,472.10 L376.60,472.11 L377.00,472.12 L377.40,472.12 L377.80,472.13 L378.20,472.14 L378.60,472.15 L379.00,472.15 L379.40,472.16 L379.80,472.17 L380.20,472.17 L380.60,472.18 L381.00,472.19 L381.40,472.19 L381.80,472.20 L382.20,472.21 L382.60,472.21 L383.00,472.22 L383.40,472.22 L383.80,472.23 L384.20,472.23 L384.60,472.24 L385.00,472.24 L385.40,472.25 L385.80,472.25 L386.20,472.26 L386.60,472.26 L387.00,472.27 L387.40,472.27 L387.80,472.28 L388.20,472.28 L388.60,472.29 L389.00,472.29 L389.40,472.29 L389.80,472.30 L390.20,472.30 L390.60,472.31 L391.00,472.31 L391.40,472.31 L391.80,472.32 L392.20,472.32 L392.60,472.32 L393.00,472.33 L393.40,472.33 L393.80,472.34 L394.20,472.34 L394.60,472.34 L395.00,472.35 L395.40,472.35 L395.80,472.35 L396.20,472.35 L396.60,472.36 L397.00,472.36 L397.40,472.36 L397.80,472.37 L398.20,472.37 L398.60,472.37 L399.00,472.37 L399.40,472.38 L399.80,472.38 L400.20,472.38 L400.60,472.38 L401.00,472.39 L401.40,472.39 L401.80,472.39 L402.20,472.39 L402.60,472.40 L403.00,472.40 L403.40,472.40 L403.80,472.40 L404.20,472.40 L404.60,472.41 L405.00,472.41 L405.40,472.41 L405.80,472.41 L406.20,472.41 L406.60,472.42 L407.00,472.42 L407.40,472.42 L407.80,472.42 L408.20,472.42 L408.60,472.42 L409.00,472.43 L409.40,472.43 L409.80,472.43 L410.20,472.43 L410.60,472.43 L411.00,472.43 L411.40,472.43 L411.80,472.43 L412.20,472.44 L412.60,472.44 L413.00,472.44 L413.40,472.44 L413.80,472.44 L414.20,472.44 L414.60,472.44 L415.00,472.44 L415.40,472.44 L415.80,472.44 L416.20,472.44 L416.60,472.44 L417.00,472.44 L417.40,472.45 L417.80,472.45 L418.20,472.45 L418.60,472.45 L419.00,472.45 L419.40,472.45 L419.80,472.45 L420.20,472.45 L420.60,472.45 L421.00,472.45 L421.40,472.45 L421.80,472.45 L422.20,472.45 L422.60,472.45 L423.00,472.45 L423.40,472.45 L423.80,472.45 L424.20,472.45 L424.60,472.45 L425.00,472.45 L425.40,472.45 L425.80,472.45 L426.20,472.45 L426.60,472.45 L427.00,472.45 L427.40,472.45 L427.80,472.45 L428.20,472.45 L428.60,472.45 L429.00,472.45 L429.40,472.45 L429.80,472.45 L430.20,472.45 L430.60,472.45 L431.00,472.45 L431.40,472.45 L431.80,472.45 L432.20,472.44 L432.60,472.44 L433.00,472.44 L433.40,472.44 L433.80,472.44 L434.20,472.44 L434.60,472.44 L435.00,472.44 L435.40,472.44 L435.80,472.44 L436.20,472.44 L436.60,472.44 L437.00,472.44 L437.40,472.44 L437.80,472.44 L438.20,472.44 L438.60,472.43 L439.00,472.43 L439.40,472.43 L439.80,472.43 L440.20,472.43 L440.60,472.43 L441.00,472.43 L441.40,472.43 L441.80,472.43 L442.20,472.43 L442.60,472.43 L443.00,472.42 L443.40,472.42 L443.80,472.42 L444.20,472.42 L444.60,472.42 L445.00,472.42 L445.40,472.42 L445.80,472.42 L446.20,472.42 L446.60,472.42 L447.00,472.42 L447.40,472.41 L447.80,472.41 L448.20,472.41 L448.60,472.41 L449.00,472.41 L449.40,472.41 L449.80,472.41 L450.20,472.41 L450.60,472.41 L451.00,472.40 L451.40,472.40 L451.80,472.40 L452.20,472.40 L452.60,472.40 L452.80,472.40" fill="none" stroke="#111" stroke-width="1.65" stroke-linejoin="round"/></g>
<g clip-path="url(#cl12)">
<line x1="490.50" y1="514.50" x2="490.50" y2="520.00" stroke="#ee1010" stroke-width="1.1"/>
<line x1="494.50" y1="480.80" x2="494.50" y2="533.30" stroke="#ee1010" stroke-width="1.1"/>
<line x1="494.50" y1="482.00" x2="494.50" y2="520.00" stroke="#ee1010" stroke-width="1.1"/>
<line x1="494.50" y1="473.00" x2="494.50" y2="522.00" stroke="#ee1010" stroke-width="1.1"/>
<line x1="495.50" y1="473.00" x2="495.50" y2="609.00" stroke="#e47070" stroke-width="1.1"/>
<line x1="496.50" y1="480.00" x2="496.50" y2="560.00" stroke="#ee1010" stroke-width="1.1"/>
<line x1="496.50" y1="473.00" x2="496.50" y2="609.00" stroke="#ee1010" stroke-width="1.1"/>
<line x1="497.50" y1="473.00" x2="497.50" y2="600.00" stroke="#e47070" stroke-width="1.1"/>
<line x1="498.50" y1="473.00" x2="498.50" y2="606.00" stroke="#ee1010" stroke-width="1.1"/>
<line x1="498.50" y1="473.00" x2="498.50" y2="563.00" stroke="#ee1010" stroke-width="1.1"/>
<line x1="498.50" y1="483.00" x2="498.50" y2="609.00" stroke="#e47070" stroke-width="1.1"/>
<line x1="499.50" y1="490.00" x2="499.50" y2="540.00" stroke="#ee1010" stroke-width="1.1"/>
<line x1="500.50" y1="473.00" x2="500.50" y2="520.00" stroke="#ee1010" stroke-width="1.1"/>
<line x1="494.50" y1="476.00" x2="494.50" y2="540.00" stroke="#ee1010" stroke-width="1.1"/>
<line x1="495.50" y1="473.00" x2="495.50" y2="563.00" stroke="#ee1010" stroke-width="1.1"/>
<line x1="496.50" y1="473.00" x2="496.50" y2="563.00" stroke="#ee1010" stroke-width="1.1"/>
<line x1="497.50" y1="473.00" x2="497.50" y2="563.00" stroke="#ee1010" stroke-width="1.1"/>
<line x1="498.50" y1="473.00" x2="498.50" y2="560.00" stroke="#ee1010" stroke-width="1.1"/>
<line x1="499.50" y1="480.00" x2="499.50" y2="530.00" stroke="#ee1010" stroke-width="1.1"/>
<line x1="495.50" y1="563.00" x2="495.50" y2="609.00" stroke="#e47070" stroke-width="1.1"/>
<line x1="497.50" y1="563.00" x2="497.50" y2="609.00" stroke="#e47070" stroke-width="1.1"/>
<line x1="524.50" y1="514.70" x2="524.50" y2="523.40" stroke="#ee1010" stroke-width="1.1"/>
<path d="M483.60,514.80 L484.00,513.61 L484.40,512.34 L484.80,510.94 L485.20,509.53 L485.60,508.30 L486.00,507.27 L486.40,506.36 L486.80,505.51 L487.20,504.66 L487.60,503.80 L488.00,502.96 L488.40,502.17 L488.80,501.46 L489.20,500.84 L489.60,500.32 L490.00,499.90 L490.40,499.59 L490.80,499.38 L491.20,499.30 L491.60,499.39 L492.00,499.82 L492.40,500.75 L492.80,502.12 L493.20,503.71 L493.60,505.49 L494.00,507.50 L494.40,509.73 L494.80,512.00 L495.20,514.10 L495.60,515.90 L496.00,517.48 L496.40,518.90 L496.80,520.30 L497.20,521.86 L497.60,523.73 L498.00,525.84 L498.40,528.00 L498.80,530.06 L499.20,531.97 L499.60,533.72 L500.00,535.32 L500.40,536.75 L500.80,538.00 L501.20,539.07 L501.60,539.91 L502.00,540.50 L502.40,540.79 L502.80,540.83 L503.20,540.68 L503.60,540.43 L504.00,540.11 L504.40,539.67 L504.80,539.07 L505.20,538.27 L505.60,537.27 L506.00,536.15 L506.40,534.98 L506.80,533.83 L507.20,532.74 L507.60,531.70 L508.00,530.71 L508.40,529.77 L508.80,528.87 L509.20,528.02 L509.60,527.21 L510.00,526.44 L510.40,525.70 L510.80,525.00 L511.20,524.33 L511.60,523.70 L512.00,523.11 L512.40,522.56 L512.80,522.05 L513.20,521.59 L513.60,521.17 L514.00,520.78 L514.40,520.42 L514.80,520.10 L515.20,519.80 L515.60,519.53 L516.00,519.29 L516.40,519.07 L516.80,518.88 L517.20,518.72 L517.60,518.59 L518.00,518.49 L518.40,518.40 L518.80,518.34 L519.20,518.29 L519.60,518.26 L520.00,518.23 L520.40,518.22 L520.80,518.20 L521.20,518.20 L521.60,518.19 L522.00,518.18 L522.40,518.17 L522.80,518.16 L523.20,518.16 L523.60,518.15 L524.00,518.15 L524.40,518.14 L524.80,518.14 L525.20,518.13 L525.60,518.13 L526.00,518.13 L526.40,518.12 L526.80,518.12 L527.20,518.12 L527.60,518.11 L528.00,518.11 L528.40,518.11 L528.80,518.11 L529.20,518.10 L529.60,518.10 L530.00,518.10 L530.40,518.10 L530.80,518.10 L531.20,518.09 L531.60,518.09 L532.00,518.09 L532.40,518.09 L532.80,518.09 L533.20,518.08 L533.60,518.08 L534.00,518.08 L534.40,518.08 L534.80,518.08 L535.20,518.08 L535.60,518.07 L536.00,518.07 L536.40,518.07 L536.80,518.07 L537.20,518.07 L537.60,518.06 L538.00,518.06 L538.40,518.06 L538.80,518.06 L539.20,518.06 L539.60,518.06 L540.00,518.05 L540.40,518.05 L540.80,518.05 L541.20,518.05 L541.60,518.05 L542.00,518.05 L542.40,518.05 L542.80,518.04 L543.20,518.04 L543.60,518.04 L544.00,518.04 L544.40,518.04 L544.80,518.04 L545.20,518.04 L545.60,518.03 L546.00,518.03 L546.40,518.03 L546.80,518.03 L547.20,518.03 L547.60,518.03 L548.00,518.03 L548.40,518.02 L548.80,518.02 L549.20,518.02 L549.60,518.02 L550.00,518.02 L550.40,518.02 L550.80,518.02 L551.20,518.02 L551.60,518.01 L552.00,518.01 L552.40,518.01 L552.80,518.01 L553.20,518.01 L553.60,518.01 L554.00,518.01 L554.40,518.01 L554.80,518.01 L555.20,518.00 L555.60,518.00 L556.00,518.00 L556.40,518.00 L556.80,518.00 L557.20,518.00 L557.60,518.00 L558.00,518.00 L558.40,518.00 L558.80,518.00 L559.20,517.99 L559.60,517.99 L560.00,517.99 L560.40,517.99 L560.80,517.99 L561.20,517.99 L561.60,517.99 L562.00,517.99 L562.40,517.99 L562.80,517.99 L563.20,517.99 L563.60,517.99 L564.00,517.98 L564.40,517.98 L564.80,517.98 L565.20,517.98 L565.60,517.98 L566.00,517.98 L566.40,517.98 L566.80,517.98 L567.20,517.98 L567.60,517.98 L568.00,517.98 L568.40,517.98 L568.80,517.98 L569.20,517.98 L569.60,517.98 L570.00,517.97 L570.40,517.97 L570.80,517.97 L571.20,517.97 L571.60,517.97 L572.00,517.97 L572.40,517.97 L572.80,517.97 L573.20,517.97 L573.60,517.97 L574.00,517.97 L574.40,517.97 L574.80,517.97 L575.20,517.97 L575.60,517.97 L576.00,517.97 L576.40,517.97 L576.80,517.97 L577.20,517.97 L577.60,517.97 L578.00,517.97 L578.40,517.97 L578.80,517.96 L579.20,517.96 L579.60,517.96 L580.00,517.96 L580.40,517.96 L580.80,517.96 L581.20,517.96 L581.60,517.96 L582.00,517.96 L582.40,517.96 L582.80,517.96 L583.20,517.96 L583.60,517.96 L584.00,517.96 L584.40,517.96 L584.80,517.96 L585.20,517.96 L585.60,517.96 L586.00,517.96 L586.40,517.96 L586.80,517.96 L587.20,517.96 L587.60,517.96 L588.00,517.96 L588.40,517.96 L588.80,517.96 L589.20,517.96 L589.60,517.96 L590.00,517.96 L590.40,517.96 L590.80,517.96 L591.20,517.96 L591.60,517.96 L592.00,517.96 L592.40,517.96 L592.80,517.96 L593.20,517.96 L593.60,517.96 L594.00,517.96 L594.40,517.96 L594.80,517.96 L595.20,517.96 L595.60,517.96 L596.00,517.96 L596.40,517.96 L596.80,517.96 L597.20,517.96 L597.60,517.96 L598.00,517.96 L598.40,517.96 L598.80,517.96 L599.20,517.96 L599.60,517.96 L600.00,517.96 L600.40,517.96 L600.80,517.96 L601.20,517.96 L601.60,517.96 L602.00,517.96 L602.40,517.96 L602.80,517.96 L603.20,517.96 L603.60,517.96 L604.00,517.96 L604.40,517.97 L604.80,517.97 L605.20,517.97 L605.60,517.97 L606.00,517.97 L606.40,517.97 L606.80,517.97 L607.20,517.97 L607.60,517.97 L608.00,517.97 L608.40,517.97 L608.80,517.97 L609.20,517.97 L609.60,517.97 L610.00,517.97 L610.40,517.97 L610.80,517.97 L611.20,517.97 L611.60,517.97 L612.00,517.97 L612.40,517.97 L612.80,517.97 L613.20,517.97 L613.60,517.97 L614.00,517.97 L614.40,517.97 L614.80,517.98 L615.20,517.98 L615.60,517.98 L616.00,517.98 L616.40,517.98 L616.80,517.98 L617.20,517.98 L617.60,517.98 L618.00,517.98 L618.40,517.98 L618.80,517.98 L619.20,517.98 L619.60,517.98 L620.00,517.98 L620.40,517.98 L620.80,517.98 L621.20,517.98 L621.60,517.98 L622.00,517.99 L622.40,517.99 L622.80,517.99 L623.20,517.99 L623.60,517.99 L624.00,517.99 L624.40,517.99 L624.80,517.99 L625.20,517.99 L625.60,517.99 L626.00,517.99 L626.40,517.99 L626.80,517.99 L627.20,517.99 L627.60,517.99 L628.00,517.99 L628.40,518.00 L628.80,518.00 L629.20,518.00 L629.60,518.00 L630.00,518.00 L630.40,518.00 L630.80,518.00 L631.20,518.00 L631.60,518.00 L632.00,518.00 L632.40,518.00 L632.80,518.00 L633.20,518.00 L633.60,518.01 L634.00,518.01 L634.40,518.01 L634.80,518.01 L635.20,518.01 L635.60,518.01 L636.00,518.01 L636.40,518.01 L636.80,518.01 L637.20,518.01 L637.60,518.01 L638.00,518.01 L638.40,518.01 L638.80,518.02 L639.20,518.02 L639.60,518.02 L640.00,518.02 L640.40,518.02 L640.80,518.02 L641.20,518.02 L641.60,518.02 L642.00,518.02 L642.40,518.02 L642.80,518.02 L643.20,518.02 L643.60,518.03 L644.00,518.03 L644.40,518.03 L644.80,518.03 L645.20,518.03 L645.60,518.03 L646.00,518.03 L646.40,518.03 L646.80,518.03 L647.20,518.03 L647.60,518.03 L648.00,518.04 L648.40,518.04 L648.80,518.04 L649.20,518.04 L649.60,518.04 L650.00,518.04 L650.40,518.04 L650.80,518.04 L651.20,518.04 L651.60,518.04 L652.00,518.04 L652.40,518.05 L652.80,518.05 L653.20,518.05 L653.60,518.05 L654.00,518.05 L654.40,518.05 L654.80,518.05 L655.20,518.05 L655.60,518.05 L656.00,518.05 L656.40,518.05 L656.80,518.06 L657.20,518.06 L657.60,518.06 L658.00,518.06 L658.40,518.06 L658.80,518.06 L659.20,518.06 L659.60,518.06 L660.00,518.06 L660.40,518.06 L660.80,518.07 L661.20,518.07 L661.60,518.07 L662.00,518.07 L662.40,518.07 L662.80,518.07 L663.20,518.07 L663.60,518.07 L664.00,518.07 L664.40,518.07 L664.80,518.08 L665.20,518.08 L665.60,518.08 L666.00,518.08 L666.40,518.08 L666.80,518.08 L667.20,518.08 L667.60,518.08 L668.00,518.08 L668.40,518.08 L668.80,518.09 L669.20,518.09 L669.60,518.09 L670.00,518.09 L670.40,518.09 L670.80,518.09 L671.20,518.09 L671.60,518.09 L672.00,518.09 L672.40,518.09 L672.80,518.10 L673.20,518.10 L673.60,518.10 L674.00,518.10 L674.40,518.10 L674.60,518.10" fill="none" stroke="#e8141a" stroke-width="1.8" stroke-linejoin="round"/>
</g>
<g clip-path="url(#cu12)"><path d="M483.60,451.50 L484.00,446.59 L484.40,441.86 L484.80,437.30 L485.20,432.84 L485.60,428.42 L486.00,423.99 L486.40,419.49 L486.80,414.87 L487.20,410.12 L487.60,405.25 L488.00,400.30 L488.40,395.30 L488.80,390.27 L489.20,385.24 L489.60,380.25 L490.00,375.31 L490.40,370.47 L490.80,365.76 L491.20,361.19 L491.60,356.76 L492.00,352.41 L492.40,348.12 L492.80,343.83 L493.20,339.52 L493.60,335.21 L494.00,331.14 L494.40,327.55 L494.80,324.65 L495.20,322.54 L495.60,321.11 L496.00,320.30 L496.40,320.00 L496.80,320.15 L497.20,320.73 L497.60,321.81 L498.00,323.42 L498.40,325.60 L498.80,328.37 L499.20,331.62 L499.60,335.25 L500.00,339.15 L500.40,343.29 L500.80,347.62 L501.20,352.12 L501.60,356.75 L502.00,361.49 L502.40,366.30 L502.80,371.14 L503.20,375.96 L503.60,380.71 L504.00,385.36 L504.40,389.86 L504.80,394.24 L505.20,398.55 L505.60,402.84 L506.00,407.17 L506.40,411.49 L506.80,415.69 L507.20,419.65 L507.60,423.25 L508.00,426.46 L508.40,429.40 L508.80,432.16 L509.20,434.83 L509.60,437.44 L510.00,439.95 L510.40,442.30 L510.80,444.45 L511.20,446.39 L511.60,448.18 L512.00,449.84 L512.40,451.44 L512.80,453.00 L513.20,454.56 L513.60,456.11 L514.00,457.61 L514.40,459.02 L514.80,460.31 L515.20,461.45 L515.60,462.44 L516.00,463.29 L516.40,464.03 L516.80,464.66 L517.20,465.23 L517.60,465.73 L518.00,466.20 L518.40,466.65 L518.80,467.08 L519.20,467.49 L519.60,467.87 L520.00,468.23 L520.40,468.55 L520.80,468.84 L521.20,469.09 L521.60,469.30 L522.00,469.47 L522.40,469.60 L522.80,469.70 L523.20,469.77 L523.60,469.81 L524.00,469.84 L524.40,469.86 L524.80,469.87 L525.20,469.88 L525.60,469.89 L526.00,469.91 L526.40,469.94 L526.80,469.98 L527.20,470.03 L527.60,470.09 L528.00,470.15 L528.40,470.22 L528.80,470.29 L529.20,470.37 L529.60,470.45 L530.00,470.53 L530.40,470.61 L530.80,470.68 L531.20,470.76 L531.60,470.83 L532.00,470.90 L532.40,470.96 L532.80,471.02 L533.20,471.07 L533.60,471.12 L534.00,471.16 L534.40,471.20 L534.80,471.24 L535.20,471.27 L535.60,471.31 L536.00,471.33 L536.40,471.36 L536.80,471.39 L537.20,471.41 L537.60,471.43 L538.00,471.45 L538.40,471.47 L538.80,471.49 L539.20,471.52 L539.60,471.54 L540.00,471.56 L540.40,471.58 L540.80,471.61 L541.20,471.63 L541.60,471.65 L542.00,471.67 L542.40,471.70 L542.80,471.72 L543.20,471.74 L543.60,471.77 L544.00,471.79 L544.40,471.81 L544.80,471.83 L545.20,471.86 L545.60,471.88 L546.00,471.90 L546.40,471.92 L546.80,471.94 L547.20,471.96 L547.60,471.98 L548.00,472.00 L548.40,472.02 L548.80,472.04 L549.20,472.05 L549.60,472.07 L550.00,472.08 L550.40,472.10 L550.80,472.11 L551.20,472.13 L551.60,472.14 L552.00,472.15 L552.40,472.17 L552.80,472.18 L553.20,472.19 L553.60,472.20 L554.00,472.21 L554.40,472.22 L554.80,472.23 L555.20,472.24 L555.60,472.25 L556.00,472.25 L556.40,472.26 L556.80,472.27 L557.20,472.28 L557.60,472.28 L558.00,472.29 L558.40,472.30 L558.80,472.30 L559.20,472.31 L559.60,472.31 L560.00,472.32 L560.40,472.32 L560.80,472.33 L561.20,472.33 L561.60,472.34 L562.00,472.34 L562.40,472.35 L562.80,472.35 L563.20,472.35 L563.60,472.36 L564.00,472.36 L564.40,472.36 L564.80,472.37 L565.20,472.37 L565.60,472.37 L566.00,472.37 L566.40,472.38 L566.80,472.38 L567.20,472.38 L567.60,472.38 L568.00,472.38 L568.40,472.39 L568.80,472.39 L569.20,472.39 L569.60,472.39 L570.00,472.39 L570.40,472.39 L570.80,472.39 L571.20,472.39 L571.60,472.39 L572.00,472.40 L572.40,472.40 L572.80,472.40 L573.20,472.40 L573.60,472.40 L574.00,472.40 L574.40,472.40 L574.80,472.40 L575.20,472.40 L575.60,472.40 L576.00,472.40 L576.40,472.40 L576.80,472.40 L577.20,472.40 L577.60,472.40 L578.00,472.40 L578.40,472.40 L578.80,472.41 L579.20,472.41 L579.60,472.41 L580.00,472.41 L580.40,472.41 L580.80,472.41 L581.20,472.41 L581.60,472.41 L582.00,472.41 L582.40,472.41 L582.80,472.41 L583.20,472.41 L583.60,472.41 L584.00,472.41 L584.40,472.41 L584.80,472.41 L585.20,472.41 L585.60,472.41 L586.00,472.41 L586.40,472.41 L586.80,472.41 L587.20,472.41 L587.60,472.41 L588.00,472.42 L588.40,472.42 L588.80,472.42 L589.20,472.42 L589.60,472.42 L590.00,472.42 L590.40,472.42 L590.80,472.42 L591.20,472.42 L591.60,472.42 L592.00,472.42 L592.40,472.42 L592.80,472.42 L593.20,472.42 L593.60,472.42 L594.00,472.42 L594.40,472.42 L594.80,472.42 L595.20,472.42 L595.60,472.42 L596.00,472.42 L596.40,472.42 L596.80,472.42 L597.20,472.42 L597.60,472.42 L598.00,472.42 L598.40,472.42 L598.80,472.42 L599.20,472.42 L599.60,472.42 L600.00,472.42 L600.40,472.42 L600.80,472.42 L601.20,472.42 L601.60,472.42 L602.00,472.42 L602.40,472.42 L602.80,472.42 L603.20,472.42 L603.60,472.42 L604.00,472.42 L604.40,472.43 L604.80,472.43 L605.20,472.43 L605.60,472.43 L606.00,472.43 L606.40,472.43 L606.80,472.43 L607.20,472.43 L607.60,472.43 L608.00,472.43 L608.40,472.43 L608.80,472.43 L609.20,472.43 L609.60,472.43 L610.00,472.43 L610.40,472.43 L610.80,472.43 L611.20,472.43 L611.60,472.43 L612.00,472.43 L612.40,472.43 L612.80,472.43 L613.20,472.43 L613.60,472.43 L614.00,472.43 L614.40,472.43 L614.80,472.43 L615.20,472.43 L615.60,472.43 L616.00,472.43 L616.40,472.43 L616.80,472.43 L617.20,472.43 L617.60,472.43 L618.00,472.43 L618.40,472.43 L618.80,472.43 L619.20,472.43 L619.60,472.43 L620.00,472.43 L620.40,472.43 L620.80,472.43 L621.20,472.43 L621.60,472.43 L622.00,472.43 L622.40,472.43 L622.80,472.43 L623.20,472.43 L623.60,472.43 L624.00,472.43 L624.40,472.43 L624.80,472.43 L625.20,472.43 L625.60,472.43 L626.00,472.43 L626.40,472.43 L626.80,472.43 L627.20,472.43 L627.60,472.43 L628.00,472.43 L628.40,472.43 L628.80,472.43 L629.20,472.43 L629.60,472.43 L630.00,472.43 L630.40,472.43 L630.80,472.43 L631.20,472.42 L631.60,472.42 L632.00,472.42 L632.40,472.42 L632.80,472.42 L633.20,472.42 L633.60,472.42 L634.00,472.42 L634.40,472.42 L634.80,472.42 L635.20,472.42 L635.60,472.42 L636.00,472.42 L636.40,472.42 L636.80,472.42 L637.20,472.42 L637.60,472.42 L638.00,472.42 L638.40,472.42 L638.80,472.42 L639.20,472.42 L639.60,472.42 L640.00,472.42 L640.40,472.42 L640.80,472.42 L641.20,472.42 L641.60,472.42 L642.00,472.42 L642.40,472.42 L642.80,472.42 L643.20,472.42 L643.60,472.42 L644.00,472.42 L644.40,472.42 L644.80,472.42 L645.20,472.42 L645.60,472.42 L646.00,472.42 L646.40,472.42 L646.80,472.42 L647.20,472.42 L647.60,472.42 L648.00,472.42 L648.40,472.42 L648.80,472.42 L649.20,472.42 L649.60,472.42 L650.00,472.42 L650.40,472.42 L650.80,472.42 L651.20,472.42 L651.60,472.42 L652.00,472.42 L652.40,472.41 L652.80,472.41 L653.20,472.41 L653.60,472.41 L654.00,472.41 L654.40,472.41 L654.80,472.41 L655.20,472.41 L655.60,472.41 L656.00,472.41 L656.40,472.41 L656.80,472.41 L657.20,472.41 L657.60,472.41 L658.00,472.41 L658.40,472.41 L658.80,472.41 L659.20,472.41 L659.60,472.41 L660.00,472.41 L660.40,472.41 L660.80,472.41 L661.20,472.41 L661.60,472.41 L662.00,472.41 L662.40,472.41 L662.80,472.41 L663.20,472.41 L663.60,472.41 L664.00,472.41 L664.40,472.41 L664.80,472.41 L665.20,472.41 L665.60,472.41 L666.00,472.41 L666.40,472.41 L666.80,472.41 L667.20,472.41 L667.60,472.40 L668.00,472.40 L668.40,472.40 L668.80,472.40 L669.20,472.40 L669.60,472.40 L670.00,472.40 L670.40,472.40 L670.80,472.40 L671.20,472.40 L671.60,472.40 L672.00,472.40 L672.40,472.40 L672.80,472.40 L673.20,472.40 L673.60,472.40 L674.00,472.40 L674.40,472.40 L674.60,472.40" fill="none" stroke="#111" stroke-width="1.65" stroke-linejoin="round"/></g>
<line x1="160.20" y1="33.23" x2="167.02" y2="37.16" stroke="#3c3c3c" stroke-width="0.75"/>
<line x1="167.02" y1="37.16" x2="167.02" y2="45.04" stroke="#3c3c3c" stroke-width="0.75"/>
<line x1="165.45" y1="38.68" x2="165.45" y2="43.52" stroke="#3c3c3c" stroke-width="0.75"/>
<line x1="167.02" y1="45.04" x2="160.20" y2="48.97" stroke="#3c3c3c" stroke-width="0.75"/>
<line x1="160.20" y1="48.97" x2="153.38" y2="45.04" stroke="#3c3c3c" stroke-width="0.75"/>
<line x1="159.68" y1="46.86" x2="155.48" y2="44.43" stroke="#3c3c3c" stroke-width="0.75"/>
<line x1="153.38" y1="45.04" x2="153.38" y2="37.16" stroke="#3c3c3c" stroke-width="0.75"/>
<line x1="153.38" y1="37.16" x2="160.20" y2="33.23" stroke="#3c3c3c" stroke-width="0.75"/>
<line x1="155.48" y1="37.77" x2="159.68" y2="35.34" stroke="#3c3c3c" stroke-width="0.75"/>
<line x1="201.09" y1="56.84" x2="207.91" y2="60.78" stroke="#3c3c3c" stroke-width="0.75"/>
<line x1="207.91" y1="60.78" x2="207.91" y2="68.65" stroke="#3c3c3c" stroke-width="0.75"/>
<line x1="206.34" y1="62.29" x2="206.34" y2="67.13" stroke="#3c3c3c" stroke-width="0.75"/>
<line x1="207.91" y1="68.65" x2="201.09" y2="72.58" stroke="#3c3c3c" stroke-width="0.75"/>
<line x1="201.09" y1="72.58" x2="194.28" y2="68.65" stroke="#3c3c3c" stroke-width="0.75"/>
<line x1="200.57" y1="70.47" x2="196.37" y2="68.04" stroke="#3c3c3c" stroke-width="0.75"/>
<line x1="194.28" y1="68.65" x2="194.28" y2="60.78" stroke="#3c3c3c" stroke-width="0.75"/>
<line x1="194.28" y1="60.78" x2="201.09" y2="56.84" stroke="#3c3c3c" stroke-width="0.75"/>
<line x1="196.37" y1="61.38" x2="200.57" y2="58.95" stroke="#3c3c3c" stroke-width="0.75"/>
<line x1="160.20" y1="80.45" x2="167.02" y2="84.38" stroke="#3c3c3c" stroke-width="0.75"/>
<line x1="160.72" y1="82.56" x2="164.92" y2="84.99" stroke="#3c3c3c" stroke-width="0.75"/>
<line x1="167.02" y1="84.38" x2="167.02" y2="92.25" stroke="#3c3c3c" stroke-width="0.75"/>
<line x1="167.02" y1="92.25" x2="160.20" y2="96.19" stroke="#3c3c3c" stroke-width="0.75"/>
<line x1="164.92" y1="91.65" x2="160.72" y2="94.08" stroke="#3c3c3c" stroke-width="0.75"/>
<line x1="160.20" y1="96.19" x2="153.38" y2="92.25" stroke="#3c3c3c" stroke-width="0.75"/>
<line x1="153.38" y1="92.25" x2="153.38" y2="84.38" stroke="#3c3c3c" stroke-width="0.75"/>
<line x1="154.95" y1="90.74" x2="154.95" y2="85.90" stroke="#3c3c3c" stroke-width="0.75"/>
<line x1="153.38" y1="84.38" x2="160.20" y2="80.45" stroke="#3c3c3c" stroke-width="0.75"/>
<line x1="167.02" y1="37.16" x2="173.83" y2="33.23" stroke="#3c3c3c" stroke-width="0.75"/>
<line x1="173.83" y1="33.23" x2="178.74" y2="36.06" stroke="#3c3c3c" stroke-width="0.75"/>
<line x1="174.02" y1="34.61" x2="178.19" y2="37.02" stroke="#3c3c3c" stroke-width="0.75"/>
<line x1="182.55" y1="36.06" x2="187.46" y2="33.23" stroke="#3c3c3c" stroke-width="0.75" stroke-dasharray="0.6,0.7"/>
<line x1="187.46" y1="33.23" x2="194.28" y2="37.16" stroke="#3c3c3c" stroke-width="0.75"/>
<polygon points="194.28,37.16 193.38,42.83 195.18,42.83" fill="#333"/>
<line x1="196.18" y1="46.13" x2="201.09" y2="48.97" stroke="#3c3c3c" stroke-width="0.75"/>
<line x1="196.37" y1="47.51" x2="200.54" y2="49.92" stroke="#3c3c3c" stroke-width="0.75"/>
<line x1="201.09" y1="48.97" x2="201.09" y2="56.84" stroke="#3c3c3c" stroke-width="0.75"/>
<line x1="153.38" y1="45.04" x2="146.57" y2="48.97" stroke="#3c3c3c" stroke-width="0.75"/>
<line x1="146.57" y1="48.97" x2="146.57" y2="54.64" stroke="#3c3c3c" stroke-width="0.75"/>
<line x1="145.47" y1="49.82" x2="145.47" y2="54.64" stroke="#3c3c3c" stroke-width="0.75"/>
<polygon points="144.66,57.94 139.30,60.00 140.20,61.55" fill="#333"/>
<line x1="139.75" y1="60.78" x2="139.75" y2="68.65" stroke="#3c3c3c" stroke-width="0.75"/>
<line x1="139.75" y1="68.65" x2="144.66" y2="71.48" stroke="#3c3c3c" stroke-width="0.75" stroke-dasharray="0.6,0.7"/>
<line x1="146.57" y1="74.78" x2="146.57" y2="80.45" stroke="#3c3c3c" stroke-width="0.75"/>
<line x1="145.47" y1="75.63" x2="145.47" y2="80.45" stroke="#3c3c3c" stroke-width="0.75"/>
<line x1="146.57" y1="80.45" x2="153.38" y2="84.38" stroke="#3c3c3c" stroke-width="0.75"/>
<line x1="167.02" y1="92.25" x2="173.83" y2="96.19" stroke="#3c3c3c" stroke-width="0.75"/>
<line x1="173.83" y1="96.19" x2="178.74" y2="93.35" stroke="#3c3c3c" stroke-width="0.75"/>
<line x1="175.12" y1="96.72" x2="179.29" y2="94.31" stroke="#3c3c3c" stroke-width="0.75"/>
<polygon points="182.55,93.35 187.01,96.97 187.91,95.41" fill="#333"/>
<line x1="187.46" y1="96.19" x2="194.28" y2="92.25" stroke="#3c3c3c" stroke-width="0.75"/>
<line x1="194.28" y1="92.25" x2="194.28" y2="86.58" stroke="#3c3c3c" stroke-width="0.75" stroke-dasharray="0.6,0.7"/>
<line x1="196.18" y1="83.28" x2="201.09" y2="80.45" stroke="#3c3c3c" stroke-width="0.75"/>
<line x1="197.47" y1="83.81" x2="201.64" y2="81.40" stroke="#3c3c3c" stroke-width="0.75"/>
<line x1="201.09" y1="80.45" x2="201.09" y2="72.58" stroke="#3c3c3c" stroke-width="0.75"/>
<line x1="160.20" y1="33.23" x2="160.20" y2="27.33" stroke="#3c3c3c" stroke-width="0.75"/>
<line x1="160.20" y1="48.97" x2="160.20" y2="54.87" stroke="#3c3c3c" stroke-width="0.75"/>
<line x1="194.28" y1="60.78" x2="189.17" y2="57.82" stroke="#3c3c3c" stroke-width="0.75"/>
<line x1="207.91" y1="68.65" x2="213.02" y2="71.60" stroke="#3c3c3c" stroke-width="0.75"/>
<line x1="167.02" y1="84.38" x2="172.13" y2="81.43" stroke="#3c3c3c" stroke-width="0.75"/>
<line x1="153.38" y1="92.25" x2="148.27" y2="95.21" stroke="#3c3c3c" stroke-width="0.75"/>
<text x="180.65" y="39.16" text-anchor="middle" font-family="Liberation Sans, sans-serif" font-size="5.8" fill="#222" stroke="#222" stroke-width="0.15">N</text>
<text x="194.28" y="47.03" text-anchor="middle" font-family="Liberation Sans, sans-serif" font-size="5.8" fill="#222" stroke="#222" stroke-width="0.15">N</text>
<text x="146.57" y="58.84" text-anchor="middle" font-family="Liberation Sans, sans-serif" font-size="5.8" fill="#222" stroke="#222" stroke-width="0.15">N</text>
<text x="146.57" y="74.58" text-anchor="middle" font-family="Liberation Sans, sans-serif" font-size="5.8" fill="#222" stroke="#222" stroke-width="0.15">N</text>
<text x="180.65" y="94.25" text-anchor="middle" font-family="Liberation Sans, sans-serif" font-size="5.8" fill="#222" stroke="#222" stroke-width="0.15">N</text>
<text x="194.28" y="86.38" text-anchor="middle" font-family="Liberation Sans, sans-serif" font-size="5.8" fill="#222" stroke="#222" stroke-width="0.15">N</text>
<line x1="380.00" y1="32.58" x2="386.69" y2="36.44" stroke="#3c3c3c" stroke-width="0.75"/>
<line x1="386.69" y1="36.44" x2="386.69" y2="44.16" stroke="#3c3c3c" stroke-width="0.75"/>
<line x1="385.15" y1="37.92" x2="385.15" y2="42.68" stroke="#3c3c3c" stroke-width="0.75"/>
<line x1="386.69" y1="44.16" x2="380.00" y2="48.02" stroke="#3c3c3c" stroke-width="0.75"/>
<line x1="380.00" y1="48.02" x2="373.31" y2="44.16" stroke="#3c3c3c" stroke-width="0.75"/>
<line x1="379.49" y1="45.95" x2="375.37" y2="43.57" stroke="#3c3c3c" stroke-width="0.75"/>
<line x1="373.31" y1="44.16" x2="373.31" y2="36.44" stroke="#3c3c3c" stroke-width="0.75"/>
<line x1="373.31" y1="36.44" x2="380.00" y2="32.58" stroke="#3c3c3c" stroke-width="0.75"/>
<line x1="375.37" y1="37.03" x2="379.49" y2="34.65" stroke="#3c3c3c" stroke-width="0.75"/>
<line x1="420.11" y1="55.74" x2="426.80" y2="59.60" stroke="#3c3c3c" stroke-width="0.75"/>
<line x1="426.80" y1="59.60" x2="426.80" y2="67.32" stroke="#3c3c3c" stroke-width="0.75"/>
<line x1="425.26" y1="61.08" x2="425.26" y2="65.84" stroke="#3c3c3c" stroke-width="0.75"/>
<line x1="426.80" y1="67.32" x2="420.11" y2="71.18" stroke="#3c3c3c" stroke-width="0.75"/>
<line x1="420.11" y1="71.18" x2="413.43" y2="67.32" stroke="#3c3c3c" stroke-width="0.75"/>
<line x1="419.60" y1="69.11" x2="415.48" y2="66.73" stroke="#3c3c3c" stroke-width="0.75"/>
<line x1="413.43" y1="67.32" x2="413.43" y2="59.60" stroke="#3c3c3c" stroke-width="0.75"/>
<line x1="413.43" y1="59.60" x2="420.11" y2="55.74" stroke="#3c3c3c" stroke-width="0.75"/>
<line x1="415.48" y1="60.19" x2="419.60" y2="57.81" stroke="#3c3c3c" stroke-width="0.75"/>
<line x1="380.00" y1="78.90" x2="386.69" y2="82.76" stroke="#3c3c3c" stroke-width="0.75"/>
<line x1="380.51" y1="80.97" x2="384.63" y2="83.35" stroke="#3c3c3c" stroke-width="0.75"/>
<line x1="386.69" y1="82.76" x2="386.69" y2="90.48" stroke="#3c3c3c" stroke-width="0.75"/>
<line x1="386.69" y1="90.48" x2="380.00" y2="94.34" stroke="#3c3c3c" stroke-width="0.75"/>
<line x1="384.63" y1="89.89" x2="380.51" y2="92.27" stroke="#3c3c3c" stroke-width="0.75"/>
<line x1="380.00" y1="94.34" x2="373.31" y2="90.48" stroke="#3c3c3c" stroke-width="0.75"/>
<line x1="373.31" y1="90.48" x2="373.31" y2="82.76" stroke="#3c3c3c" stroke-width="0.75"/>
<line x1="374.85" y1="89.00" x2="374.85" y2="84.24" stroke="#3c3c3c" stroke-width="0.75"/>
<line x1="373.31" y1="82.76" x2="380.00" y2="78.90" stroke="#3c3c3c" stroke-width="0.75"/>
<line x1="386.69" y1="36.44" x2="393.37" y2="32.58" stroke="#3c3c3c" stroke-width="0.75"/>
<line x1="393.37" y1="32.58" x2="398.15" y2="35.34" stroke="#3c3c3c" stroke-width="0.75"/>
<line x1="393.54" y1="33.95" x2="397.60" y2="36.29" stroke="#3c3c3c" stroke-width="0.75"/>
<line x1="401.96" y1="35.34" x2="406.74" y2="32.58" stroke="#3c3c3c" stroke-width="0.75" stroke-dasharray="0.6,0.7"/>
<line x1="406.74" y1="32.58" x2="413.43" y2="36.44" stroke="#3c3c3c" stroke-width="0.75"/>
<polygon points="413.43,36.44 412.53,41.96 414.33,41.96" fill="#333"/>
<line x1="415.33" y1="45.26" x2="420.11" y2="48.02" stroke="#3c3c3c" stroke-width="0.75"/>
<line x1="415.50" y1="46.63" x2="419.56" y2="48.97" stroke="#3c3c3c" stroke-width="0.75"/>
<line x1="420.11" y1="48.02" x2="420.11" y2="55.74" stroke="#3c3c3c" stroke-width="0.75"/>
<line x1="373.31" y1="44.16" x2="366.63" y2="48.02" stroke="#3c3c3c" stroke-width="0.75"/>
<line x1="366.63" y1="48.02" x2="366.63" y2="53.54" stroke="#3c3c3c" stroke-width="0.75"/>
<line x1="365.53" y1="48.85" x2="365.53" y2="53.54" stroke="#3c3c3c" stroke-width="0.75"/>
<polygon points="364.72,56.84 359.49,58.82 360.39,60.38" fill="#333"/>
<line x1="359.94" y1="59.60" x2="359.94" y2="67.32" stroke="#3c3c3c" stroke-width="0.75"/>
<line x1="359.94" y1="67.32" x2="364.72" y2="70.08" stroke="#3c3c3c" stroke-width="0.75" stroke-dasharray="0.6,0.7"/>
<line x1="366.63" y1="73.38" x2="366.63" y2="78.90" stroke="#3c3c3c" stroke-width="0.75"/>
<line x1="365.53" y1="74.21" x2="365.53" y2="78.90" stroke="#3c3c3c" stroke-width="0.75"/>
<line x1="366.63" y1="78.90" x2="373.31" y2="82.76" stroke="#3c3c3c" stroke-width="0.75"/>
<line x1="386.69" y1="90.48" x2="393.37" y2="94.34" stroke="#3c3c3c" stroke-width="0.75"/>
<line x1="393.37" y1="94.34" x2="398.15" y2="91.58" stroke="#3c3c3c" stroke-width="0.75"/>
<line x1="394.64" y1="94.88" x2="398.70" y2="92.53" stroke="#3c3c3c" stroke-width="0.75"/>
<polygon points="401.96,91.58 406.29,95.12 407.19,93.56" fill="#333"/>
<line x1="406.74" y1="94.34" x2="413.43" y2="90.48" stroke="#3c3c3c" stroke-width="0.75"/>
<line x1="413.43" y1="90.48" x2="413.43" y2="84.96" stroke="#3c3c3c" stroke-width="0.75" stroke-dasharray="0.6,0.7"/>
<line x1="415.33" y1="81.66" x2="420.11" y2="78.90" stroke="#3c3c3c" stroke-width="0.75"/>
<line x1="416.60" y1="82.20" x2="420.66" y2="79.85" stroke="#3c3c3c" stroke-width="0.75"/>
<line x1="420.11" y1="78.90" x2="420.11" y2="71.18" stroke="#3c3c3c" stroke-width="0.75"/>
<line x1="380.00" y1="32.58" x2="380.00" y2="26.79" stroke="#3c3c3c" stroke-width="0.75"/>
<line x1="380.00" y1="48.02" x2="380.00" y2="53.81" stroke="#3c3c3c" stroke-width="0.75"/>
<line x1="413.43" y1="59.60" x2="408.41" y2="56.70" stroke="#3c3c3c" stroke-width="0.75"/>
<line x1="426.80" y1="67.32" x2="431.81" y2="70.21" stroke="#3c3c3c" stroke-width="0.75"/>
<line x1="386.69" y1="82.76" x2="391.70" y2="79.87" stroke="#3c3c3c" stroke-width="0.75"/>
<line x1="373.31" y1="90.48" x2="368.30" y2="93.38" stroke="#3c3c3c" stroke-width="0.75"/>
<text x="400.06" y="38.44" text-anchor="middle" font-family="Liberation Sans, sans-serif" font-size="5.8" fill="#222" stroke="#222" stroke-width="0.15">N</text>
<text x="413.43" y="46.16" text-anchor="middle" font-family="Liberation Sans, sans-serif" font-size="5.8" fill="#222" stroke="#222" stroke-width="0.15">N</text>
<text x="366.63" y="57.74" text-anchor="middle" font-family="Liberation Sans, sans-serif" font-size="5.8" fill="#222" stroke="#222" stroke-width="0.15">N</text>
<text x="366.63" y="73.18" text-anchor="middle" font-family="Liberation Sans, sans-serif" font-size="5.8" fill="#222" stroke="#222" stroke-width="0.15">N</text>
<text x="400.06" y="92.48" text-anchor="middle" font-family="Liberation Sans, sans-serif" font-size="5.8" fill="#222" stroke="#222" stroke-width="0.15">N</text>
<text x="413.43" y="84.76" text-anchor="middle" font-family="Liberation Sans, sans-serif" font-size="5.8" fill="#222" stroke="#222" stroke-width="0.15">N</text>
<line x1="604.60" y1="29.20" x2="611.27" y2="33.05" stroke="#3c3c3c" stroke-width="0.75"/>
<line x1="611.27" y1="33.05" x2="611.27" y2="40.75" stroke="#3c3c3c" stroke-width="0.75"/>
<line x1="609.73" y1="34.53" x2="609.73" y2="39.27" stroke="#3c3c3c" stroke-width="0.75"/>
<line x1="611.27" y1="40.75" x2="604.60" y2="44.60" stroke="#3c3c3c" stroke-width="0.75"/>
<line x1="604.60" y1="44.60" x2="597.93" y2="40.75" stroke="#3c3c3c" stroke-width="0.75"/>
<line x1="604.09" y1="42.53" x2="599.98" y2="40.16" stroke="#3c3c3c" stroke-width="0.75"/>
<line x1="597.93" y1="40.75" x2="597.93" y2="33.05" stroke="#3c3c3c" stroke-width="0.75"/>
<line x1="597.93" y1="33.05" x2="604.60" y2="29.20" stroke="#3c3c3c" stroke-width="0.75"/>
<line x1="599.98" y1="33.64" x2="604.09" y2="31.27" stroke="#3c3c3c" stroke-width="0.75"/>
<line x1="644.61" y1="52.30" x2="651.28" y2="56.15" stroke="#3c3c3c" stroke-width="0.75"/>
<line x1="651.28" y1="56.15" x2="651.28" y2="63.85" stroke="#3c3c3c" stroke-width="0.75"/>
<line x1="649.75" y1="57.63" x2="649.75" y2="62.37" stroke="#3c3c3c" stroke-width="0.75"/>
<line x1="651.28" y1="63.85" x2="644.61" y2="67.70" stroke="#3c3c3c" stroke-width="0.75"/>
<line x1="644.61" y1="67.70" x2="637.94" y2="63.85" stroke="#3c3c3c" stroke-width="0.75"/>
<line x1="644.10" y1="65.63" x2="639.99" y2="63.26" stroke="#3c3c3c" stroke-width="0.75"/>
<line x1="637.94" y1="63.85" x2="637.94" y2="56.15" stroke="#3c3c3c" stroke-width="0.75"/>
<line x1="637.94" y1="56.15" x2="644.61" y2="52.30" stroke="#3c3c3c" stroke-width="0.75"/>
<line x1="639.99" y1="56.74" x2="644.10" y2="54.37" stroke="#3c3c3c" stroke-width="0.75"/>
<line x1="604.60" y1="75.40" x2="611.27" y2="79.25" stroke="#3c3c3c" stroke-width="0.75"/>
<line x1="605.11" y1="77.47" x2="609.22" y2="79.84" stroke="#3c3c3c" stroke-width="0.75"/>
<line x1="611.27" y1="79.25" x2="611.27" y2="86.95" stroke="#3c3c3c" stroke-width="0.75"/>
<line x1="611.27" y1="86.95" x2="604.60" y2="90.80" stroke="#3c3c3c" stroke-width="0.75"/>
<line x1="609.22" y1="86.36" x2="605.11" y2="88.73" stroke="#3c3c3c" stroke-width="0.75"/>
<line x1="604.60" y1="90.80" x2="597.93" y2="86.95" stroke="#3c3c3c" stroke-width="0.75"/>
<line x1="597.93" y1="86.95" x2="597.93" y2="79.25" stroke="#3c3c3c" stroke-width="0.75"/>
<line x1="599.47" y1="85.47" x2="599.47" y2="80.73" stroke="#3c3c3c" stroke-width="0.75"/>
<line x1="597.93" y1="79.25" x2="604.60" y2="75.40" stroke="#3c3c3c" stroke-width="0.75"/>
<line x1="611.27" y1="33.05" x2="617.94" y2="29.20" stroke="#3c3c3c" stroke-width="0.75"/>
<line x1="617.94" y1="29.20" x2="622.70" y2="31.95" stroke="#3c3c3c" stroke-width="0.75"/>
<line x1="618.10" y1="30.57" x2="622.15" y2="32.90" stroke="#3c3c3c" stroke-width="0.75"/>
<line x1="626.51" y1="31.95" x2="631.27" y2="29.20" stroke="#3c3c3c" stroke-width="0.75" stroke-dasharray="0.6,0.7"/>
<line x1="631.27" y1="29.20" x2="637.94" y2="33.05" stroke="#3c3c3c" stroke-width="0.75"/>
<polygon points="637.94,33.05 637.04,38.55 638.84,38.55" fill="#333"/>
<line x1="639.85" y1="41.85" x2="644.61" y2="44.60" stroke="#3c3c3c" stroke-width="0.75"/>
<line x1="640.01" y1="43.22" x2="644.06" y2="45.55" stroke="#3c3c3c" stroke-width="0.75"/>
<line x1="644.61" y1="44.60" x2="644.61" y2="52.30" stroke="#3c3c3c" stroke-width="0.75"/>
<line x1="597.93" y1="40.75" x2="591.26" y2="44.60" stroke="#3c3c3c" stroke-width="0.75"/>
<line x1="591.26" y1="44.60" x2="591.26" y2="50.10" stroke="#3c3c3c" stroke-width="0.75"/>
<line x1="590.16" y1="45.43" x2="590.16" y2="50.10" stroke="#3c3c3c" stroke-width="0.75"/>
<polygon points="589.36,53.40 584.14,55.37 585.04,56.93" fill="#333"/>
<line x1="584.59" y1="56.15" x2="584.59" y2="63.85" stroke="#3c3c3c" stroke-width="0.75"/>
<line x1="584.59" y1="63.85" x2="589.36" y2="66.60" stroke="#3c3c3c" stroke-width="0.75" stroke-dasharray="0.6,0.7"/>
<line x1="591.26" y1="69.90" x2="591.26" y2="75.40" stroke="#3c3c3c" stroke-width="0.75"/>
<line x1="590.16" y1="70.73" x2="590.16" y2="75.40" stroke="#3c3c3c" stroke-width="0.75"/>
<line x1="591.26" y1="75.40" x2="597.93" y2="79.25" stroke="#3c3c3c" stroke-width="0.75"/>
<line x1="611.27" y1="86.95" x2="617.94" y2="90.80" stroke="#3c3c3c" stroke-width="0.75"/>
<line x1="617.94" y1="90.80" x2="622.70" y2="88.05" stroke="#3c3c3c" stroke-width="0.75"/>
<line x1="619.20" y1="91.34" x2="623.25" y2="89.00" stroke="#3c3c3c" stroke-width="0.75"/>
<polygon points="626.51,88.05 630.82,91.58 631.72,90.02" fill="#333"/>
<line x1="631.27" y1="90.80" x2="637.94" y2="86.95" stroke="#3c3c3c" stroke-width="0.75"/>
<line x1="637.94" y1="86.95" x2="637.94" y2="81.45" stroke="#3c3c3c" stroke-width="0.75" stroke-dasharray="0.6,0.7"/>
<line x1="639.85" y1="78.15" x2="644.61" y2="75.40" stroke="#3c3c3c" stroke-width="0.75"/>
<line x1="641.11" y1="78.69" x2="645.16" y2="76.35" stroke="#3c3c3c" stroke-width="0.75"/>
<line x1="644.61" y1="75.40" x2="644.61" y2="67.70" stroke="#3c3c3c" stroke-width="0.75"/>
<text x="624.61" y="35.05" text-anchor="middle" font-family="Liberation Sans, sans-serif" font-size="5.8" fill="#222" stroke="#222" stroke-width="0.15">N</text>
<text x="637.94" y="42.75" text-anchor="middle" font-family="Liberation Sans, sans-serif" font-size="5.8" fill="#222" stroke="#222" stroke-width="0.15">N</text>
<text x="591.26" y="54.30" text-anchor="middle" font-family="Liberation Sans, sans-serif" font-size="5.8" fill="#222" stroke="#222" stroke-width="0.15">N</text>
<text x="591.26" y="69.70" text-anchor="middle" font-family="Liberation Sans, sans-serif" font-size="5.8" fill="#222" stroke="#222" stroke-width="0.15">N</text>
<text x="624.61" y="88.95" text-anchor="middle" font-family="Liberation Sans, sans-serif" font-size="5.8" fill="#222" stroke="#222" stroke-width="0.15">N</text>
<text x="637.94" y="81.25" text-anchor="middle" font-family="Liberation Sans, sans-serif" font-size="5.8" fill="#222" stroke="#222" stroke-width="0.15">N</text>
<line x1="158.50" y1="369.30" x2="165.60" y2="373.40" stroke="#3c3c3c" stroke-width="0.75"/>
<line x1="165.60" y1="373.40" x2="165.60" y2="381.60" stroke="#3c3c3c" stroke-width="0.75"/>
<line x1="163.97" y1="374.97" x2="163.97" y2="380.03" stroke="#3c3c3c" stroke-width="0.75"/>
<line x1="165.60" y1="381.60" x2="158.50" y2="385.70" stroke="#3c3c3c" stroke-width="0.75"/>
<line x1="158.50" y1="385.70" x2="151.40" y2="381.60" stroke="#3c3c3c" stroke-width="0.75"/>
<line x1="157.95" y1="383.50" x2="153.58" y2="380.97" stroke="#3c3c3c" stroke-width="0.75"/>
<line x1="151.40" y1="381.60" x2="151.40" y2="373.40" stroke="#3c3c3c" stroke-width="0.75"/>
<line x1="151.40" y1="373.40" x2="158.50" y2="369.30" stroke="#3c3c3c" stroke-width="0.75"/>
<line x1="153.58" y1="374.03" x2="157.95" y2="371.50" stroke="#3c3c3c" stroke-width="0.75"/>
<line x1="201.11" y1="393.90" x2="208.21" y2="398.00" stroke="#3c3c3c" stroke-width="0.75"/>
<line x1="208.21" y1="398.00" x2="208.21" y2="406.20" stroke="#3c3c3c" stroke-width="0.75"/>
<line x1="206.58" y1="399.57" x2="206.58" y2="404.63" stroke="#3c3c3c" stroke-width="0.75"/>
<line x1="208.21" y1="406.20" x2="201.11" y2="410.30" stroke="#3c3c3c" stroke-width="0.75"/>
<line x1="201.11" y1="410.30" x2="194.01" y2="406.20" stroke="#3c3c3c" stroke-width="0.75"/>
<line x1="200.56" y1="408.10" x2="196.19" y2="405.57" stroke="#3c3c3c" stroke-width="0.75"/>
<line x1="194.01" y1="406.20" x2="194.01" y2="398.00" stroke="#3c3c3c" stroke-width="0.75"/>
<line x1="194.01" y1="398.00" x2="201.11" y2="393.90" stroke="#3c3c3c" stroke-width="0.75"/>
<line x1="196.19" y1="398.63" x2="200.56" y2="396.10" stroke="#3c3c3c" stroke-width="0.75"/>
<line x1="158.50" y1="418.50" x2="165.60" y2="422.60" stroke="#3c3c3c" stroke-width="0.75"/>
<line x1="159.05" y1="420.70" x2="163.42" y2="423.23" stroke="#3c3c3c" stroke-width="0.75"/>
<line x1="165.60" y1="422.60" x2="165.60" y2="430.80" stroke="#3c3c3c" stroke-width="0.75"/>
<line x1="165.60" y1="430.80" x2="158.50" y2="434.90" stroke="#3c3c3c" stroke-width="0.75"/>
<line x1="163.42" y1="430.17" x2="159.05" y2="432.70" stroke="#3c3c3c" stroke-width="0.75"/>
<line x1="158.50" y1="434.90" x2="151.40" y2="430.80" stroke="#3c3c3c" stroke-width="0.75"/>
<line x1="151.40" y1="430.80" x2="151.40" y2="422.60" stroke="#3c3c3c" stroke-width="0.75"/>
<line x1="153.03" y1="429.23" x2="153.03" y2="424.17" stroke="#3c3c3c" stroke-width="0.75"/>
<line x1="151.40" y1="422.60" x2="158.50" y2="418.50" stroke="#3c3c3c" stroke-width="0.75"/>
<line x1="165.60" y1="373.40" x2="172.70" y2="369.30" stroke="#3c3c3c" stroke-width="0.75"/>
<line x1="172.70" y1="369.30" x2="177.90" y2="372.30" stroke="#3c3c3c" stroke-width="0.75"/>
<line x1="172.93" y1="370.70" x2="177.35" y2="373.25" stroke="#3c3c3c" stroke-width="0.75"/>
<line x1="181.71" y1="372.30" x2="186.91" y2="369.30" stroke="#3c3c3c" stroke-width="0.75" stroke-dasharray="0.6,0.7"/>
<line x1="186.91" y1="369.30" x2="194.01" y2="373.40" stroke="#3c3c3c" stroke-width="0.75"/>
<polygon points="194.01,373.40 193.11,379.40 194.91,379.40" fill="#333"/>
<line x1="195.91" y1="382.70" x2="201.11" y2="385.70" stroke="#3c3c3c" stroke-width="0.75"/>
<line x1="196.14" y1="384.10" x2="200.56" y2="386.65" stroke="#3c3c3c" stroke-width="0.75"/>
<line x1="201.11" y1="385.70" x2="201.11" y2="393.90" stroke="#3c3c3c" stroke-width="0.75"/>
<line x1="151.40" y1="381.60" x2="144.30" y2="385.70" stroke="#3c3c3c" stroke-width="0.75"/>
<line x1="144.30" y1="385.70" x2="144.30" y2="391.70" stroke="#3c3c3c" stroke-width="0.75"/>
<line x1="143.20" y1="386.60" x2="143.20" y2="391.70" stroke="#3c3c3c" stroke-width="0.75"/>
<polygon points="142.39,395.00 136.75,397.22 137.65,398.78" fill="#333"/>
<line x1="137.20" y1="398.00" x2="137.20" y2="406.20" stroke="#3c3c3c" stroke-width="0.75"/>
<line x1="137.20" y1="406.20" x2="142.39" y2="409.20" stroke="#3c3c3c" stroke-width="0.75" stroke-dasharray="0.6,0.7"/>
<line x1="144.30" y1="412.50" x2="144.30" y2="418.50" stroke="#3c3c3c" stroke-width="0.75"/>
<line x1="143.20" y1="413.40" x2="143.20" y2="418.50" stroke="#3c3c3c" stroke-width="0.75"/>
<line x1="144.30" y1="418.50" x2="151.40" y2="422.60" stroke="#3c3c3c" stroke-width="0.75"/>
<line x1="165.60" y1="430.80" x2="172.70" y2="434.90" stroke="#3c3c3c" stroke-width="0.75"/>
<line x1="172.70" y1="434.90" x2="177.90" y2="431.90" stroke="#3c3c3c" stroke-width="0.75"/>
<line x1="174.03" y1="435.40" x2="178.45" y2="432.85" stroke="#3c3c3c" stroke-width="0.75"/>
<polygon points="181.71,431.90 186.46,435.68 187.36,434.12" fill="#333"/>
<line x1="186.91" y1="434.90" x2="194.01" y2="430.80" stroke="#3c3c3c" stroke-width="0.75"/>
<line x1="194.01" y1="430.80" x2="194.01" y2="424.80" stroke="#3c3c3c" stroke-width="0.75" stroke-dasharray="0.6,0.7"/>
<line x1="195.91" y1="421.50" x2="201.11" y2="418.50" stroke="#3c3c3c" stroke-width="0.75"/>
<line x1="197.24" y1="422.00" x2="201.66" y2="419.45" stroke="#3c3c3c" stroke-width="0.75"/>
<line x1="201.11" y1="418.50" x2="201.11" y2="410.30" stroke="#3c3c3c" stroke-width="0.75"/>
<text x="179.80" y="375.40" text-anchor="middle" font-family="Liberation Sans, sans-serif" font-size="5.8" fill="#222" stroke="#222" stroke-width="0.15">N</text>
<text x="194.01" y="383.60" text-anchor="middle" font-family="Liberation Sans, sans-serif" font-size="5.8" fill="#222" stroke="#222" stroke-width="0.15">N</text>
<text x="144.30" y="395.90" text-anchor="middle" font-family="Liberation Sans, sans-serif" font-size="5.8" fill="#222" stroke="#222" stroke-width="0.15">N</text>
<text x="144.30" y="412.30" text-anchor="middle" font-family="Liberation Sans, sans-serif" font-size="5.8" fill="#222" stroke="#222" stroke-width="0.15">N</text>
<text x="179.80" y="432.80" text-anchor="middle" font-family="Liberation Sans, sans-serif" font-size="5.8" fill="#222" stroke="#222" stroke-width="0.15">N</text>
<text x="194.01" y="424.60" text-anchor="middle" font-family="Liberation Sans, sans-serif" font-size="5.8" fill="#222" stroke="#222" stroke-width="0.15">N</text>
<text x="158.5" y="27.6" font-family="Liberation Sans, sans-serif" font-size="5.4" fill="#222" stroke="#222" stroke-width="0.12">SAr</text>
<text x="158.5" y="59" font-family="Liberation Sans, sans-serif" font-size="5.4" fill="#222" stroke="#222" stroke-width="0.12">SAr</text>
<text x="180.5" y="59.1" font-family="Liberation Sans, sans-serif" font-size="5.4" fill="#222" stroke="#222" stroke-width="0.12">ArS</text>
<text x="214" y="74.6" font-family="Liberation Sans, sans-serif" font-size="5.4" fill="#222" stroke="#222" stroke-width="0.12">SAr</text>
<text x="171.7" y="83" font-family="Liberation Sans, sans-serif" font-size="5.4" fill="#222" stroke="#222" stroke-width="0.12">SAr</text>
<text x="139.7" y="97.1" font-family="Liberation Sans, sans-serif" font-size="5.4" fill="#222" stroke="#222" stroke-width="0.12">ArS</text>
<text x="378.75" y="26.9" font-family="Liberation Sans, sans-serif" font-size="5.2" fill="#222" stroke="#222" stroke-width="0.12">SMe</text>
<text x="378.75" y="57.5" font-family="Liberation Sans, sans-serif" font-size="5.2" fill="#222" stroke="#222" stroke-width="0.12">SMe</text>
<text x="398" y="58" font-family="Liberation Sans, sans-serif" font-size="5.2" fill="#222" stroke="#222" stroke-width="0.12">MeS</text>
<text x="431.9" y="73" font-family="Liberation Sans, sans-serif" font-size="5.2" fill="#222" stroke="#222" stroke-width="0.12">SMe</text>
<text x="391.25" y="81.3" font-family="Liberation Sans, sans-serif" font-size="5.2" fill="#222" stroke="#222" stroke-width="0.12">SMe</text>
<text x="356.9" y="96" font-family="Liberation Sans, sans-serif" font-size="5.2" fill="#222" stroke="#222" stroke-width="0.12">MeS</text>
<text x="157.4" y="363.8" font-family="Liberation Sans, sans-serif" font-size="5.5" fill="#222" stroke="#222" stroke-width="0.12">ArH</text>
<text x="157.4" y="396.3" font-family="Liberation Sans, sans-serif" font-size="5.5" fill="#222" stroke="#222" stroke-width="0.12">ArH</text>
<text x="182" y="396" font-family="Liberation Sans, sans-serif" font-size="5.5" fill="#222" stroke="#222" stroke-width="0.12">ArH</text>
<text x="214.3" y="412.8" font-family="Liberation Sans, sans-serif" font-size="5.5" fill="#222" stroke="#222" stroke-width="0.12">ArH</text>
<text x="171.5" y="420.5" font-family="Liberation Sans, sans-serif" font-size="5.5" fill="#222" stroke="#222" stroke-width="0.12">ArH</text>
<text x="143.4" y="441" font-family="Liberation Sans, sans-serif" font-size="5.5" fill="#222" stroke="#222" stroke-width="0.12">ArH</text>
<text x="375" y="366" font-family="Liberation Sans, sans-serif" font-size="5.4" fill="#222" stroke="#222" stroke-width="0.12">HSAr</text>
<text x="375" y="396.7" font-family="Liberation Sans, sans-serif" font-size="5.4" fill="#222" stroke="#222" stroke-width="0.12">HSAr</text>
<text x="402.5" y="396.7" font-family="Liberation Sans, sans-serif" font-size="5.4" fill="#222" stroke="#222" stroke-width="0.12">HSAr</text>
<text x="430" y="412.8" font-family="Liberation Sans, sans-serif" font-size="5.4" fill="#222" stroke="#222" stroke-width="0.12">HSAr</text>
<text x="388.8" y="420" font-family="Liberation Sans, sans-serif" font-size="5.4" fill="#222" stroke="#222" stroke-width="0.12">HSAr</text>
<text x="361.7" y="436" font-family="Liberation Sans, sans-serif" font-size="5.4" fill="#222" stroke="#222" stroke-width="0.12">HSAr</text>
<text x="598.4" y="365.6" font-family="Liberation Sans, sans-serif" font-size="5.5" fill="#222" stroke="#222" stroke-width="0.12">ArH</text>
<text x="598.4" y="398.5" font-family="Liberation Sans, sans-serif" font-size="5.5" fill="#222" stroke="#222" stroke-width="0.12">ArH</text>
<text x="626.2" y="398.5" font-family="Liberation Sans, sans-serif" font-size="5.5" fill="#222" stroke="#222" stroke-width="0.12">ArH</text>
<text x="655.1" y="414.5" font-family="Liberation Sans, sans-serif" font-size="5.5" fill="#222" stroke="#222" stroke-width="0.12">ArH</text>
<text x="612.4" y="423.7" font-family="Liberation Sans, sans-serif" font-size="5.5" fill="#222" stroke="#222" stroke-width="0.12">ArH</text>
<text x="584.2" y="439" font-family="Liberation Sans, sans-serif" font-size="5.5" fill="#222" stroke="#222" stroke-width="0.12">ArH</text>
<rect x="40.20" y="0.70" width="191.00" height="273.90" fill="none" stroke="#111" stroke-width="1.4"/>
<line x1="40.20" y1="137.80" x2="231.20" y2="137.80" stroke="#111" stroke-width="1.4"/>
<line x1="80.41" y1="137.80" x2="80.41" y2="141.40" stroke="#111" stroke-width="1.2"/>
<line x1="80.41" y1="274.60" x2="80.41" y2="278.20" stroke="#111" stroke-width="1.2"/>
<text x="80.41" y="287.90" text-anchor="middle" class="tl">200</text>
<line x1="130.67" y1="137.80" x2="130.67" y2="141.40" stroke="#111" stroke-width="1.2"/>
<line x1="130.67" y1="274.60" x2="130.67" y2="278.20" stroke="#111" stroke-width="1.2"/>
<text x="130.67" y="287.90" text-anchor="middle" class="tl">250</text>
<line x1="180.94" y1="137.80" x2="180.94" y2="141.40" stroke="#111" stroke-width="1.2"/>
<line x1="180.94" y1="274.60" x2="180.94" y2="278.20" stroke="#111" stroke-width="1.2"/>
<text x="180.94" y="287.90" text-anchor="middle" class="tl">300</text>
<text x="135.50" y="302.90" text-anchor="middle" class="tl nm">nm</text>
<rect x="261.80" y="0.70" width="191.00" height="273.90" fill="none" stroke="#111" stroke-width="1.4"/>
<line x1="261.80" y1="137.80" x2="452.80" y2="137.80" stroke="#111" stroke-width="1.4"/>
<line x1="302.01" y1="137.80" x2="302.01" y2="141.40" stroke="#111" stroke-width="1.2"/>
<line x1="302.01" y1="274.60" x2="302.01" y2="278.20" stroke="#111" stroke-width="1.2"/>
<text x="302.01" y="287.90" text-anchor="middle" class="tl">200</text>
<line x1="352.27" y1="137.80" x2="352.27" y2="141.40" stroke="#111" stroke-width="1.2"/>
<line x1="352.27" y1="274.60" x2="352.27" y2="278.20" stroke="#111" stroke-width="1.2"/>
<text x="352.27" y="287.90" text-anchor="middle" class="tl">250</text>
<line x1="402.54" y1="137.80" x2="402.54" y2="141.40" stroke="#111" stroke-width="1.2"/>
<line x1="402.54" y1="274.60" x2="402.54" y2="278.20" stroke="#111" stroke-width="1.2"/>
<text x="402.54" y="287.90" text-anchor="middle" class="tl">300</text>
<text x="357.10" y="302.90" text-anchor="middle" class="tl nm">nm</text>
<rect x="483.60" y="0.70" width="191.00" height="273.90" fill="none" stroke="#111" stroke-width="1.4"/>
<line x1="483.60" y1="137.80" x2="674.60" y2="137.80" stroke="#111" stroke-width="1.4"/>
<line x1="523.81" y1="137.80" x2="523.81" y2="141.40" stroke="#111" stroke-width="1.2"/>
<line x1="523.81" y1="274.60" x2="523.81" y2="278.20" stroke="#111" stroke-width="1.2"/>
<text x="523.81" y="287.90" text-anchor="middle" class="tl">200</text>
<line x1="574.07" y1="137.80" x2="574.07" y2="141.40" stroke="#111" stroke-width="1.2"/>
<line x1="574.07" y1="274.60" x2="574.07" y2="278.20" stroke="#111" stroke-width="1.2"/>
<text x="574.07" y="287.90" text-anchor="middle" class="tl">250</text>
<line x1="624.34" y1="137.80" x2="624.34" y2="141.40" stroke="#111" stroke-width="1.2"/>
<line x1="624.34" y1="274.60" x2="624.34" y2="278.20" stroke="#111" stroke-width="1.2"/>
<text x="624.34" y="287.90" text-anchor="middle" class="tl">300</text>
<text x="578.90" y="302.90" text-anchor="middle" class="tl nm">nm</text>
<rect x="40.20" y="335.70" width="191.00" height="273.40" fill="none" stroke="#111" stroke-width="1.4"/>
<line x1="40.20" y1="472.40" x2="231.20" y2="472.40" stroke="#111" stroke-width="1.4"/>
<line x1="80.41" y1="472.40" x2="80.41" y2="476.00" stroke="#111" stroke-width="1.2"/>
<line x1="80.41" y1="609.10" x2="80.41" y2="612.70" stroke="#111" stroke-width="1.2"/>
<text x="80.41" y="622.40" text-anchor="middle" class="tl">200</text>
<line x1="130.67" y1="472.40" x2="130.67" y2="476.00" stroke="#111" stroke-width="1.2"/>
<line x1="130.67" y1="609.10" x2="130.67" y2="612.70" stroke="#111" stroke-width="1.2"/>
<text x="130.67" y="622.40" text-anchor="middle" class="tl">250</text>
<line x1="180.94" y1="472.40" x2="180.94" y2="476.00" stroke="#111" stroke-width="1.2"/>
<line x1="180.94" y1="609.10" x2="180.94" y2="612.70" stroke="#111" stroke-width="1.2"/>
<text x="180.94" y="622.40" text-anchor="middle" class="tl">300</text>
<text x="135.50" y="637.40" text-anchor="middle" class="tl nm">nm</text>
<rect x="261.80" y="335.70" width="191.00" height="273.40" fill="none" stroke="#111" stroke-width="1.4"/>
<line x1="261.80" y1="472.40" x2="452.80" y2="472.40" stroke="#111" stroke-width="1.4"/>
<line x1="302.01" y1="472.40" x2="302.01" y2="476.00" stroke="#111" stroke-width="1.2"/>
<line x1="302.01" y1="609.10" x2="302.01" y2="612.70" stroke="#111" stroke-width="1.2"/>
<text x="302.01" y="622.40" text-anchor="middle" class="tl">200</text>
<line x1="352.27" y1="472.40" x2="352.27" y2="476.00" stroke="#111" stroke-width="1.2"/>
<line x1="352.27" y1="609.10" x2="352.27" y2="612.70" stroke="#111" stroke-width="1.2"/>
<text x="352.27" y="622.40" text-anchor="middle" class="tl">250</text>
<line x1="402.54" y1="472.40" x2="402.54" y2="476.00" stroke="#111" stroke-width="1.2"/>
<line x1="402.54" y1="609.10" x2="402.54" y2="612.70" stroke="#111" stroke-width="1.2"/>
<text x="402.54" y="622.40" text-anchor="middle" class="tl">300</text>
<text x="357.10" y="637.40" text-anchor="middle" class="tl nm">nm</text>
<rect x="483.60" y="335.70" width="191.00" height="273.40" fill="none" stroke="#111" stroke-width="1.4"/>
<line x1="483.60" y1="472.40" x2="674.60" y2="472.40" stroke="#111" stroke-width="1.4"/>
<line x1="523.81" y1="472.40" x2="523.81" y2="476.00" stroke="#111" stroke-width="1.2"/>
<line x1="523.81" y1="609.10" x2="523.81" y2="612.70" stroke="#111" stroke-width="1.2"/>
<text x="523.81" y="622.40" text-anchor="middle" class="tl">200</text>
<line x1="574.07" y1="472.40" x2="574.07" y2="476.00" stroke="#111" stroke-width="1.2"/>
<line x1="574.07" y1="609.10" x2="574.07" y2="612.70" stroke="#111" stroke-width="1.2"/>
<text x="574.07" y="622.40" text-anchor="middle" class="tl">250</text>
<line x1="624.34" y1="472.40" x2="624.34" y2="476.00" stroke="#111" stroke-width="1.2"/>
<line x1="624.34" y1="609.10" x2="624.34" y2="612.70" stroke="#111" stroke-width="1.2"/>
<text x="624.34" y="622.40" text-anchor="middle" class="tl">300</text>
<text x="578.90" y="637.40" text-anchor="middle" class="tl nm">nm</text>
<line x1="36.40" y1="121.67" x2="40.20" y2="121.67" stroke="#111" stroke-width="1.2"/>
<text x="33.2" y="124.52" text-anchor="end" class="tl" style="font-size:8px" textLength="20.85" lengthAdjust="spacingAndGlyphs">20000</text>
<line x1="36.40" y1="105.54" x2="40.20" y2="105.54" stroke="#111" stroke-width="1.2"/>
<text x="33.2" y="108.39" text-anchor="end" class="tl" style="font-size:8px" textLength="20.85" lengthAdjust="spacingAndGlyphs">40000</text>
<line x1="36.40" y1="89.41" x2="40.20" y2="89.41" stroke="#111" stroke-width="1.2"/>
<text x="33.2" y="92.26" text-anchor="end" class="tl" style="font-size:8px" textLength="20.85" lengthAdjust="spacingAndGlyphs">60000</text>
<line x1="36.40" y1="73.28" x2="40.20" y2="73.28" stroke="#111" stroke-width="1.2"/>
<text x="33.2" y="76.13" text-anchor="end" class="tl" style="font-size:8px" textLength="20.85" lengthAdjust="spacingAndGlyphs">80000</text>
<line x1="36.40" y1="57.15" x2="40.20" y2="57.15" stroke="#111" stroke-width="1.2"/>
<text x="33.2" y="60.00" text-anchor="end" class="tl" style="font-size:8px" textLength="25.02" lengthAdjust="spacingAndGlyphs">100000</text>
<line x1="36.40" y1="41.02" x2="40.20" y2="41.02" stroke="#111" stroke-width="1.2"/>
<text x="33.2" y="43.87" text-anchor="end" class="tl" style="font-size:8px" textLength="25.02" lengthAdjust="spacingAndGlyphs">120000</text>
<line x1="36.40" y1="24.89" x2="40.20" y2="24.89" stroke="#111" stroke-width="1.2"/>
<text x="33.2" y="27.74" text-anchor="end" class="tl" style="font-size:8px" textLength="25.02" lengthAdjust="spacingAndGlyphs">140000</text>
<line x1="36.40" y1="8.76" x2="40.20" y2="8.76" stroke="#111" stroke-width="1.2"/>
<text x="33.2" y="11.61" text-anchor="end" class="tl" style="font-size:8px" textLength="25.02" lengthAdjust="spacingAndGlyphs">160000</text>
<line x1="258.00" y1="121.67" x2="261.80" y2="121.67" stroke="#111" stroke-width="1.2"/>
<line x1="258.00" y1="105.54" x2="261.80" y2="105.54" stroke="#111" stroke-width="1.2"/>
<line x1="258.00" y1="89.41" x2="261.80" y2="89.41" stroke="#111" stroke-width="1.2"/>
<line x1="258.00" y1="73.28" x2="261.80" y2="73.28" stroke="#111" stroke-width="1.2"/>
<line x1="258.00" y1="57.15" x2="261.80" y2="57.15" stroke="#111" stroke-width="1.2"/>
<line x1="258.00" y1="41.02" x2="261.80" y2="41.02" stroke="#111" stroke-width="1.2"/>
<line x1="258.00" y1="24.89" x2="261.80" y2="24.89" stroke="#111" stroke-width="1.2"/>
<line x1="258.00" y1="8.76" x2="261.80" y2="8.76" stroke="#111" stroke-width="1.2"/>
<line x1="479.80" y1="121.67" x2="483.60" y2="121.67" stroke="#111" stroke-width="1.2"/>
<line x1="479.80" y1="105.54" x2="483.60" y2="105.54" stroke="#111" stroke-width="1.2"/>
<line x1="479.80" y1="89.41" x2="483.60" y2="89.41" stroke="#111" stroke-width="1.2"/>
<line x1="479.80" y1="73.28" x2="483.60" y2="73.28" stroke="#111" stroke-width="1.2"/>
<line x1="479.80" y1="57.15" x2="483.60" y2="57.15" stroke="#111" stroke-width="1.2"/>
<line x1="479.80" y1="41.02" x2="483.60" y2="41.02" stroke="#111" stroke-width="1.2"/>
<line x1="479.80" y1="24.89" x2="483.60" y2="24.89" stroke="#111" stroke-width="1.2"/>
<line x1="479.80" y1="8.76" x2="483.60" y2="8.76" stroke="#111" stroke-width="1.2"/>
<line x1="36.40" y1="251.80" x2="40.20" y2="251.80" stroke="#111" stroke-width="1.2"/>
<text x="33.2" y="254.65" text-anchor="end" class="tl" style="font-size:8px" textLength="15.01" lengthAdjust="spacingAndGlyphs">-400</text>
<line x1="36.40" y1="229.00" x2="40.20" y2="229.00" stroke="#111" stroke-width="1.2"/>
<text x="33.2" y="231.85" text-anchor="end" class="tl" style="font-size:8px" textLength="15.01" lengthAdjust="spacingAndGlyphs">-200</text>
<line x1="36.40" y1="206.20" x2="40.20" y2="206.20" stroke="#111" stroke-width="1.2"/>
<text x="33.2" y="209.05" text-anchor="end" class="tl" style="font-size:8px" textLength="4.17" lengthAdjust="spacingAndGlyphs">0</text>
<line x1="36.40" y1="183.40" x2="40.20" y2="183.40" stroke="#111" stroke-width="1.2"/>
<text x="33.2" y="186.25" text-anchor="end" class="tl" style="font-size:8px" textLength="12.51" lengthAdjust="spacingAndGlyphs">200</text>
<line x1="36.40" y1="160.60" x2="40.20" y2="160.60" stroke="#111" stroke-width="1.2"/>
<text x="33.2" y="163.45" text-anchor="end" class="tl" style="font-size:8px" textLength="12.51" lengthAdjust="spacingAndGlyphs">400</text>
<line x1="258.00" y1="251.80" x2="261.80" y2="251.80" stroke="#111" stroke-width="1.2"/>
<line x1="258.00" y1="229.00" x2="261.80" y2="229.00" stroke="#111" stroke-width="1.2"/>
<line x1="258.00" y1="206.20" x2="261.80" y2="206.20" stroke="#111" stroke-width="1.2"/>
<line x1="258.00" y1="183.40" x2="261.80" y2="183.40" stroke="#111" stroke-width="1.2"/>
<line x1="258.00" y1="160.60" x2="261.80" y2="160.60" stroke="#111" stroke-width="1.2"/>
<line x1="479.80" y1="251.80" x2="483.60" y2="251.80" stroke="#111" stroke-width="1.2"/>
<line x1="479.80" y1="229.00" x2="483.60" y2="229.00" stroke="#111" stroke-width="1.2"/>
<line x1="479.80" y1="206.20" x2="483.60" y2="206.20" stroke="#111" stroke-width="1.2"/>
<line x1="479.80" y1="183.40" x2="483.60" y2="183.40" stroke="#111" stroke-width="1.2"/>
<line x1="479.80" y1="160.60" x2="483.60" y2="160.60" stroke="#111" stroke-width="1.2"/>
<line x1="36.40" y1="438.22" x2="40.20" y2="438.22" stroke="#111" stroke-width="1.2"/>
<text x="33.2" y="441.07" text-anchor="end" class="tl" style="font-size:8px" textLength="20.85" lengthAdjust="spacingAndGlyphs">50000</text>
<line x1="36.40" y1="404.05" x2="40.20" y2="404.05" stroke="#111" stroke-width="1.2"/>
<text x="33.2" y="406.90" text-anchor="end" class="tl" style="font-size:8px" textLength="25.02" lengthAdjust="spacingAndGlyphs">100000</text>
<line x1="36.40" y1="369.88" x2="40.20" y2="369.88" stroke="#111" stroke-width="1.2"/>
<text x="33.2" y="372.73" text-anchor="end" class="tl" style="font-size:8px" textLength="25.02" lengthAdjust="spacingAndGlyphs">150000</text>
<line x1="258.00" y1="438.22" x2="261.80" y2="438.22" stroke="#111" stroke-width="1.2"/>
<line x1="258.00" y1="404.05" x2="261.80" y2="404.05" stroke="#111" stroke-width="1.2"/>
<line x1="258.00" y1="369.88" x2="261.80" y2="369.88" stroke="#111" stroke-width="1.2"/>
<line x1="479.80" y1="438.22" x2="483.60" y2="438.22" stroke="#111" stroke-width="1.2"/>
<line x1="479.80" y1="404.05" x2="483.60" y2="404.05" stroke="#111" stroke-width="1.2"/>
<line x1="479.80" y1="369.88" x2="483.60" y2="369.88" stroke="#111" stroke-width="1.2"/>
<line x1="36.40" y1="593.91" x2="40.20" y2="593.91" stroke="#111" stroke-width="1.2"/>
<text x="33.2" y="596.76" text-anchor="end" class="tl" style="font-size:8px" textLength="19.18" lengthAdjust="spacingAndGlyphs">-1000</text>
<line x1="36.40" y1="578.72" x2="40.20" y2="578.72" stroke="#111" stroke-width="1.2"/>
<text x="33.2" y="581.57" text-anchor="end" class="tl" style="font-size:8px" textLength="15.01" lengthAdjust="spacingAndGlyphs">-800</text>
<line x1="36.40" y1="563.53" x2="40.20" y2="563.53" stroke="#111" stroke-width="1.2"/>
<text x="33.2" y="566.38" text-anchor="end" class="tl" style="font-size:8px" textLength="15.01" lengthAdjust="spacingAndGlyphs">-600</text>
<line x1="36.40" y1="548.34" x2="40.20" y2="548.34" stroke="#111" stroke-width="1.2"/>
<text x="33.2" y="551.19" text-anchor="end" class="tl" style="font-size:8px" textLength="15.01" lengthAdjust="spacingAndGlyphs">-400</text>
<line x1="36.40" y1="533.16" x2="40.20" y2="533.16" stroke="#111" stroke-width="1.2"/>
<text x="33.2" y="536.01" text-anchor="end" class="tl" style="font-size:8px" textLength="15.01" lengthAdjust="spacingAndGlyphs">-200</text>
<line x1="36.40" y1="517.97" x2="40.20" y2="517.97" stroke="#111" stroke-width="1.2"/>
<text x="33.2" y="520.82" text-anchor="end" class="tl" style="font-size:8px" textLength="4.17" lengthAdjust="spacingAndGlyphs">0</text>
<line x1="36.40" y1="502.78" x2="40.20" y2="502.78" stroke="#111" stroke-width="1.2"/>
<text x="33.2" y="505.63" text-anchor="end" class="tl" style="font-size:8px" textLength="12.51" lengthAdjust="spacingAndGlyphs">200</text>
<line x1="36.40" y1="487.59" x2="40.20" y2="487.59" stroke="#111" stroke-width="1.2"/>
<text x="33.2" y="490.44" text-anchor="end" class="tl" style="font-size:8px" textLength="12.51" lengthAdjust="spacingAndGlyphs">400</text>
<line x1="258.00" y1="593.91" x2="261.80" y2="593.91" stroke="#111" stroke-width="1.2"/>
<line x1="258.00" y1="578.72" x2="261.80" y2="578.72" stroke="#111" stroke-width="1.2"/>
<line x1="258.00" y1="563.53" x2="261.80" y2="563.53" stroke="#111" stroke-width="1.2"/>
<line x1="258.00" y1="548.34" x2="261.80" y2="548.34" stroke="#111" stroke-width="1.2"/>
<line x1="258.00" y1="533.16" x2="261.80" y2="533.16" stroke="#111" stroke-width="1.2"/>
<line x1="258.00" y1="517.97" x2="261.80" y2="517.97" stroke="#111" stroke-width="1.2"/>
<line x1="258.00" y1="502.78" x2="261.80" y2="502.78" stroke="#111" stroke-width="1.2"/>
<line x1="258.00" y1="487.59" x2="261.80" y2="487.59" stroke="#111" stroke-width="1.2"/>
<line x1="479.80" y1="593.91" x2="483.60" y2="593.91" stroke="#111" stroke-width="1.2"/>
<line x1="479.80" y1="578.72" x2="483.60" y2="578.72" stroke="#111" stroke-width="1.2"/>
<line x1="479.80" y1="563.53" x2="483.60" y2="563.53" stroke="#111" stroke-width="1.2"/>
<line x1="479.80" y1="548.34" x2="483.60" y2="548.34" stroke="#111" stroke-width="1.2"/>
<line x1="479.80" y1="533.16" x2="483.60" y2="533.16" stroke="#111" stroke-width="1.2"/>
<line x1="479.80" y1="517.97" x2="483.60" y2="517.97" stroke="#111" stroke-width="1.2"/>
<line x1="479.80" y1="502.78" x2="483.60" y2="502.78" stroke="#111" stroke-width="1.2"/>
<line x1="479.80" y1="487.59" x2="483.60" y2="487.59" stroke="#111" stroke-width="1.2"/>
<text x="190.8" y="17.7" class="ti">conf. 26</text>
<text x="414.9" y="17.7" class="ti">Mod. 1</text>
<text x="637.1" y="17.9" class="ti">Mod. 2</text>
<text x="193.1" y="352.9" class="ti">Mod. 3</text>
<text x="415.1" y="353" class="ti">Mod. 4</text>
<text x="636.9" y="353" class="ti">Mod. 5</text>
<text x="1.6" y="67" class="gr" font-size="10.5">ε</text>
<text x="8.4" y="204.4" class="gr" font-size="11">Δε</text>
<text x="1" y="402" class="gr" font-size="10.5">ε</text>
<text x="4" y="539.2" class="gr" font-size="11">Δε</text>
</svg></body></html>
